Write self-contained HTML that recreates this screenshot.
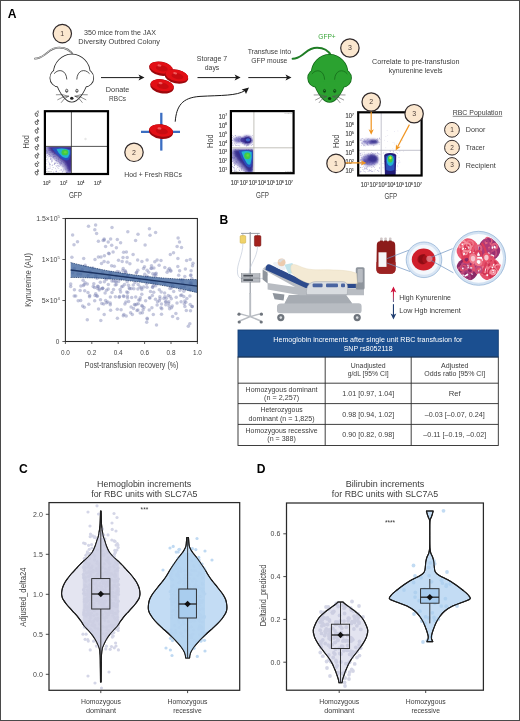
<!DOCTYPE html>
<html><head><meta charset="utf-8"><title>Figure</title>
<style>
html,body{margin:0;padding:0;background:#fff;}
body{width:520px;height:721px;overflow:hidden;font-family:"Liberation Sans",sans-serif;}
svg{display:block;font-family:"Liberation Sans",sans-serif;opacity:0.999;will-change:transform;}
</style></head><body>
<svg width="520" height="721" viewBox="0 0 520 721">
<rect x="0" y="0" width="520" height="721" fill="#ffffff"/>
<!-- p1_top.py -->
<text x="12.20" y="17.86" font-size="12.10" text-anchor="middle" fill="#000" font-weight="bold" >A</text>
<circle cx="62.30" cy="33.60" r="9.20" fill="#fbe7cf" stroke="#30292a" stroke-width="1.20"/><text x="62.30" y="35.92" font-size="7.00" text-anchor="middle" fill="#4a3c38" font-weight="normal" >1</text>
<text x="120.00" y="35.42" font-size="7.00" text-anchor="middle" fill="#3c3c3c" font-weight="normal" textLength="72.00" lengthAdjust="spacingAndGlyphs" >350 mice from the JAX</text>
<text x="119.20" y="44.22" font-size="7.00" text-anchor="middle" fill="#3c3c3c" font-weight="normal" textLength="81.70" lengthAdjust="spacingAndGlyphs" >Diversity Outbred Colony</text>
<path d="M73.3 55.6 C70.8 50.6 65.8 47.6 59.3 47.6 C51.8 47.6 48.8 51.6 44.8 54.6 C41.3 57.2 38.3 58.6 34.8 58.6" fill="none" stroke="#555" stroke-width="1.7" stroke-linecap="round"/>
<path d="M73.3 55.6 C70.8 50.6 65.8 47.6 59.3 47.6 C51.8 47.6 48.8 51.6 44.8 54.6 C41.3 57.2 38.3 58.6 34.8 58.6" fill="none" stroke="#fff" stroke-width="0.7" stroke-linecap="round"/>
<ellipse cx="71.8" cy="73.0" rx="18" ry="18.4" fill="#ffffff" stroke="#2a2a2a" stroke-width="1.60" stroke-linejoin="round"/>
<ellipse cx="58.6" cy="77.9" rx="8.3" ry="8.6" fill="#ffffff" stroke="#2a2a2a" stroke-width="1.60" stroke-linejoin="round"/>
<ellipse cx="85.0" cy="77.9" rx="8.3" ry="8.6" fill="#ffffff" stroke="#2a2a2a" stroke-width="1.60" stroke-linejoin="round"/>
<path d="M55.8 81.6 C59.8 93.6 66.3 101.8 71.8 101.8 C77.3 101.8 83.8 93.6 87.8 81.6 Z" fill="#ffffff" stroke="#2a2a2a" stroke-width="1.60" stroke-linejoin="round"/>
<ellipse cx="71.8" cy="73.0" rx="18" ry="18.4" fill="#ffffff"/>
<ellipse cx="58.6" cy="77.9" rx="8.3" ry="8.6" fill="#ffffff"/>
<ellipse cx="85.0" cy="77.9" rx="8.3" ry="8.6" fill="#ffffff"/>
<path d="M55.8 81.6 C59.8 93.6 66.3 101.8 71.8 101.8 C77.3 101.8 83.8 93.6 87.8 81.6 Z" fill="#ffffff"/>
<path d="M54.3 73.4 C58.8 68.1 66.4 70.1 66.8 79.1" fill="none" stroke="#2a2a2a" stroke-width="0.80" stroke-linecap="round"/>
<path d="M89.3 73.4 C84.8 68.1 77.2 70.1 76.8 79.1" fill="none" stroke="#2a2a2a" stroke-width="0.80" stroke-linecap="round"/>
<ellipse cx="66.7" cy="90.8" rx="1.15" ry="1.6" fill="#ffffff" stroke="#222" stroke-width="0.7"/>
<circle cx="66.7" cy="91.2" r="0.55" fill="#222"/>
<ellipse cx="76.9" cy="90.8" rx="1.15" ry="1.6" fill="#ffffff" stroke="#222" stroke-width="0.7"/>
<circle cx="76.9" cy="91.2" r="0.55" fill="#222"/>
<ellipse cx="71.8" cy="98.2" rx="1.7" ry="1.5" fill="#222"/>
<path d="M68.5 96.2 Q62.8 93.8 56.3 94.7" fill="none" stroke="#444" stroke-width="0.6" stroke-linecap="round"/>
<path d="M68.5 96.2 Q62.8 96.1 57.7 99.7" fill="none" stroke="#444" stroke-width="0.6" stroke-linecap="round"/>
<path d="M68.5 96.2 Q63.8 98.1 61.3 102.4" fill="none" stroke="#444" stroke-width="0.6" stroke-linecap="round"/>
<path d="M75.1 96.2 Q80.8 93.8 87.3 94.7" fill="none" stroke="#444" stroke-width="0.6" stroke-linecap="round"/>
<path d="M75.1 96.2 Q80.8 96.1 85.9 99.7" fill="none" stroke="#444" stroke-width="0.6" stroke-linecap="round"/>
<path d="M75.1 96.2 Q79.8 98.1 82.3 102.4" fill="none" stroke="#444" stroke-width="0.6" stroke-linecap="round"/>
<line x1="101.00" y1="77.60" x2="140.00" y2="77.60" stroke="#1a1a1a" stroke-width="1.00"/><path d="M144.50 77.60 L138.50 80.60 L140.00 77.60 L138.50 74.60 Z" fill="#1a1a1a"/>
<text x="117.60" y="91.92" font-size="7.00" text-anchor="middle" fill="#3c3c3c" font-weight="normal" textLength="23.50" lengthAdjust="spacingAndGlyphs" >Donate</text>
<text x="117.60" y="100.72" font-size="7.00" text-anchor="middle" fill="#3c3c3c" font-weight="normal" textLength="17.00" lengthAdjust="spacingAndGlyphs" >RBCs</text>
<g transform="translate(161.0 68.2) rotate(10)"><ellipse cx="0" cy="0.5" rx="12.0" ry="7.0" fill="#9c080d"/><ellipse cx="0" cy="-0.5" rx="11.6" ry="5.7" fill="#e20f15"/><ellipse cx="0.8" cy="0" rx="6.0" ry="2.9" fill="#c80b11"/><ellipse cx="-2" cy="-2.4" rx="2" ry="1.1" fill="#f4686a" opacity="0.85"/></g>
<g transform="translate(162.1 85.8) rotate(10)"><ellipse cx="0" cy="0.5" rx="12.0" ry="7.0" fill="#9c080d"/><ellipse cx="0" cy="-0.5" rx="11.6" ry="5.7" fill="#e20f15"/><ellipse cx="0.8" cy="0" rx="6.0" ry="2.9" fill="#c80b11"/><ellipse cx="-2" cy="-2.4" rx="2" ry="1.1" fill="#f4686a" opacity="0.85"/></g>
<g transform="translate(176.6 76.0) rotate(12)"><ellipse cx="0" cy="0.5" rx="12.0" ry="7.0" fill="#9c080d"/><ellipse cx="0" cy="-0.5" rx="11.6" ry="5.7" fill="#e20f15"/><ellipse cx="0.8" cy="0" rx="6.0" ry="2.9" fill="#c80b11"/><ellipse cx="-2" cy="-2.4" rx="2" ry="1.1" fill="#f4686a" opacity="0.85"/></g>
<line x1="197.50" y1="77.60" x2="236.10" y2="77.60" stroke="#1a1a1a" stroke-width="1.00"/><path d="M240.60 77.60 L234.60 80.60 L236.10 77.60 L234.60 74.60 Z" fill="#1a1a1a"/>
<text x="212.00" y="61.27" font-size="7.00" text-anchor="middle" fill="#3c3c3c" font-weight="normal" textLength="30.50" lengthAdjust="spacingAndGlyphs" >Storage 7</text>
<text x="212.00" y="69.72" font-size="7.00" text-anchor="middle" fill="#3c3c3c" font-weight="normal" textLength="14.50" lengthAdjust="spacingAndGlyphs" >days</text>
<line x1="248.30" y1="77.60" x2="287.00" y2="77.60" stroke="#1a1a1a" stroke-width="1.00"/><path d="M291.50 77.60 L285.50 80.60 L287.00 77.60 L285.50 74.60 Z" fill="#1a1a1a"/>
<text x="269.40" y="53.72" font-size="7.00" text-anchor="middle" fill="#3c3c3c" font-weight="normal" textLength="43.50" lengthAdjust="spacingAndGlyphs" >Transfuse into</text>
<text x="269.30" y="62.52" font-size="7.00" text-anchor="middle" fill="#3c3c3c" font-weight="normal" textLength="36.10" lengthAdjust="spacingAndGlyphs" >GFP mouse</text>
<path d="M175.2 121.7 C176.5 106 182 97.6 200 96.4 C221 95.2 237 96 245 90.5" fill="none" stroke="#1a1a1a" stroke-width="1"/>
<path d="M249 87.4 L246 94 L244.6 91 L241.6 89.6 Z" fill="#1a1a1a"/>
<line x1="161.3" y1="112.8" x2="161.3" y2="150.6" stroke="#3b6ec2" stroke-width="2.3"/>
<line x1="141" y1="131.8" x2="180" y2="131.8" stroke="#3b6ec2" stroke-width="2.3"/>
<g transform="translate(161.1 131.1) rotate(8)"><ellipse cx="0" cy="0.5" rx="12.2" ry="7.3" fill="#9c080d"/><ellipse cx="0" cy="-0.5" rx="11.8" ry="6.0" fill="#e20f15"/><ellipse cx="0.8" cy="0" rx="6.1" ry="3.0" fill="#c80b11"/><ellipse cx="-2" cy="-2.4" rx="2" ry="1.1" fill="#f4686a" opacity="0.85"/></g>
<circle cx="134.00" cy="152.30" r="9.20" fill="#fbe7cf" stroke="#30292a" stroke-width="1.20"/><text x="134.00" y="154.62" font-size="7.00" text-anchor="middle" fill="#4a3c38" font-weight="normal" >2</text>
<text x="153.10" y="176.77" font-size="7.00" text-anchor="middle" fill="#3c3c3c" font-weight="normal" textLength="57.75" lengthAdjust="spacingAndGlyphs" >Hod + Fresh RBCs</text>
<path d="M331.1 55.8 C328.6 50.8 323.6 47.8 317.1 47.8 C309.6 47.8 306.6 51.8 302.6 54.8 C299.1 57.4 296.1 58.8 292.6 58.8" fill="none" stroke="#1f7d25" stroke-width="2.0" stroke-linecap="round"/>
<ellipse cx="329.6" cy="73.2" rx="18" ry="18.4" fill="#2ba230" stroke="#156b1b" stroke-width="1.60" stroke-linejoin="round"/>
<ellipse cx="316.4" cy="78.1" rx="8.3" ry="8.6" fill="#2ba230" stroke="#156b1b" stroke-width="1.60" stroke-linejoin="round"/>
<ellipse cx="342.8" cy="78.1" rx="8.3" ry="8.6" fill="#2ba230" stroke="#156b1b" stroke-width="1.60" stroke-linejoin="round"/>
<path d="M313.6 81.8 C317.6 93.8 324.1 102.0 329.6 102.0 C335.1 102.0 341.6 93.8 345.6 81.8 Z" fill="#2ba230" stroke="#156b1b" stroke-width="1.60" stroke-linejoin="round"/>
<ellipse cx="329.6" cy="73.2" rx="18" ry="18.4" fill="#2ba230"/>
<ellipse cx="316.4" cy="78.1" rx="8.3" ry="8.6" fill="#2ba230"/>
<ellipse cx="342.8" cy="78.1" rx="8.3" ry="8.6" fill="#2ba230"/>
<path d="M313.6 81.8 C317.6 93.8 324.1 102.0 329.6 102.0 C335.1 102.0 341.6 93.8 345.6 81.8 Z" fill="#2ba230"/>
<path d="M312.1 73.6 C316.6 68.3 324.2 70.3 324.6 79.3" fill="none" stroke="#156b1b" stroke-width="0.80" stroke-linecap="round"/>
<path d="M347.1 73.6 C342.6 68.3 335.0 70.3 334.6 79.3" fill="none" stroke="#156b1b" stroke-width="0.80" stroke-linecap="round"/>
<ellipse cx="324.5" cy="91.0" rx="1.15" ry="1.6" fill="#2ba230" stroke="#0d3d10" stroke-width="0.7"/>
<circle cx="324.5" cy="91.4" r="0.55" fill="#0d3d10"/>
<ellipse cx="334.7" cy="91.0" rx="1.15" ry="1.6" fill="#2ba230" stroke="#0d3d10" stroke-width="0.7"/>
<circle cx="334.7" cy="91.4" r="0.55" fill="#0d3d10"/>
<ellipse cx="329.6" cy="98.4" rx="1.7" ry="1.5" fill="#0d3d10"/>
<path d="M326.3 96.4 Q320.6 94.0 314.1 94.9" fill="none" stroke="#555" stroke-width="0.6" stroke-linecap="round"/>
<path d="M326.3 96.4 Q320.6 96.3 315.5 99.9" fill="none" stroke="#555" stroke-width="0.6" stroke-linecap="round"/>
<path d="M326.3 96.4 Q321.6 98.3 319.1 102.6" fill="none" stroke="#555" stroke-width="0.6" stroke-linecap="round"/>
<path d="M332.9 96.4 Q338.6 94.0 345.1 94.9" fill="none" stroke="#555" stroke-width="0.6" stroke-linecap="round"/>
<path d="M332.9 96.4 Q338.6 96.3 343.7 99.9" fill="none" stroke="#555" stroke-width="0.6" stroke-linecap="round"/>
<path d="M332.9 96.4 Q337.6 98.3 340.1 102.6" fill="none" stroke="#555" stroke-width="0.6" stroke-linecap="round"/>
<text x="327.00" y="38.70" font-size="7.50" text-anchor="middle" fill="#3aa63a" font-weight="normal" textLength="17.50" lengthAdjust="spacingAndGlyphs" >GFP+</text>
<circle cx="349.90" cy="48.00" r="9.20" fill="#fbe7cf" stroke="#30292a" stroke-width="1.20"/><text x="349.90" y="50.32" font-size="7.00" text-anchor="middle" fill="#4a3c38" font-weight="normal" >3</text>
<text x="415.80" y="64.02" font-size="7.00" text-anchor="middle" fill="#3c3c3c" font-weight="normal" textLength="87.70" lengthAdjust="spacingAndGlyphs" >Correlate to pre-transfusion</text>
<text x="415.70" y="72.52" font-size="7.00" text-anchor="middle" fill="#3c3c3c" font-weight="normal" textLength="53.80" lengthAdjust="spacingAndGlyphs" >kynurenine levels</text>
<!-- p2_flow.py -->
<defs><filter id="bl1" x="-30%" y="-30%" width="160%" height="160%"><feGaussianBlur stdDeviation="0.9"/></filter><filter id="bl2" x="-30%" y="-30%" width="160%" height="160%"><feGaussianBlur stdDeviation="0.7"/></filter><filter id="bl3" x="-30%" y="-30%" width="160%" height="160%"><feGaussianBlur stdDeviation="0.5"/></filter></defs>
<rect x="44.9" y="111.2" width="63.1" height="62.8" fill="#fff"/>
<clipPath id="c1"><rect x="44.9" y="111.2" width="63.1" height="62.8"/></clipPath>
<g clip-path="url(#c1)">
<clipPath id="c1q"><rect x="45" y="146.8" width="26" height="27"/></clipPath><g clip-path="url(#c1q)">
<g fill="#4a3fa0" opacity="0.60"><circle cx="51.7" cy="162.1" r="0.42"/><circle cx="54.9" cy="163.5" r="0.42"/><circle cx="61.0" cy="150.6" r="0.42"/><circle cx="46.3" cy="169.1" r="0.42"/><circle cx="52.2" cy="154.6" r="0.42"/><circle cx="69.9" cy="160.3" r="0.42"/><circle cx="66.1" cy="160.4" r="0.42"/><circle cx="61.3" cy="152.6" r="0.42"/><circle cx="61.2" cy="169.8" r="0.42"/><circle cx="58.6" cy="166.8" r="0.42"/><circle cx="62.1" cy="150.5" r="0.42"/><circle cx="64.2" cy="163.2" r="0.42"/><circle cx="53.2" cy="149.7" r="0.42"/><circle cx="66.8" cy="160.3" r="0.42"/><circle cx="63.3" cy="170.1" r="0.42"/><circle cx="63.1" cy="171.1" r="0.42"/><circle cx="55.5" cy="168.2" r="0.42"/><circle cx="56.7" cy="171.5" r="0.42"/><circle cx="67.1" cy="151.3" r="0.42"/><circle cx="49.3" cy="154.2" r="0.42"/><circle cx="69.2" cy="159.5" r="0.42"/><circle cx="61.0" cy="156.2" r="0.42"/><circle cx="58.2" cy="158.3" r="0.42"/><circle cx="54.4" cy="163.0" r="0.42"/><circle cx="60.0" cy="170.7" r="0.42"/><circle cx="62.4" cy="171.3" r="0.42"/><circle cx="66.6" cy="172.8" r="0.42"/><circle cx="62.1" cy="152.9" r="0.42"/><circle cx="66.7" cy="172.2" r="0.42"/><circle cx="67.7" cy="162.7" r="0.42"/><circle cx="63.1" cy="154.1" r="0.42"/><circle cx="66.0" cy="162.8" r="0.42"/><circle cx="52.8" cy="150.5" r="0.42"/><circle cx="66.5" cy="172.8" r="0.42"/><circle cx="48.1" cy="168.2" r="0.42"/><circle cx="55.9" cy="152.6" r="0.42"/><circle cx="53.1" cy="167.5" r="0.42"/><circle cx="66.9" cy="150.1" r="0.42"/><circle cx="60.7" cy="150.1" r="0.42"/><circle cx="63.2" cy="156.9" r="0.42"/><circle cx="67.1" cy="172.5" r="0.42"/><circle cx="58.1" cy="173.0" r="0.42"/><circle cx="53.4" cy="150.8" r="0.42"/><circle cx="60.4" cy="149.8" r="0.42"/><circle cx="50.7" cy="158.8" r="0.42"/><circle cx="60.7" cy="152.7" r="0.42"/><circle cx="47.0" cy="169.8" r="0.42"/><circle cx="53.5" cy="172.0" r="0.42"/><circle cx="67.5" cy="158.1" r="0.42"/><circle cx="57.0" cy="161.5" r="0.42"/><circle cx="61.5" cy="163.3" r="0.42"/><circle cx="59.4" cy="163.9" r="0.42"/><circle cx="68.6" cy="161.2" r="0.42"/><circle cx="56.3" cy="166.3" r="0.42"/><circle cx="51.7" cy="156.2" r="0.42"/><circle cx="69.5" cy="161.5" r="0.42"/><circle cx="59.2" cy="149.3" r="0.42"/><circle cx="56.0" cy="162.9" r="0.42"/><circle cx="46.5" cy="163.8" r="0.42"/><circle cx="61.2" cy="150.4" r="0.42"/><circle cx="61.1" cy="160.2" r="0.42"/><circle cx="62.3" cy="157.5" r="0.42"/><circle cx="63.0" cy="166.7" r="0.42"/><circle cx="46.5" cy="150.5" r="0.42"/><circle cx="62.2" cy="172.1" r="0.42"/><circle cx="52.0" cy="160.0" r="0.42"/><circle cx="60.2" cy="156.7" r="0.42"/><circle cx="54.7" cy="156.5" r="0.42"/><circle cx="54.9" cy="163.3" r="0.42"/><circle cx="53.2" cy="158.1" r="0.42"/><circle cx="64.5" cy="149.6" r="0.42"/><circle cx="59.7" cy="166.6" r="0.42"/><circle cx="53.4" cy="154.3" r="0.42"/><circle cx="65.3" cy="154.7" r="0.42"/><circle cx="50.5" cy="159.4" r="0.42"/><circle cx="62.8" cy="151.4" r="0.42"/><circle cx="53.7" cy="157.0" r="0.42"/><circle cx="66.0" cy="159.5" r="0.42"/><circle cx="66.5" cy="153.1" r="0.42"/><circle cx="54.1" cy="164.6" r="0.42"/><circle cx="67.2" cy="159.8" r="0.42"/><circle cx="51.4" cy="151.9" r="0.42"/><circle cx="58.7" cy="153.6" r="0.42"/><circle cx="65.4" cy="169.1" r="0.42"/><circle cx="50.4" cy="155.7" r="0.42"/><circle cx="65.4" cy="164.4" r="0.42"/><circle cx="65.4" cy="157.3" r="0.42"/><circle cx="49.1" cy="156.0" r="0.42"/><circle cx="65.1" cy="155.5" r="0.42"/><circle cx="54.3" cy="159.0" r="0.42"/><circle cx="56.1" cy="158.8" r="0.42"/><circle cx="68.1" cy="152.7" r="0.42"/><circle cx="46.1" cy="171.6" r="0.42"/><circle cx="67.1" cy="172.7" r="0.42"/><circle cx="56.4" cy="171.8" r="0.42"/><circle cx="68.3" cy="154.3" r="0.42"/><circle cx="63.9" cy="169.1" r="0.42"/><circle cx="61.9" cy="161.5" r="0.42"/><circle cx="52.9" cy="157.2" r="0.42"/><circle cx="51.5" cy="150.6" r="0.42"/><circle cx="60.1" cy="155.9" r="0.42"/><circle cx="65.4" cy="150.1" r="0.42"/><circle cx="67.7" cy="165.6" r="0.42"/><circle cx="68.2" cy="170.5" r="0.42"/><circle cx="67.6" cy="162.8" r="0.42"/><circle cx="46.3" cy="166.9" r="0.42"/><circle cx="50.1" cy="156.2" r="0.42"/><circle cx="61.9" cy="161.6" r="0.42"/><circle cx="55.9" cy="171.5" r="0.42"/><circle cx="60.7" cy="157.2" r="0.42"/><circle cx="52.1" cy="169.7" r="0.42"/><circle cx="57.5" cy="167.8" r="0.42"/><circle cx="54.4" cy="153.7" r="0.42"/><circle cx="58.8" cy="168.6" r="0.42"/><circle cx="50.1" cy="168.0" r="0.42"/><circle cx="68.1" cy="168.3" r="0.42"/><circle cx="65.8" cy="149.2" r="0.42"/><circle cx="61.1" cy="169.7" r="0.42"/><circle cx="47.2" cy="155.5" r="0.42"/><circle cx="52.4" cy="161.7" r="0.42"/><circle cx="56.2" cy="160.3" r="0.42"/><circle cx="64.6" cy="149.0" r="0.42"/><circle cx="47.3" cy="152.0" r="0.42"/><circle cx="49.0" cy="150.6" r="0.42"/><circle cx="69.4" cy="169.5" r="0.42"/><circle cx="48.1" cy="161.1" r="0.42"/><circle cx="53.6" cy="156.5" r="0.42"/><circle cx="54.4" cy="164.5" r="0.42"/><circle cx="60.1" cy="157.7" r="0.42"/><circle cx="50.6" cy="156.9" r="0.42"/><circle cx="49.0" cy="162.3" r="0.42"/><circle cx="63.2" cy="158.1" r="0.42"/><circle cx="47.9" cy="153.3" r="0.42"/><circle cx="55.0" cy="163.5" r="0.42"/><circle cx="64.8" cy="158.1" r="0.42"/><circle cx="65.2" cy="164.0" r="0.42"/><circle cx="56.4" cy="157.9" r="0.42"/><circle cx="57.9" cy="165.9" r="0.42"/><circle cx="56.1" cy="165.7" r="0.42"/><circle cx="57.1" cy="154.9" r="0.42"/><circle cx="58.9" cy="165.7" r="0.42"/><circle cx="47.7" cy="159.2" r="0.42"/><circle cx="56.2" cy="170.1" r="0.42"/><circle cx="68.5" cy="158.0" r="0.42"/><circle cx="67.5" cy="168.0" r="0.42"/><circle cx="52.3" cy="160.1" r="0.42"/><circle cx="49.0" cy="168.5" r="0.42"/><circle cx="61.9" cy="170.3" r="0.42"/><circle cx="65.0" cy="165.0" r="0.42"/><circle cx="63.6" cy="162.5" r="0.42"/></g>
<g fill="#4a3fa0" opacity="0.60"><circle cx="49.8" cy="150.8" r="0.42"/><circle cx="52.3" cy="151.6" r="0.42"/><circle cx="47.1" cy="155.8" r="0.42"/><circle cx="60.7" cy="162.6" r="0.42"/><circle cx="58.2" cy="152.8" r="0.42"/><circle cx="54.6" cy="153.7" r="0.42"/><circle cx="48.8" cy="150.8" r="0.42"/><circle cx="49.4" cy="164.8" r="0.42"/><circle cx="59.3" cy="162.7" r="0.42"/><circle cx="58.8" cy="152.3" r="0.42"/><circle cx="51.0" cy="159.7" r="0.42"/><circle cx="57.7" cy="163.5" r="0.42"/><circle cx="60.1" cy="150.5" r="0.42"/><circle cx="55.7" cy="160.4" r="0.42"/><circle cx="54.1" cy="152.0" r="0.42"/><circle cx="53.6" cy="150.5" r="0.42"/><circle cx="61.0" cy="163.7" r="0.42"/><circle cx="54.8" cy="154.1" r="0.42"/><circle cx="60.5" cy="158.7" r="0.42"/><circle cx="60.1" cy="163.4" r="0.42"/><circle cx="54.1" cy="156.0" r="0.42"/><circle cx="55.6" cy="156.3" r="0.42"/><circle cx="48.6" cy="154.2" r="0.42"/><circle cx="59.0" cy="149.7" r="0.42"/><circle cx="46.7" cy="159.6" r="0.42"/><circle cx="50.5" cy="158.1" r="0.42"/><circle cx="53.5" cy="154.8" r="0.42"/><circle cx="62.0" cy="152.3" r="0.42"/><circle cx="52.6" cy="152.4" r="0.42"/><circle cx="56.1" cy="153.7" r="0.42"/><circle cx="51.7" cy="161.7" r="0.42"/><circle cx="51.1" cy="158.5" r="0.42"/><circle cx="60.5" cy="150.7" r="0.42"/><circle cx="47.0" cy="152.9" r="0.42"/><circle cx="58.2" cy="159.5" r="0.42"/><circle cx="49.8" cy="154.6" r="0.42"/><circle cx="48.8" cy="156.8" r="0.42"/><circle cx="46.7" cy="160.9" r="0.42"/><circle cx="60.3" cy="165.2" r="0.42"/><circle cx="57.8" cy="165.3" r="0.42"/><circle cx="46.3" cy="153.9" r="0.42"/><circle cx="61.5" cy="162.2" r="0.42"/><circle cx="52.6" cy="165.0" r="0.42"/><circle cx="55.9" cy="162.9" r="0.42"/><circle cx="50.7" cy="152.3" r="0.42"/><circle cx="53.1" cy="151.3" r="0.42"/><circle cx="52.1" cy="165.4" r="0.42"/><circle cx="51.3" cy="149.2" r="0.42"/><circle cx="46.7" cy="151.9" r="0.42"/><circle cx="58.5" cy="155.2" r="0.42"/><circle cx="50.6" cy="150.7" r="0.42"/><circle cx="61.7" cy="156.2" r="0.42"/><circle cx="49.3" cy="150.0" r="0.42"/><circle cx="46.9" cy="151.9" r="0.42"/><circle cx="56.8" cy="151.5" r="0.42"/><circle cx="46.7" cy="157.3" r="0.42"/><circle cx="50.0" cy="166.0" r="0.42"/><circle cx="48.0" cy="158.0" r="0.42"/><circle cx="58.4" cy="156.0" r="0.42"/><circle cx="61.8" cy="157.1" r="0.42"/><circle cx="49.9" cy="156.0" r="0.42"/><circle cx="46.6" cy="156.2" r="0.42"/><circle cx="50.0" cy="164.1" r="0.42"/><circle cx="59.3" cy="157.5" r="0.42"/><circle cx="46.5" cy="153.3" r="0.42"/><circle cx="49.9" cy="152.5" r="0.42"/><circle cx="49.7" cy="163.8" r="0.42"/><circle cx="48.3" cy="149.9" r="0.42"/><circle cx="60.8" cy="158.6" r="0.42"/><circle cx="61.8" cy="155.9" r="0.42"/><circle cx="60.4" cy="160.1" r="0.42"/><circle cx="58.7" cy="161.7" r="0.42"/><circle cx="53.9" cy="150.6" r="0.42"/><circle cx="49.4" cy="163.9" r="0.42"/><circle cx="60.4" cy="164.7" r="0.42"/><circle cx="51.4" cy="160.2" r="0.42"/><circle cx="58.8" cy="159.9" r="0.42"/><circle cx="59.0" cy="158.0" r="0.42"/><circle cx="56.5" cy="160.7" r="0.42"/><circle cx="50.3" cy="164.7" r="0.42"/></g>
<g filter="url(#bl1)"><path d="M44 146 L73 146 L73 162 L71.5 175 L67.5 175 L63 167 L56 160.5 L49 155 L44 151.5 Z" fill="#4a3fa0" opacity="0.55"/><path d="M47 146 L73 146 L73 160 L71.8 172 L69 172 L65 163 L58.5 157 L51 151.5 Z" fill="#3a2c8e" opacity="0.95"/></g>
<g filter="url(#bl2)"><path d="M52 148.6 Q62 146.6 70.6 149.4 Q71.6 154 69 159.5 Q66 161.5 62 159 Q56 154.5 52 148.6 Z" fill="#2a50bc"/><path d="M56.5 149.2 Q63.5 147.4 69.6 150.2 Q70.4 153.8 68 157.6 Q65 158.8 62 156.6 Q58.4 153.4 56.5 149.2 Z" fill="#22b4d2"/><ellipse cx="64.9" cy="152.4" rx="3.4" ry="2.9" fill="#3fca45"/><ellipse cx="65.3" cy="152.2" rx="1.4" ry="1.2" fill="#63d63f"/></g>
</g>
</g>
<line x1="71.4" y1="111.2" x2="71.4" y2="174.0" stroke="#2a2a2a" stroke-width="0.8"/>
<line x1="44.9" y1="146.4" x2="108.0" y2="146.4" stroke="#2a2a2a" stroke-width="0.8"/>
<circle cx="85.5" cy="139" r="1.2" fill="#ddd" opacity="0.7"/>
<rect x="44.9" y="111.2" width="63.1" height="62.8" fill="none" stroke="#000" stroke-width="2.2"/>
<text x="34.6" y="116.40" font-size="6" fill="#444" stroke="#444" stroke-width="0.2" transform="rotate(-28 36.9 114.20)">0<tspan font-size="3.4" dy="-2.4">7</tspan></text>
<text x="34.6" y="124.78" font-size="6" fill="#444" stroke="#444" stroke-width="0.2" transform="rotate(-28 36.9 122.58)">0<tspan font-size="3.4" dy="-2.4">6</tspan></text>
<text x="34.6" y="133.16" font-size="6" fill="#444" stroke="#444" stroke-width="0.2" transform="rotate(-28 36.9 130.96)">0<tspan font-size="3.4" dy="-2.4">5</tspan></text>
<text x="34.6" y="141.54" font-size="6" fill="#444" stroke="#444" stroke-width="0.2" transform="rotate(-28 36.9 139.34)">0<tspan font-size="3.4" dy="-2.4">4</tspan></text>
<text x="34.6" y="149.92" font-size="6" fill="#444" stroke="#444" stroke-width="0.2" transform="rotate(-28 36.9 147.72)">0<tspan font-size="3.4" dy="-2.4">3</tspan></text>
<text x="34.6" y="158.30" font-size="6" fill="#444" stroke="#444" stroke-width="0.2" transform="rotate(-28 36.9 156.10)">0<tspan font-size="3.4" dy="-2.4">2</tspan></text>
<text x="34.6" y="166.68" font-size="6" fill="#444" stroke="#444" stroke-width="0.2" transform="rotate(-28 36.9 164.48)">0<tspan font-size="3.4" dy="-2.4">1</tspan></text>
<text x="34.6" y="175.06" font-size="6" fill="#444" stroke="#444" stroke-width="0.2" transform="rotate(-28 36.9 172.86)">0<tspan font-size="3.4" dy="-2.4">0</tspan></text>
<text x="46.60" y="185.00" font-size="6.10" text-anchor="middle" fill="#4a4a4a" stroke="#4a4a4a" stroke-width="0.18" textLength="7.20" lengthAdjust="spacingAndGlyphs">10<tspan font-size="3.35" dy="-2.2">0</tspan></text>
<text x="63.70" y="185.00" font-size="6.10" text-anchor="middle" fill="#4a4a4a" stroke="#4a4a4a" stroke-width="0.18" textLength="7.20" lengthAdjust="spacingAndGlyphs">10<tspan font-size="3.35" dy="-2.2">2</tspan></text>
<text x="80.80" y="185.00" font-size="6.10" text-anchor="middle" fill="#4a4a4a" stroke="#4a4a4a" stroke-width="0.18" textLength="7.20" lengthAdjust="spacingAndGlyphs">10<tspan font-size="3.35" dy="-2.2">4</tspan></text>
<text x="97.70" y="185.00" font-size="6.10" text-anchor="middle" fill="#4a4a4a" stroke="#4a4a4a" stroke-width="0.18" textLength="7.20" lengthAdjust="spacingAndGlyphs">10<tspan font-size="3.35" dy="-2.2">6</tspan></text>
<text x="75.40" y="197.86" font-size="9.60" text-anchor="middle" fill="#444" font-weight="normal" textLength="13.00" lengthAdjust="spacingAndGlyphs" >GFP</text>
<text transform="translate(25.20 141.80) rotate(-90)" x="0" y="3.46" font-size="9.60" text-anchor="middle" fill="#444" font-weight="normal" textLength="13.40" lengthAdjust="spacingAndGlyphs">Hod</text>
<text x="46.3" y="172.4" font-size="2.2" fill="#888">0.001</text>
<rect x="230.9" y="111.1" width="62.7" height="62.1" fill="#fff"/>
<clipPath id="c2"><rect x="230.9" y="111.1" width="62.7" height="62.1"/></clipPath>
<g clip-path="url(#c2)">
<clipPath id="c2q"><rect x="231" y="112" width="22.3" height="61"/></clipPath><g clip-path="url(#c2q)">
<g fill="#4a3fa0" opacity="0.60"><circle cx="245.1" cy="143.2" r="0.42"/><circle cx="248.7" cy="145.4" r="0.42"/><circle cx="247.5" cy="145.1" r="0.42"/><circle cx="232.6" cy="140.1" r="0.42"/><circle cx="251.8" cy="142.1" r="0.42"/><circle cx="250.9" cy="136.2" r="0.42"/><circle cx="241.9" cy="137.7" r="0.42"/><circle cx="243.4" cy="141.3" r="0.42"/><circle cx="232.3" cy="137.4" r="0.42"/><circle cx="237.9" cy="145.1" r="0.42"/><circle cx="248.1" cy="136.8" r="0.42"/><circle cx="248.7" cy="136.5" r="0.42"/><circle cx="245.0" cy="136.4" r="0.42"/><circle cx="232.0" cy="144.6" r="0.42"/><circle cx="236.4" cy="137.4" r="0.42"/><circle cx="252.6" cy="144.6" r="0.42"/><circle cx="238.1" cy="145.6" r="0.42"/><circle cx="243.3" cy="142.5" r="0.42"/><circle cx="236.3" cy="145.4" r="0.42"/><circle cx="246.5" cy="145.6" r="0.42"/><circle cx="250.8" cy="138.3" r="0.42"/><circle cx="239.6" cy="136.8" r="0.42"/><circle cx="235.1" cy="135.7" r="0.42"/><circle cx="238.3" cy="141.6" r="0.42"/><circle cx="232.1" cy="142.5" r="0.42"/><circle cx="239.1" cy="138.4" r="0.42"/><circle cx="249.2" cy="140.3" r="0.42"/><circle cx="238.6" cy="140.3" r="0.42"/><circle cx="246.8" cy="135.6" r="0.42"/><circle cx="252.5" cy="135.3" r="0.42"/><circle cx="247.7" cy="144.3" r="0.42"/><circle cx="232.4" cy="143.7" r="0.42"/><circle cx="239.7" cy="141.4" r="0.42"/><circle cx="232.2" cy="135.5" r="0.42"/><circle cx="235.8" cy="145.5" r="0.42"/><circle cx="236.1" cy="143.3" r="0.42"/><circle cx="251.5" cy="145.4" r="0.42"/><circle cx="239.2" cy="138.9" r="0.42"/><circle cx="243.0" cy="143.5" r="0.42"/><circle cx="234.3" cy="143.2" r="0.42"/><circle cx="248.7" cy="144.5" r="0.42"/><circle cx="232.8" cy="145.4" r="0.42"/><circle cx="233.9" cy="138.7" r="0.42"/><circle cx="244.8" cy="145.1" r="0.42"/><circle cx="239.1" cy="145.2" r="0.42"/><circle cx="243.4" cy="138.4" r="0.42"/><circle cx="238.7" cy="137.0" r="0.42"/><circle cx="233.6" cy="136.6" r="0.42"/><circle cx="246.5" cy="146.0" r="0.42"/><circle cx="235.4" cy="135.5" r="0.42"/><circle cx="252.7" cy="140.9" r="0.42"/><circle cx="240.5" cy="137.6" r="0.42"/><circle cx="244.5" cy="144.1" r="0.42"/><circle cx="241.6" cy="139.6" r="0.42"/><circle cx="233.2" cy="145.1" r="0.42"/><circle cx="232.7" cy="140.4" r="0.42"/><circle cx="249.6" cy="136.4" r="0.42"/><circle cx="247.4" cy="145.4" r="0.42"/><circle cx="245.2" cy="143.7" r="0.42"/><circle cx="234.2" cy="139.8" r="0.42"/><circle cx="235.1" cy="144.3" r="0.42"/><circle cx="238.2" cy="140.0" r="0.42"/><circle cx="253.0" cy="144.4" r="0.42"/><circle cx="252.5" cy="140.0" r="0.42"/><circle cx="242.3" cy="143.0" r="0.42"/><circle cx="242.1" cy="138.2" r="0.42"/><circle cx="240.5" cy="136.6" r="0.42"/><circle cx="239.9" cy="145.9" r="0.42"/><circle cx="252.2" cy="141.9" r="0.42"/><circle cx="242.5" cy="138.7" r="0.42"/></g>
<g fill="#4a3fa0" opacity="0.60"><circle cx="248.7" cy="167.9" r="0.42"/><circle cx="242.2" cy="155.0" r="0.42"/><circle cx="232.0" cy="164.2" r="0.42"/><circle cx="241.9" cy="166.5" r="0.42"/><circle cx="239.8" cy="166.7" r="0.42"/><circle cx="237.7" cy="167.4" r="0.42"/><circle cx="247.3" cy="158.5" r="0.42"/><circle cx="243.3" cy="164.7" r="0.42"/><circle cx="236.1" cy="161.7" r="0.42"/><circle cx="248.9" cy="155.1" r="0.42"/><circle cx="248.9" cy="164.8" r="0.42"/><circle cx="249.7" cy="156.7" r="0.42"/><circle cx="234.0" cy="167.4" r="0.42"/><circle cx="248.9" cy="159.2" r="0.42"/><circle cx="234.0" cy="153.5" r="0.42"/><circle cx="245.3" cy="155.7" r="0.42"/><circle cx="252.0" cy="162.5" r="0.42"/><circle cx="236.2" cy="164.1" r="0.42"/><circle cx="239.6" cy="170.5" r="0.42"/><circle cx="251.1" cy="160.8" r="0.42"/><circle cx="245.5" cy="165.1" r="0.42"/><circle cx="248.9" cy="171.5" r="0.42"/><circle cx="232.6" cy="157.3" r="0.42"/><circle cx="244.6" cy="156.0" r="0.42"/><circle cx="244.4" cy="151.1" r="0.42"/><circle cx="250.5" cy="161.1" r="0.42"/><circle cx="234.5" cy="164.2" r="0.42"/><circle cx="238.6" cy="153.5" r="0.42"/><circle cx="242.2" cy="152.2" r="0.42"/><circle cx="236.4" cy="168.9" r="0.42"/><circle cx="246.7" cy="149.3" r="0.42"/><circle cx="248.3" cy="149.4" r="0.42"/><circle cx="239.0" cy="169.8" r="0.42"/><circle cx="245.0" cy="156.0" r="0.42"/><circle cx="239.9" cy="158.0" r="0.42"/><circle cx="234.7" cy="172.0" r="0.42"/><circle cx="233.1" cy="158.7" r="0.42"/><circle cx="247.7" cy="158.1" r="0.42"/><circle cx="252.6" cy="154.6" r="0.42"/><circle cx="252.6" cy="169.5" r="0.42"/><circle cx="246.1" cy="169.5" r="0.42"/><circle cx="241.4" cy="168.1" r="0.42"/><circle cx="248.7" cy="160.9" r="0.42"/><circle cx="241.9" cy="165.2" r="0.42"/><circle cx="240.6" cy="151.0" r="0.42"/><circle cx="247.7" cy="155.1" r="0.42"/><circle cx="242.2" cy="167.0" r="0.42"/><circle cx="235.6" cy="149.5" r="0.42"/><circle cx="234.6" cy="162.6" r="0.42"/><circle cx="239.6" cy="154.9" r="0.42"/><circle cx="241.5" cy="170.3" r="0.42"/><circle cx="237.4" cy="158.4" r="0.42"/><circle cx="250.5" cy="163.1" r="0.42"/><circle cx="237.6" cy="159.9" r="0.42"/><circle cx="242.0" cy="152.3" r="0.42"/><circle cx="239.9" cy="156.0" r="0.42"/><circle cx="248.9" cy="156.4" r="0.42"/><circle cx="245.8" cy="171.3" r="0.42"/><circle cx="251.4" cy="157.6" r="0.42"/><circle cx="244.7" cy="156.4" r="0.42"/><circle cx="240.4" cy="160.2" r="0.42"/><circle cx="248.7" cy="170.5" r="0.42"/><circle cx="238.1" cy="149.1" r="0.42"/><circle cx="241.4" cy="150.3" r="0.42"/><circle cx="232.6" cy="166.8" r="0.42"/><circle cx="234.4" cy="165.5" r="0.42"/><circle cx="239.6" cy="170.6" r="0.42"/><circle cx="249.9" cy="150.4" r="0.42"/><circle cx="236.0" cy="170.8" r="0.42"/><circle cx="244.9" cy="158.7" r="0.42"/><circle cx="248.4" cy="167.7" r="0.42"/><circle cx="242.3" cy="159.8" r="0.42"/><circle cx="234.1" cy="157.3" r="0.42"/><circle cx="235.0" cy="163.4" r="0.42"/><circle cx="244.7" cy="152.3" r="0.42"/><circle cx="245.2" cy="151.2" r="0.42"/><circle cx="234.2" cy="163.8" r="0.42"/><circle cx="241.7" cy="169.7" r="0.42"/><circle cx="245.2" cy="165.1" r="0.42"/><circle cx="234.7" cy="168.2" r="0.42"/><circle cx="233.8" cy="163.2" r="0.42"/><circle cx="251.1" cy="169.9" r="0.42"/><circle cx="250.8" cy="159.4" r="0.42"/><circle cx="246.6" cy="167.2" r="0.42"/><circle cx="234.9" cy="170.7" r="0.42"/><circle cx="251.1" cy="159.1" r="0.42"/><circle cx="248.3" cy="159.3" r="0.42"/><circle cx="237.8" cy="165.4" r="0.42"/><circle cx="233.3" cy="167.4" r="0.42"/><circle cx="252.5" cy="155.6" r="0.42"/><circle cx="251.7" cy="150.9" r="0.42"/><circle cx="250.0" cy="155.4" r="0.42"/><circle cx="252.3" cy="158.9" r="0.42"/><circle cx="251.4" cy="149.7" r="0.42"/><circle cx="233.8" cy="167.8" r="0.42"/><circle cx="245.4" cy="161.3" r="0.42"/><circle cx="232.7" cy="153.0" r="0.42"/><circle cx="239.8" cy="150.2" r="0.42"/><circle cx="252.9" cy="166.6" r="0.42"/><circle cx="251.9" cy="165.1" r="0.42"/><circle cx="239.2" cy="150.8" r="0.42"/><circle cx="247.4" cy="151.6" r="0.42"/><circle cx="243.5" cy="159.7" r="0.42"/><circle cx="242.4" cy="150.7" r="0.42"/><circle cx="233.6" cy="161.0" r="0.42"/><circle cx="232.6" cy="161.1" r="0.42"/><circle cx="235.2" cy="155.5" r="0.42"/><circle cx="235.2" cy="162.1" r="0.42"/><circle cx="240.2" cy="154.1" r="0.42"/><circle cx="236.7" cy="162.0" r="0.42"/><circle cx="251.1" cy="158.6" r="0.42"/><circle cx="235.4" cy="156.3" r="0.42"/><circle cx="237.0" cy="162.2" r="0.42"/><circle cx="248.5" cy="162.1" r="0.42"/><circle cx="236.0" cy="156.5" r="0.42"/><circle cx="240.0" cy="159.1" r="0.42"/><circle cx="240.3" cy="171.9" r="0.42"/><circle cx="243.6" cy="164.2" r="0.42"/><circle cx="247.0" cy="163.8" r="0.42"/><circle cx="248.9" cy="157.6" r="0.42"/><circle cx="246.0" cy="171.4" r="0.42"/><circle cx="235.4" cy="163.4" r="0.42"/><circle cx="240.1" cy="150.4" r="0.42"/><circle cx="232.8" cy="166.5" r="0.42"/><circle cx="234.4" cy="165.4" r="0.42"/><circle cx="234.1" cy="157.5" r="0.42"/><circle cx="232.7" cy="161.5" r="0.42"/><circle cx="248.5" cy="154.2" r="0.42"/><circle cx="243.9" cy="170.2" r="0.42"/><circle cx="238.2" cy="159.8" r="0.42"/><circle cx="247.2" cy="168.9" r="0.42"/><circle cx="235.5" cy="164.2" r="0.42"/><circle cx="234.5" cy="151.6" r="0.42"/><circle cx="252.6" cy="150.2" r="0.42"/><circle cx="251.3" cy="166.3" r="0.42"/><circle cx="246.2" cy="165.8" r="0.42"/><circle cx="245.7" cy="155.6" r="0.42"/><circle cx="241.3" cy="153.6" r="0.42"/><circle cx="250.0" cy="166.9" r="0.42"/><circle cx="248.5" cy="153.9" r="0.42"/><circle cx="244.4" cy="154.9" r="0.42"/><circle cx="248.6" cy="166.1" r="0.42"/><circle cx="252.9" cy="165.3" r="0.42"/><circle cx="246.4" cy="166.9" r="0.42"/><circle cx="234.0" cy="162.7" r="0.42"/><circle cx="232.7" cy="157.4" r="0.42"/><circle cx="234.5" cy="170.8" r="0.42"/><circle cx="232.6" cy="170.2" r="0.42"/><circle cx="251.9" cy="159.0" r="0.42"/><circle cx="249.5" cy="150.2" r="0.42"/><circle cx="234.9" cy="149.2" r="0.42"/><circle cx="233.4" cy="149.1" r="0.42"/><circle cx="249.4" cy="151.0" r="0.42"/><circle cx="244.4" cy="155.3" r="0.42"/><circle cx="234.8" cy="158.6" r="0.42"/><circle cx="235.8" cy="171.5" r="0.42"/><circle cx="240.1" cy="162.7" r="0.42"/><circle cx="243.8" cy="163.4" r="0.42"/><circle cx="242.1" cy="155.2" r="0.42"/><circle cx="234.9" cy="169.4" r="0.42"/><circle cx="236.0" cy="159.3" r="0.42"/><circle cx="249.0" cy="162.2" r="0.42"/><circle cx="251.9" cy="167.6" r="0.42"/><circle cx="242.8" cy="151.8" r="0.42"/><circle cx="244.4" cy="159.9" r="0.42"/><circle cx="250.1" cy="161.2" r="0.42"/><circle cx="246.6" cy="167.7" r="0.42"/><circle cx="241.9" cy="168.4" r="0.42"/><circle cx="250.9" cy="152.6" r="0.42"/><circle cx="251.3" cy="169.0" r="0.42"/></g>
<g filter="url(#bl1)"><ellipse cx="238.6" cy="139.8" rx="5.2" ry="3" fill="#4a3fa6" opacity="0.7"/><ellipse cx="247" cy="140.2" rx="5.4" ry="4.4" fill="#3a2f96" opacity="0.9"/></g>
<g filter="url(#bl2)"><ellipse cx="247.5" cy="140.2" rx="3.8" ry="3" fill="#2f2688"/><ellipse cx="243" cy="140" rx="2.6" ry="2.2" fill="#3a2f96" opacity="0.7"/><ellipse cx="248" cy="139.8" rx="2.2" ry="1.6" fill="#4169cc"/></g>
<g filter="url(#bl1)"><path d="M231 149.4 L254 149.4 L254 164 L252.6 174 L247 174 L241 168.5 L235 163 L231 158.5 Z" fill="#4a3fa0" opacity="0.6"/><path d="M234 149.6 L254 149.6 L254 163 L252.6 172 L248.6 172 L243.5 166 L238.5 160.5 L234.6 155 Z" fill="#33298c" opacity="0.95"/></g>
<g filter="url(#bl2)"><path d="M238.6 150.8 Q246 148.8 252.6 151.2 Q253.4 158 251 166.8 Q248.4 168.8 245.6 165 Q240.6 158 238.6 150.8 Z" fill="#2a50bc"/><path d="M241.4 151.8 Q247 150.2 251.7 152.2 Q252.4 157.8 250.4 164.2 Q248.4 165.6 246.4 162.4 Q242.8 157 241.4 151.8 Z" fill="#22b4d2"/><ellipse cx="247.4" cy="155.8" rx="3.2" ry="3.4" fill="#3fca45"/><ellipse cx="247.7" cy="155.4" rx="1.3" ry="1.4" fill="#63d63f"/></g>
</g>
</g>
<line x1="253.9" y1="111.1" x2="253.9" y2="173.2" stroke="#b4b2aa" stroke-width="0.8"/>
<line x1="230.9" y1="147.8" x2="293.6" y2="147.8" stroke="#b4b2aa" stroke-width="0.8"/>
<rect x="230.9" y="111.1" width="62.7" height="62.1" fill="none" stroke="#000" stroke-width="2.2"/>
<text x="222.90" y="118.64" font-size="6.50" text-anchor="middle" fill="#4a4a4a" stroke="#4a4a4a" stroke-width="0.18" textLength="8.20" lengthAdjust="spacingAndGlyphs">10<tspan font-size="3.58" dy="-2.2">7</tspan></text>
<text x="234.80" y="185.14" font-size="6.50" text-anchor="middle" fill="#4a4a4a" stroke="#4a4a4a" stroke-width="0.18" textLength="8.20" lengthAdjust="spacingAndGlyphs">10<tspan font-size="3.58" dy="-2.2">1</tspan></text>
<text x="222.90" y="127.60" font-size="6.50" text-anchor="middle" fill="#4a4a4a" stroke="#4a4a4a" stroke-width="0.18" textLength="8.20" lengthAdjust="spacingAndGlyphs">10<tspan font-size="3.58" dy="-2.2">6</tspan></text>
<text x="243.80" y="185.14" font-size="6.50" text-anchor="middle" fill="#4a4a4a" stroke="#4a4a4a" stroke-width="0.18" textLength="8.20" lengthAdjust="spacingAndGlyphs">10<tspan font-size="3.58" dy="-2.2">2</tspan></text>
<text x="222.90" y="136.56" font-size="6.50" text-anchor="middle" fill="#4a4a4a" stroke="#4a4a4a" stroke-width="0.18" textLength="8.20" lengthAdjust="spacingAndGlyphs">10<tspan font-size="3.58" dy="-2.2">5</tspan></text>
<text x="252.80" y="185.14" font-size="6.50" text-anchor="middle" fill="#4a4a4a" stroke="#4a4a4a" stroke-width="0.18" textLength="8.20" lengthAdjust="spacingAndGlyphs">10<tspan font-size="3.58" dy="-2.2">3</tspan></text>
<text x="222.90" y="145.52" font-size="6.50" text-anchor="middle" fill="#4a4a4a" stroke="#4a4a4a" stroke-width="0.18" textLength="8.20" lengthAdjust="spacingAndGlyphs">10<tspan font-size="3.58" dy="-2.2">4</tspan></text>
<text x="261.80" y="185.14" font-size="6.50" text-anchor="middle" fill="#4a4a4a" stroke="#4a4a4a" stroke-width="0.18" textLength="8.20" lengthAdjust="spacingAndGlyphs">10<tspan font-size="3.58" dy="-2.2">4</tspan></text>
<text x="222.90" y="154.48" font-size="6.50" text-anchor="middle" fill="#4a4a4a" stroke="#4a4a4a" stroke-width="0.18" textLength="8.20" lengthAdjust="spacingAndGlyphs">10<tspan font-size="3.58" dy="-2.2">3</tspan></text>
<text x="270.80" y="185.14" font-size="6.50" text-anchor="middle" fill="#4a4a4a" stroke="#4a4a4a" stroke-width="0.18" textLength="8.20" lengthAdjust="spacingAndGlyphs">10<tspan font-size="3.58" dy="-2.2">5</tspan></text>
<text x="222.90" y="163.44" font-size="6.50" text-anchor="middle" fill="#4a4a4a" stroke="#4a4a4a" stroke-width="0.18" textLength="8.20" lengthAdjust="spacingAndGlyphs">10<tspan font-size="3.58" dy="-2.2">2</tspan></text>
<text x="279.80" y="185.14" font-size="6.50" text-anchor="middle" fill="#4a4a4a" stroke="#4a4a4a" stroke-width="0.18" textLength="8.20" lengthAdjust="spacingAndGlyphs">10<tspan font-size="3.58" dy="-2.2">6</tspan></text>
<text x="222.90" y="172.40" font-size="6.50" text-anchor="middle" fill="#4a4a4a" stroke="#4a4a4a" stroke-width="0.18" textLength="8.20" lengthAdjust="spacingAndGlyphs">10<tspan font-size="3.58" dy="-2.2">1</tspan></text>
<text x="288.80" y="185.14" font-size="6.50" text-anchor="middle" fill="#4a4a4a" stroke="#4a4a4a" stroke-width="0.18" textLength="8.20" lengthAdjust="spacingAndGlyphs">10<tspan font-size="3.58" dy="-2.2">7</tspan></text>
<text x="262.50" y="197.68" font-size="9.40" text-anchor="middle" fill="#444" font-weight="normal" textLength="12.80" lengthAdjust="spacingAndGlyphs" >GFP</text>
<text transform="translate(209.60 141.20) rotate(-90)" x="0" y="3.46" font-size="9.60" text-anchor="middle" fill="#444" font-weight="normal" textLength="13.40" lengthAdjust="spacingAndGlyphs">Hod</text>
<text x="284.5" y="114.3" font-size="2.4" fill="#999">0.017%</text><text x="285" y="172.3" font-size="2.4" fill="#999">0.005%</text><text x="232.6" y="172.3" font-size="2.4" fill="#999">91.2%</text>
<rect x="358.2" y="112.3" width="63.4" height="63.2" fill="#fff"/>
<clipPath id="c3"><rect x="358.2" y="112.3" width="63.4" height="63.2"/></clipPath>
<g clip-path="url(#c3)">
<g fill="#4a3fa0" opacity="0.55"><circle cx="364.5" cy="145.7" r="0.42"/><circle cx="362.5" cy="143.6" r="0.42"/><circle cx="361.7" cy="140.0" r="0.42"/><circle cx="380.0" cy="139.7" r="0.42"/><circle cx="372.8" cy="141.7" r="0.42"/><circle cx="369.1" cy="142.0" r="0.42"/><circle cx="363.8" cy="144.6" r="0.42"/><circle cx="361.8" cy="139.9" r="0.42"/><circle cx="360.4" cy="140.1" r="0.42"/><circle cx="368.2" cy="145.2" r="0.42"/><circle cx="367.6" cy="138.9" r="0.42"/><circle cx="365.2" cy="145.9" r="0.42"/><circle cx="361.3" cy="143.0" r="0.42"/><circle cx="367.5" cy="143.3" r="0.42"/><circle cx="366.8" cy="143.5" r="0.42"/><circle cx="370.0" cy="143.2" r="0.42"/><circle cx="378.0" cy="142.7" r="0.42"/><circle cx="362.8" cy="138.5" r="0.42"/><circle cx="378.9" cy="141.9" r="0.42"/><circle cx="363.9" cy="145.6" r="0.42"/><circle cx="371.6" cy="143.8" r="0.42"/><circle cx="377.6" cy="140.3" r="0.42"/><circle cx="367.1" cy="145.0" r="0.42"/><circle cx="362.7" cy="144.1" r="0.42"/><circle cx="362.0" cy="143.5" r="0.42"/><circle cx="374.0" cy="145.6" r="0.42"/><circle cx="376.9" cy="142.0" r="0.42"/><circle cx="364.0" cy="139.2" r="0.42"/><circle cx="370.6" cy="142.1" r="0.42"/><circle cx="361.4" cy="145.2" r="0.42"/><circle cx="370.1" cy="143.6" r="0.42"/><circle cx="364.4" cy="140.0" r="0.42"/><circle cx="360.2" cy="140.7" r="0.42"/><circle cx="365.3" cy="141.4" r="0.42"/><circle cx="367.5" cy="144.7" r="0.42"/><circle cx="377.8" cy="139.4" r="0.42"/><circle cx="367.9" cy="139.3" r="0.42"/><circle cx="373.3" cy="145.8" r="0.42"/><circle cx="364.0" cy="144.1" r="0.42"/><circle cx="366.0" cy="138.1" r="0.42"/><circle cx="375.3" cy="140.7" r="0.42"/><circle cx="363.4" cy="141.5" r="0.42"/><circle cx="364.6" cy="141.3" r="0.42"/><circle cx="368.9" cy="141.3" r="0.42"/><circle cx="371.8" cy="140.3" r="0.42"/><circle cx="361.9" cy="138.7" r="0.42"/><circle cx="362.1" cy="142.2" r="0.42"/><circle cx="367.2" cy="144.5" r="0.42"/><circle cx="370.1" cy="143.7" r="0.42"/><circle cx="379.6" cy="138.5" r="0.42"/><circle cx="360.3" cy="139.1" r="0.42"/><circle cx="367.7" cy="142.6" r="0.42"/><circle cx="374.9" cy="140.8" r="0.42"/><circle cx="379.3" cy="138.0" r="0.42"/><circle cx="376.7" cy="139.7" r="0.42"/><circle cx="377.5" cy="138.3" r="0.42"/><circle cx="379.3" cy="144.1" r="0.42"/><circle cx="379.8" cy="142.6" r="0.42"/><circle cx="363.6" cy="145.8" r="0.42"/><circle cx="368.8" cy="138.7" r="0.42"/></g>
<g fill="#4a3fa0" opacity="0.55"><circle cx="369.3" cy="159.5" r="0.42"/><circle cx="362.8" cy="169.3" r="0.42"/><circle cx="360.1" cy="162.1" r="0.42"/><circle cx="378.0" cy="153.6" r="0.42"/><circle cx="371.1" cy="164.3" r="0.42"/><circle cx="360.8" cy="159.6" r="0.42"/><circle cx="374.1" cy="161.0" r="0.42"/><circle cx="374.5" cy="155.1" r="0.42"/><circle cx="364.8" cy="154.2" r="0.42"/><circle cx="370.1" cy="170.5" r="0.42"/><circle cx="371.8" cy="167.5" r="0.42"/><circle cx="367.7" cy="166.9" r="0.42"/><circle cx="362.0" cy="157.8" r="0.42"/><circle cx="373.5" cy="166.5" r="0.42"/><circle cx="368.4" cy="153.8" r="0.42"/><circle cx="365.3" cy="156.2" r="0.42"/><circle cx="365.6" cy="168.2" r="0.42"/><circle cx="364.0" cy="169.7" r="0.42"/><circle cx="377.6" cy="153.1" r="0.42"/><circle cx="367.6" cy="161.8" r="0.42"/><circle cx="360.5" cy="160.5" r="0.42"/><circle cx="378.1" cy="154.2" r="0.42"/><circle cx="371.9" cy="154.4" r="0.42"/><circle cx="371.6" cy="169.9" r="0.42"/><circle cx="364.1" cy="152.2" r="0.42"/><circle cx="361.7" cy="162.8" r="0.42"/><circle cx="360.3" cy="153.7" r="0.42"/><circle cx="369.9" cy="170.4" r="0.42"/><circle cx="368.4" cy="160.0" r="0.42"/><circle cx="372.8" cy="153.9" r="0.42"/><circle cx="371.6" cy="155.5" r="0.42"/><circle cx="372.2" cy="171.2" r="0.42"/><circle cx="361.1" cy="163.1" r="0.42"/><circle cx="372.1" cy="155.0" r="0.42"/><circle cx="365.4" cy="171.9" r="0.42"/><circle cx="380.0" cy="154.4" r="0.42"/><circle cx="374.1" cy="171.0" r="0.42"/><circle cx="364.7" cy="164.2" r="0.42"/><circle cx="360.9" cy="159.3" r="0.42"/><circle cx="373.5" cy="163.8" r="0.42"/><circle cx="375.5" cy="153.7" r="0.42"/><circle cx="366.9" cy="169.3" r="0.42"/><circle cx="371.7" cy="161.0" r="0.42"/><circle cx="368.0" cy="171.7" r="0.42"/><circle cx="371.5" cy="152.4" r="0.42"/><circle cx="376.0" cy="158.6" r="0.42"/><circle cx="368.7" cy="156.3" r="0.42"/><circle cx="368.9" cy="158.5" r="0.42"/><circle cx="361.8" cy="164.6" r="0.42"/><circle cx="362.1" cy="167.7" r="0.42"/><circle cx="360.5" cy="167.6" r="0.42"/><circle cx="376.2" cy="161.9" r="0.42"/><circle cx="374.2" cy="157.0" r="0.42"/><circle cx="374.8" cy="160.5" r="0.42"/><circle cx="364.6" cy="171.3" r="0.42"/><circle cx="368.0" cy="159.5" r="0.42"/><circle cx="377.2" cy="159.4" r="0.42"/><circle cx="373.4" cy="155.4" r="0.42"/><circle cx="376.9" cy="157.2" r="0.42"/><circle cx="361.0" cy="171.5" r="0.42"/><circle cx="363.5" cy="170.9" r="0.42"/><circle cx="379.7" cy="164.1" r="0.42"/><circle cx="360.2" cy="153.2" r="0.42"/><circle cx="364.2" cy="159.8" r="0.42"/><circle cx="372.2" cy="171.3" r="0.42"/><circle cx="367.1" cy="154.8" r="0.42"/><circle cx="371.2" cy="154.7" r="0.42"/><circle cx="361.7" cy="163.1" r="0.42"/><circle cx="373.9" cy="153.3" r="0.42"/><circle cx="369.0" cy="166.1" r="0.42"/><circle cx="375.3" cy="159.7" r="0.42"/><circle cx="377.7" cy="155.4" r="0.42"/><circle cx="374.3" cy="167.4" r="0.42"/><circle cx="377.6" cy="161.9" r="0.42"/><circle cx="362.0" cy="153.0" r="0.42"/><circle cx="370.6" cy="155.5" r="0.42"/><circle cx="372.6" cy="153.7" r="0.42"/><circle cx="375.6" cy="156.4" r="0.42"/><circle cx="360.3" cy="155.5" r="0.42"/><circle cx="369.1" cy="163.2" r="0.42"/><circle cx="367.8" cy="155.5" r="0.42"/><circle cx="369.6" cy="170.9" r="0.42"/><circle cx="370.7" cy="170.8" r="0.42"/><circle cx="360.6" cy="171.9" r="0.42"/><circle cx="377.8" cy="162.9" r="0.42"/><circle cx="370.5" cy="162.7" r="0.42"/><circle cx="378.2" cy="153.3" r="0.42"/><circle cx="372.9" cy="162.8" r="0.42"/><circle cx="366.0" cy="166.5" r="0.42"/><circle cx="374.4" cy="154.1" r="0.42"/><circle cx="374.0" cy="161.1" r="0.42"/><circle cx="369.8" cy="164.7" r="0.42"/><circle cx="361.1" cy="164.1" r="0.42"/><circle cx="367.5" cy="169.6" r="0.42"/><circle cx="364.6" cy="168.5" r="0.42"/><circle cx="374.6" cy="164.5" r="0.42"/><circle cx="377.5" cy="152.7" r="0.42"/><circle cx="371.9" cy="164.3" r="0.42"/><circle cx="373.6" cy="160.1" r="0.42"/><circle cx="361.4" cy="155.8" r="0.42"/><circle cx="372.2" cy="155.6" r="0.42"/><circle cx="361.3" cy="159.1" r="0.42"/><circle cx="369.4" cy="162.7" r="0.42"/><circle cx="360.5" cy="167.5" r="0.42"/><circle cx="366.7" cy="167.7" r="0.42"/><circle cx="360.2" cy="171.1" r="0.42"/><circle cx="371.8" cy="171.5" r="0.42"/><circle cx="379.7" cy="168.7" r="0.42"/><circle cx="362.1" cy="159.0" r="0.42"/><circle cx="364.6" cy="167.6" r="0.42"/><circle cx="363.8" cy="156.4" r="0.42"/><circle cx="362.2" cy="154.4" r="0.42"/><circle cx="378.8" cy="171.5" r="0.42"/><circle cx="367.4" cy="166.8" r="0.42"/><circle cx="369.4" cy="162.4" r="0.42"/><circle cx="367.4" cy="164.7" r="0.42"/><circle cx="364.7" cy="157.1" r="0.42"/><circle cx="370.4" cy="155.9" r="0.42"/><circle cx="368.8" cy="170.9" r="0.42"/><circle cx="360.4" cy="154.1" r="0.42"/><circle cx="376.0" cy="153.2" r="0.42"/><circle cx="365.0" cy="169.0" r="0.42"/><circle cx="372.1" cy="156.4" r="0.42"/><circle cx="361.2" cy="157.5" r="0.42"/><circle cx="366.0" cy="168.0" r="0.42"/><circle cx="379.5" cy="167.7" r="0.42"/><circle cx="378.0" cy="170.6" r="0.42"/><circle cx="377.5" cy="170.4" r="0.42"/><circle cx="379.4" cy="153.9" r="0.42"/><circle cx="366.4" cy="156.9" r="0.42"/><circle cx="372.1" cy="161.8" r="0.42"/><circle cx="366.9" cy="168.7" r="0.42"/><circle cx="368.0" cy="156.2" r="0.42"/><circle cx="365.5" cy="161.2" r="0.42"/><circle cx="372.2" cy="163.4" r="0.42"/><circle cx="368.8" cy="155.7" r="0.42"/><circle cx="368.0" cy="158.5" r="0.42"/><circle cx="363.4" cy="162.9" r="0.42"/><circle cx="363.8" cy="166.2" r="0.42"/><circle cx="373.2" cy="154.8" r="0.42"/><circle cx="372.5" cy="158.8" r="0.42"/><circle cx="368.9" cy="164.1" r="0.42"/><circle cx="375.2" cy="169.7" r="0.42"/><circle cx="374.7" cy="156.2" r="0.42"/><circle cx="370.8" cy="158.7" r="0.42"/><circle cx="360.4" cy="163.0" r="0.42"/><circle cx="369.4" cy="169.3" r="0.42"/><circle cx="366.5" cy="168.7" r="0.42"/><circle cx="370.3" cy="154.0" r="0.42"/><circle cx="374.3" cy="157.7" r="0.42"/></g>
<g fill="#4a3fa0" opacity="0.50"><circle cx="392.7" cy="160.7" r="0.42"/><circle cx="392.8" cy="155.2" r="0.42"/><circle cx="396.8" cy="170.6" r="0.42"/><circle cx="394.1" cy="154.0" r="0.42"/><circle cx="391.9" cy="158.2" r="0.42"/><circle cx="387.2" cy="173.8" r="0.42"/><circle cx="399.9" cy="151.1" r="0.42"/><circle cx="397.6" cy="165.1" r="0.42"/><circle cx="389.5" cy="157.1" r="0.42"/><circle cx="394.5" cy="161.4" r="0.42"/><circle cx="394.7" cy="166.5" r="0.42"/><circle cx="385.3" cy="169.2" r="0.42"/><circle cx="399.7" cy="174.2" r="0.42"/><circle cx="393.4" cy="151.1" r="0.42"/><circle cx="383.1" cy="153.3" r="0.42"/><circle cx="399.0" cy="157.6" r="0.42"/><circle cx="389.2" cy="172.5" r="0.42"/><circle cx="388.3" cy="163.7" r="0.42"/><circle cx="390.4" cy="151.6" r="0.42"/><circle cx="392.9" cy="171.1" r="0.42"/><circle cx="385.7" cy="155.6" r="0.42"/><circle cx="390.0" cy="150.9" r="0.42"/><circle cx="391.4" cy="170.4" r="0.42"/><circle cx="394.2" cy="163.3" r="0.42"/><circle cx="397.5" cy="153.7" r="0.42"/><circle cx="392.6" cy="159.4" r="0.42"/><circle cx="393.2" cy="152.8" r="0.42"/><circle cx="396.2" cy="152.4" r="0.42"/><circle cx="385.8" cy="170.2" r="0.42"/><circle cx="399.1" cy="160.8" r="0.42"/><circle cx="390.0" cy="156.1" r="0.42"/><circle cx="387.7" cy="165.4" r="0.42"/><circle cx="386.0" cy="153.0" r="0.42"/><circle cx="390.7" cy="154.1" r="0.42"/><circle cx="394.0" cy="170.5" r="0.42"/><circle cx="396.2" cy="162.0" r="0.42"/><circle cx="388.9" cy="160.9" r="0.42"/><circle cx="383.1" cy="167.8" r="0.42"/><circle cx="388.6" cy="158.0" r="0.42"/><circle cx="384.4" cy="161.2" r="0.42"/><circle cx="392.9" cy="159.8" r="0.42"/><circle cx="397.8" cy="166.8" r="0.42"/><circle cx="387.1" cy="163.1" r="0.42"/><circle cx="398.5" cy="163.0" r="0.42"/><circle cx="393.2" cy="151.6" r="0.42"/><circle cx="391.3" cy="161.5" r="0.42"/><circle cx="389.8" cy="160.5" r="0.42"/><circle cx="392.9" cy="163.5" r="0.42"/><circle cx="391.3" cy="154.1" r="0.42"/><circle cx="390.5" cy="174.2" r="0.42"/><circle cx="390.1" cy="150.9" r="0.42"/><circle cx="383.0" cy="163.4" r="0.42"/><circle cx="383.9" cy="152.3" r="0.42"/><circle cx="384.8" cy="161.4" r="0.42"/><circle cx="399.9" cy="162.1" r="0.42"/><circle cx="390.8" cy="160.9" r="0.42"/><circle cx="391.5" cy="161.2" r="0.42"/><circle cx="395.3" cy="172.4" r="0.42"/><circle cx="394.9" cy="160.6" r="0.42"/><circle cx="394.0" cy="172.7" r="0.42"/></g>
<g fill="#4a3fa0" opacity="0.30"><circle cx="393.0" cy="142.3" r="0.35"/><circle cx="402.5" cy="140.2" r="0.35"/><circle cx="394.2" cy="142.9" r="0.35"/><circle cx="387.7" cy="141.3" r="0.35"/><circle cx="396.6" cy="147.4" r="0.35"/><circle cx="385.9" cy="136.7" r="0.35"/><circle cx="385.8" cy="147.8" r="0.35"/><circle cx="397.9" cy="130.9" r="0.35"/><circle cx="403.6" cy="151.2" r="0.35"/><circle cx="397.1" cy="143.5" r="0.35"/><circle cx="387.1" cy="130.3" r="0.35"/><circle cx="394.6" cy="131.3" r="0.35"/><circle cx="387.8" cy="135.3" r="0.35"/><circle cx="384.6" cy="140.2" r="0.35"/><circle cx="392.8" cy="148.5" r="0.35"/><circle cx="394.4" cy="144.1" r="0.35"/></g>
<g filter="url(#bl1)"><ellipse cx="370.2" cy="141.8" rx="8" ry="2.6" fill="#4a3fa6" opacity="0.65"/><ellipse cx="374" cy="141.8" rx="4.2" ry="2.2" fill="#33298c" opacity="0.9"/></g>
<g filter="url(#bl1)"><ellipse cx="370" cy="160" rx="8.6" ry="6" fill="#4a3fa6" opacity="0.65"/><ellipse cx="372.8" cy="158.6" rx="5.4" ry="4.2" fill="#33298c" opacity="0.9"/><ellipse cx="366" cy="161.4" rx="3" ry="2.6" fill="#3a2f96" opacity="0.6"/></g>
<g filter="url(#bl3)"><path d="M384.2 155.5 Q384.4 153.2 390.2 153 Q396 153.2 396.3 155.5 L395.6 176.5 L385 176.5 Z" fill="#241c78"/><path d="M385.8 156.5 Q390.2 153.6 394.8 156.5 L394.3 170 Q390.2 172 386.3 170 Z" fill="#2a50bc"/><ellipse cx="390.3" cy="160.4" rx="3.5" ry="5.6" fill="#22b4d2"/><ellipse cx="390.3" cy="159" rx="2.4" ry="3.4" fill="#3fca45"/><ellipse cx="390.4" cy="157.8" rx="1.2" ry="1.5" fill="#d4e43a"/></g>
</g>
<line x1="381.2" y1="112.3" x2="381.2" y2="175.5" stroke="#a9a9b8" stroke-width="0.7"/>
<line x1="358.2" y1="150.3" x2="421.6" y2="150.3" stroke="#a9a9b8" stroke-width="0.7"/>
<rect x="358.2" y="112.3" width="63.4" height="63.2" fill="none" stroke="#000" stroke-width="2.2"/>
<text x="349.60" y="118.24" font-size="6.50" text-anchor="middle" fill="#4a4a4a" stroke="#4a4a4a" stroke-width="0.18" textLength="8.20" lengthAdjust="spacingAndGlyphs">10<tspan font-size="3.58" dy="-2.2">7</tspan></text>
<text x="364.90" y="187.04" font-size="6.50" text-anchor="middle" fill="#4a4a4a" stroke="#4a4a4a" stroke-width="0.18" textLength="8.20" lengthAdjust="spacingAndGlyphs">10<tspan font-size="3.58" dy="-2.2">1</tspan></text>
<text x="349.60" y="127.34" font-size="6.50" text-anchor="middle" fill="#4a4a4a" stroke="#4a4a4a" stroke-width="0.18" textLength="8.20" lengthAdjust="spacingAndGlyphs">10<tspan font-size="3.58" dy="-2.2">6</tspan></text>
<text x="373.68" y="187.04" font-size="6.50" text-anchor="middle" fill="#4a4a4a" stroke="#4a4a4a" stroke-width="0.18" textLength="8.20" lengthAdjust="spacingAndGlyphs">10<tspan font-size="3.58" dy="-2.2">2</tspan></text>
<text x="349.60" y="136.44" font-size="6.50" text-anchor="middle" fill="#4a4a4a" stroke="#4a4a4a" stroke-width="0.18" textLength="8.20" lengthAdjust="spacingAndGlyphs">10<tspan font-size="3.58" dy="-2.2">5</tspan></text>
<text x="382.46" y="187.04" font-size="6.50" text-anchor="middle" fill="#4a4a4a" stroke="#4a4a4a" stroke-width="0.18" textLength="8.20" lengthAdjust="spacingAndGlyphs">10<tspan font-size="3.58" dy="-2.2">3</tspan></text>
<text x="349.60" y="145.54" font-size="6.50" text-anchor="middle" fill="#4a4a4a" stroke="#4a4a4a" stroke-width="0.18" textLength="8.20" lengthAdjust="spacingAndGlyphs">10<tspan font-size="3.58" dy="-2.2">4</tspan></text>
<text x="391.24" y="187.04" font-size="6.50" text-anchor="middle" fill="#4a4a4a" stroke="#4a4a4a" stroke-width="0.18" textLength="8.20" lengthAdjust="spacingAndGlyphs">10<tspan font-size="3.58" dy="-2.2">4</tspan></text>
<text x="349.60" y="154.64" font-size="6.50" text-anchor="middle" fill="#4a4a4a" stroke="#4a4a4a" stroke-width="0.18" textLength="8.20" lengthAdjust="spacingAndGlyphs">10<tspan font-size="3.58" dy="-2.2">3</tspan></text>
<text x="400.02" y="187.04" font-size="6.50" text-anchor="middle" fill="#4a4a4a" stroke="#4a4a4a" stroke-width="0.18" textLength="8.20" lengthAdjust="spacingAndGlyphs">10<tspan font-size="3.58" dy="-2.2">5</tspan></text>
<text x="349.60" y="163.74" font-size="6.50" text-anchor="middle" fill="#4a4a4a" stroke="#4a4a4a" stroke-width="0.18" textLength="8.20" lengthAdjust="spacingAndGlyphs">10<tspan font-size="3.58" dy="-2.2">2</tspan></text>
<text x="408.80" y="187.04" font-size="6.50" text-anchor="middle" fill="#4a4a4a" stroke="#4a4a4a" stroke-width="0.18" textLength="8.20" lengthAdjust="spacingAndGlyphs">10<tspan font-size="3.58" dy="-2.2">6</tspan></text>
<text x="349.60" y="172.84" font-size="6.50" text-anchor="middle" fill="#4a4a4a" stroke="#4a4a4a" stroke-width="0.18" textLength="8.20" lengthAdjust="spacingAndGlyphs">10<tspan font-size="3.58" dy="-2.2">1</tspan></text>
<text x="417.58" y="187.04" font-size="6.50" text-anchor="middle" fill="#4a4a4a" stroke="#4a4a4a" stroke-width="0.18" textLength="8.20" lengthAdjust="spacingAndGlyphs">10<tspan font-size="3.58" dy="-2.2">7</tspan></text>
<text x="390.90" y="199.38" font-size="9.40" text-anchor="middle" fill="#444" font-weight="normal" textLength="12.60" lengthAdjust="spacingAndGlyphs" >GFP</text>
<text transform="translate(335.40 141.40) rotate(-90)" x="0" y="3.46" font-size="9.60" text-anchor="middle" fill="#444" font-weight="normal" textLength="13.40" lengthAdjust="spacingAndGlyphs">Hod</text>
<line x1="371.20" y1="110.00" x2="371.20" y2="130.68" stroke="#f0941f" stroke-width="1.20"/><path d="M371.20 134.80 L368.60 129.30 L371.20 130.68 L373.80 129.30 Z" fill="#f0941f"/>
<line x1="409.40" y1="124.60" x2="397.63" y2="146.76" stroke="#f0941f" stroke-width="1.20"/><path d="M395.70 150.40 L395.98 144.32 L397.63 146.76 L400.58 146.76 Z" fill="#f0941f"/>
<line x1="344.00" y1="162.80" x2="362.28" y2="162.96" stroke="#f0941f" stroke-width="1.20"/><path d="M366.40 163.00 L360.88 165.55 L362.28 162.96 L360.92 160.35 Z" fill="#f0941f"/>
<circle cx="371.20" cy="102.00" r="9.20" fill="#fbe7cf" stroke="#30292a" stroke-width="1.20"/><text x="371.20" y="104.32" font-size="7.00" text-anchor="middle" fill="#4a3c38" font-weight="normal" >2</text>
<circle cx="414.10" cy="113.70" r="9.20" fill="#fbe7cf" stroke="#30292a" stroke-width="1.20"/><text x="414.10" y="116.02" font-size="7.00" text-anchor="middle" fill="#4a3c38" font-weight="normal" >3</text>
<circle cx="336.00" cy="163.40" r="9.20" fill="#fbe7cf" stroke="#30292a" stroke-width="1.20"/><text x="336.00" y="165.72" font-size="7.00" text-anchor="middle" fill="#4a3c38" font-weight="normal" >1</text>
<text x="477.50" y="115.02" font-size="7.00" text-anchor="middle" fill="#3c3c3c" font-weight="normal" textLength="49.60" lengthAdjust="spacingAndGlyphs" >RBC Population</text>
<line x1="452.7" y1="116.3" x2="502.3" y2="116.3" stroke="#333" stroke-width="0.6"/>
<circle cx="452.00" cy="129.80" r="7.40" fill="#fbe7cf" stroke="#30292a" stroke-width="1.00"/><text x="452.00" y="131.94" font-size="6.50" text-anchor="middle" fill="#4a3c38" font-weight="normal" >1</text>
<text x="465.80" y="132.32" font-size="7.00" text-anchor="start" fill="#3c3c3c" font-weight="normal" textLength="19.50" lengthAdjust="spacingAndGlyphs" >Donor</text>
<circle cx="452.00" cy="147.70" r="7.40" fill="#fbe7cf" stroke="#30292a" stroke-width="1.00"/><text x="452.00" y="149.84" font-size="6.50" text-anchor="middle" fill="#4a3c38" font-weight="normal" >2</text>
<text x="465.80" y="150.22" font-size="7.00" text-anchor="start" fill="#3c3c3c" font-weight="normal" textLength="19.00" lengthAdjust="spacingAndGlyphs" >Tracer</text>
<circle cx="452.00" cy="165.00" r="7.40" fill="#fbe7cf" stroke="#30292a" stroke-width="1.00"/><text x="452.00" y="167.14" font-size="6.50" text-anchor="middle" fill="#4a3c38" font-weight="normal" >3</text>
<text x="465.80" y="167.52" font-size="7.00" text-anchor="start" fill="#3c3c3c" font-weight="normal" textLength="30.00" lengthAdjust="spacingAndGlyphs" >Recipient</text>
<!-- p3_scatter.py -->
<g fill="#7c82b4" fill-opacity="0.45"><circle cx="105.6" cy="300.6" r="1.75"/><circle cx="123.9" cy="314.5" r="1.75"/><circle cx="98.2" cy="286.5" r="1.75"/><circle cx="152.6" cy="287.2" r="1.75"/><circle cx="98.5" cy="309.0" r="1.75"/><circle cx="172.3" cy="305.9" r="1.75"/><circle cx="100.8" cy="320.4" r="1.75"/><circle cx="140.3" cy="297.7" r="1.75"/><circle cx="143.5" cy="268.4" r="1.75"/><circle cx="80.7" cy="274.0" r="1.75"/><circle cx="83.4" cy="285.5" r="1.75"/><circle cx="117.3" cy="239.5" r="1.75"/><circle cx="104.3" cy="239.9" r="1.75"/><circle cx="149.5" cy="297.7" r="1.75"/><circle cx="135.0" cy="282.4" r="1.75"/><circle cx="110.4" cy="297.1" r="1.75"/><circle cx="97.3" cy="296.2" r="1.75"/><circle cx="153.3" cy="314.6" r="1.75"/><circle cx="104.1" cy="239.0" r="1.75"/><circle cx="141.4" cy="288.1" r="1.75"/><circle cx="173.5" cy="252.8" r="1.75"/><circle cx="146.7" cy="322.2" r="1.75"/><circle cx="74.4" cy="289.7" r="1.75"/><circle cx="151.5" cy="265.8" r="1.75"/><circle cx="190.9" cy="275.1" r="1.75"/><circle cx="156.2" cy="273.3" r="1.75"/><circle cx="123.9" cy="296.4" r="1.75"/><circle cx="97.0" cy="278.3" r="1.75"/><circle cx="130.6" cy="312.7" r="1.75"/><circle cx="104.1" cy="261.6" r="1.75"/><circle cx="138.7" cy="300.1" r="1.75"/><circle cx="122.8" cy="270.6" r="1.75"/><circle cx="144.8" cy="274.2" r="1.75"/><circle cx="98.4" cy="241.2" r="1.75"/><circle cx="184.8" cy="276.4" r="1.75"/><circle cx="88.5" cy="226.2" r="1.75"/><circle cx="178.1" cy="238.1" r="1.75"/><circle cx="129.6" cy="288.8" r="1.75"/><circle cx="117.3" cy="309.3" r="1.75"/><circle cx="94.7" cy="300.7" r="1.75"/><circle cx="102.2" cy="273.1" r="1.75"/><circle cx="133.3" cy="285.1" r="1.75"/><circle cx="141.9" cy="261.4" r="1.75"/><circle cx="127.7" cy="275.7" r="1.75"/><circle cx="171.5" cy="307.7" r="1.75"/><circle cx="95.7" cy="293.8" r="1.75"/><circle cx="191.8" cy="278.5" r="1.75"/><circle cx="182.5" cy="283.4" r="1.75"/><circle cx="145.6" cy="300.8" r="1.75"/><circle cx="168.8" cy="301.8" r="1.75"/><circle cx="120.6" cy="292.1" r="1.75"/><circle cx="165.5" cy="302.1" r="1.75"/><circle cx="128.5" cy="285.2" r="1.75"/><circle cx="97.6" cy="286.3" r="1.75"/><circle cx="96.6" cy="233.4" r="1.75"/><circle cx="173.7" cy="291.6" r="1.75"/><circle cx="154.3" cy="275.2" r="1.75"/><circle cx="84.2" cy="284.5" r="1.75"/><circle cx="105.1" cy="293.1" r="1.75"/><circle cx="184.8" cy="301.1" r="1.75"/><circle cx="85.1" cy="282.8" r="1.75"/><circle cx="179.5" cy="242.0" r="1.75"/><circle cx="137.8" cy="270.3" r="1.75"/><circle cx="178.7" cy="275.3" r="1.75"/><circle cx="127.8" cy="231.7" r="1.75"/><circle cx="184.3" cy="303.8" r="1.75"/><circle cx="109.2" cy="277.4" r="1.75"/><circle cx="95.0" cy="295.5" r="1.75"/><circle cx="179.6" cy="270.7" r="1.75"/><circle cx="131.4" cy="288.4" r="1.75"/><circle cx="193.0" cy="263.2" r="1.75"/><circle cx="84.3" cy="307.3" r="1.75"/><circle cx="147.1" cy="270.2" r="1.75"/><circle cx="119.2" cy="297.3" r="1.75"/><circle cx="70.7" cy="286.6" r="1.75"/><circle cx="186.9" cy="298.5" r="1.75"/><circle cx="170.7" cy="270.3" r="1.75"/><circle cx="108.0" cy="262.2" r="1.75"/><circle cx="144.5" cy="266.8" r="1.75"/><circle cx="70.7" cy="284.1" r="1.75"/><circle cx="157.1" cy="259.9" r="1.75"/><circle cx="184.3" cy="286.7" r="1.75"/><circle cx="135.7" cy="296.9" r="1.75"/><circle cx="106.4" cy="279.5" r="1.75"/><circle cx="101.5" cy="263.5" r="1.75"/><circle cx="177.8" cy="266.4" r="1.75"/><circle cx="117.2" cy="271.5" r="1.75"/><circle cx="77.5" cy="241.8" r="1.75"/><circle cx="102.1" cy="288.7" r="1.75"/><circle cx="123.3" cy="315.8" r="1.75"/><circle cx="149.2" cy="309.9" r="1.75"/><circle cx="183.8" cy="291.3" r="1.75"/><circle cx="101.8" cy="303.4" r="1.75"/><circle cx="151.0" cy="268.4" r="1.75"/><circle cx="111.0" cy="272.8" r="1.75"/><circle cx="88.1" cy="275.5" r="1.75"/><circle cx="94.8" cy="229.7" r="1.75"/><circle cx="123.6" cy="252.3" r="1.75"/><circle cx="177.0" cy="303.0" r="1.75"/><circle cx="151.4" cy="282.2" r="1.75"/><circle cx="113.1" cy="252.1" r="1.75"/><circle cx="137.9" cy="289.1" r="1.75"/><circle cx="141.8" cy="289.4" r="1.75"/><circle cx="151.7" cy="268.3" r="1.75"/><circle cx="118.5" cy="260.2" r="1.75"/><circle cx="111.9" cy="281.0" r="1.75"/><circle cx="157.1" cy="304.9" r="1.75"/><circle cx="181.1" cy="301.8" r="1.75"/><circle cx="180.7" cy="295.4" r="1.75"/><circle cx="110.6" cy="239.1" r="1.75"/><circle cx="161.0" cy="260.6" r="1.75"/><circle cx="134.5" cy="304.5" r="1.75"/><circle cx="95.6" cy="225.0" r="1.75"/><circle cx="106.5" cy="302.7" r="1.75"/><circle cx="127.1" cy="281.7" r="1.75"/><circle cx="74.3" cy="268.5" r="1.75"/><circle cx="171.3" cy="298.7" r="1.75"/><circle cx="181.7" cy="294.9" r="1.75"/><circle cx="190.2" cy="304.4" r="1.75"/><circle cx="161.5" cy="314.2" r="1.75"/><circle cx="173.2" cy="286.6" r="1.75"/><circle cx="144.0" cy="307.4" r="1.75"/><circle cx="164.7" cy="283.7" r="1.75"/><circle cx="159.3" cy="289.8" r="1.75"/><circle cx="95.0" cy="259.5" r="1.75"/><circle cx="138.2" cy="284.4" r="1.75"/><circle cx="131.7" cy="297.6" r="1.75"/><circle cx="155.7" cy="285.7" r="1.75"/><circle cx="105.3" cy="278.2" r="1.75"/><circle cx="177.7" cy="318.5" r="1.75"/><circle cx="181.0" cy="287.6" r="1.75"/><circle cx="89.5" cy="296.8" r="1.75"/><circle cx="99.3" cy="288.7" r="1.75"/><circle cx="136.6" cy="304.3" r="1.75"/><circle cx="127.5" cy="276.2" r="1.75"/><circle cx="97.3" cy="288.2" r="1.75"/><circle cx="80.1" cy="290.4" r="1.75"/><circle cx="127.5" cy="298.1" r="1.75"/><circle cx="159.8" cy="296.8" r="1.75"/><circle cx="127.2" cy="257.4" r="1.75"/><circle cx="152.3" cy="295.5" r="1.75"/><circle cx="93.8" cy="283.7" r="1.75"/><circle cx="155.8" cy="275.3" r="1.75"/><circle cx="75.7" cy="296.0" r="1.75"/><circle cx="82.2" cy="269.7" r="1.75"/><circle cx="106.5" cy="290.3" r="1.75"/><circle cx="166.0" cy="301.4" r="1.75"/><circle cx="152.8" cy="273.7" r="1.75"/><circle cx="183.8" cy="296.5" r="1.75"/><circle cx="155.2" cy="273.7" r="1.75"/><circle cx="96.8" cy="295.8" r="1.75"/><circle cx="110.3" cy="304.7" r="1.75"/><circle cx="135.6" cy="240.5" r="1.75"/><circle cx="122.8" cy="286.3" r="1.75"/><circle cx="116.3" cy="281.8" r="1.75"/><circle cx="143.1" cy="309.8" r="1.75"/><circle cx="148.7" cy="272.3" r="1.75"/><circle cx="107.6" cy="302.1" r="1.75"/><circle cx="140.2" cy="313.0" r="1.75"/><circle cx="181.5" cy="247.5" r="1.75"/><circle cx="132.3" cy="314.5" r="1.75"/><circle cx="108.3" cy="284.4" r="1.75"/><circle cx="124.9" cy="303.9" r="1.75"/><circle cx="94.5" cy="287.6" r="1.75"/><circle cx="123.3" cy="274.6" r="1.75"/><circle cx="165.8" cy="304.7" r="1.75"/><circle cx="145.1" cy="245.0" r="1.75"/><circle cx="137.0" cy="310.5" r="1.75"/><circle cx="161.8" cy="308.8" r="1.75"/><circle cx="129.9" cy="263.7" r="1.75"/><circle cx="116.4" cy="247.7" r="1.75"/><circle cx="110.6" cy="310.2" r="1.75"/><circle cx="150.0" cy="235.2" r="1.75"/><circle cx="83.1" cy="280.2" r="1.75"/><circle cx="189.9" cy="296.0" r="1.75"/><circle cx="137.6" cy="260.0" r="1.75"/><circle cx="92.7" cy="267.9" r="1.75"/><circle cx="102.7" cy="288.2" r="1.75"/><circle cx="71.9" cy="257.2" r="1.75"/><circle cx="126.2" cy="316.0" r="1.75"/><circle cx="146.6" cy="284.0" r="1.75"/><circle cx="108.2" cy="241.9" r="1.75"/><circle cx="147.1" cy="318.3" r="1.75"/><circle cx="171.4" cy="288.1" r="1.75"/><circle cx="120.1" cy="289.4" r="1.75"/><circle cx="137.9" cy="310.0" r="1.75"/><circle cx="143.7" cy="287.1" r="1.75"/><circle cx="164.9" cy="296.8" r="1.75"/><circle cx="87.3" cy="319.7" r="1.75"/><circle cx="185.8" cy="302.3" r="1.75"/><circle cx="124.5" cy="284.5" r="1.75"/><circle cx="192.1" cy="306.5" r="1.75"/><circle cx="192.5" cy="265.8" r="1.75"/><circle cx="190.5" cy="310.7" r="1.75"/><circle cx="155.5" cy="299.2" r="1.75"/><circle cx="103.7" cy="304.1" r="1.75"/><circle cx="170.7" cy="271.3" r="1.75"/><circle cx="164.8" cy="267.4" r="1.75"/><circle cx="123.0" cy="257.5" r="1.75"/><circle cx="190.6" cy="275.4" r="1.75"/><circle cx="117.4" cy="318.3" r="1.75"/><circle cx="101.0" cy="257.1" r="1.75"/><circle cx="120.9" cy="279.1" r="1.75"/><circle cx="125.7" cy="272.1" r="1.75"/><circle cx="169.9" cy="288.4" r="1.75"/><circle cx="125.1" cy="270.8" r="1.75"/><circle cx="167.1" cy="272.2" r="1.75"/><circle cx="72.6" cy="235.1" r="1.75"/><circle cx="100.3" cy="282.2" r="1.75"/><circle cx="142.4" cy="306.2" r="1.75"/><circle cx="169.4" cy="268.5" r="1.75"/><circle cx="192.2" cy="306.4" r="1.75"/><circle cx="131.1" cy="306.9" r="1.75"/><circle cx="185.4" cy="268.9" r="1.75"/><circle cx="80.9" cy="286.1" r="1.75"/><circle cx="150.5" cy="291.6" r="1.75"/><circle cx="111.7" cy="245.3" r="1.75"/><circle cx="147.0" cy="287.3" r="1.75"/><circle cx="159.1" cy="265.2" r="1.75"/><circle cx="161.0" cy="307.8" r="1.75"/><circle cx="127.8" cy="292.5" r="1.75"/><circle cx="154.5" cy="282.1" r="1.75"/><circle cx="89.9" cy="271.7" r="1.75"/><circle cx="87.3" cy="284.1" r="1.75"/><circle cx="161.5" cy="304.1" r="1.75"/><circle cx="177.9" cy="258.6" r="1.75"/><circle cx="153.5" cy="285.4" r="1.75"/><circle cx="125.6" cy="272.2" r="1.75"/><circle cx="191.2" cy="282.9" r="1.75"/><circle cx="159.3" cy="300.7" r="1.75"/><circle cx="113.5" cy="281.0" r="1.75"/><circle cx="141.8" cy="305.6" r="1.75"/><circle cx="186.6" cy="260.4" r="1.75"/><circle cx="139.9" cy="300.1" r="1.75"/><circle cx="125.8" cy="277.2" r="1.75"/><circle cx="154.8" cy="261.8" r="1.75"/><circle cx="90.9" cy="273.1" r="1.75"/><circle cx="112.0" cy="227.4" r="1.75"/><circle cx="118.6" cy="281.5" r="1.75"/><circle cx="191.1" cy="270.8" r="1.75"/><circle cx="169.0" cy="306.1" r="1.75"/><circle cx="189.6" cy="289.8" r="1.75"/><circle cx="120.6" cy="242.8" r="1.75"/><circle cx="113.5" cy="289.5" r="1.75"/><circle cx="85.1" cy="265.3" r="1.75"/><circle cx="184.9" cy="306.5" r="1.75"/><circle cx="103.1" cy="240.6" r="1.75"/><circle cx="115.3" cy="281.4" r="1.75"/><circle cx="135.2" cy="305.1" r="1.75"/><circle cx="116.4" cy="284.4" r="1.75"/><circle cx="109.8" cy="273.9" r="1.75"/><circle cx="77.9" cy="273.9" r="1.75"/><circle cx="168.3" cy="295.5" r="1.75"/><circle cx="166.3" cy="298.2" r="1.75"/><circle cx="89.7" cy="295.6" r="1.75"/><circle cx="83.7" cy="258.4" r="1.75"/><circle cx="163.9" cy="298.6" r="1.75"/><circle cx="136.6" cy="272.2" r="1.75"/><circle cx="122.2" cy="261.6" r="1.75"/><circle cx="146.0" cy="278.0" r="1.75"/><circle cx="82.6" cy="306.1" r="1.75"/><circle cx="111.6" cy="265.8" r="1.75"/><circle cx="119.5" cy="296.6" r="1.75"/><circle cx="100.5" cy="299.7" r="1.75"/><circle cx="142.4" cy="312.7" r="1.75"/><circle cx="116.4" cy="275.8" r="1.75"/><circle cx="114.3" cy="266.2" r="1.75"/><circle cx="98.4" cy="257.1" r="1.75"/><circle cx="121.1" cy="309.7" r="1.75"/><circle cx="126.7" cy="291.9" r="1.75"/><circle cx="138.0" cy="234.3" r="1.75"/><circle cx="172.6" cy="316.6" r="1.75"/><circle cx="190.1" cy="283.0" r="1.75"/><circle cx="149.4" cy="228.8" r="1.75"/><circle cx="99.2" cy="290.0" r="1.75"/><circle cx="109.5" cy="277.7" r="1.75"/><circle cx="74.0" cy="244.7" r="1.75"/><circle cx="134.0" cy="278.1" r="1.75"/><circle cx="74.2" cy="295.9" r="1.75"/><circle cx="108.2" cy="289.0" r="1.75"/><circle cx="80.7" cy="300.6" r="1.75"/><circle cx="175.9" cy="313.4" r="1.75"/><circle cx="84.7" cy="290.7" r="1.75"/><circle cx="108.6" cy="253.3" r="1.75"/><circle cx="191.0" cy="284.5" r="1.75"/><circle cx="88.8" cy="304.3" r="1.75"/><circle cx="123.2" cy="268.4" r="1.75"/><circle cx="156.5" cy="325.1" r="1.75"/><circle cx="121.6" cy="286.8" r="1.75"/><circle cx="72.7" cy="272.7" r="1.75"/><circle cx="128.6" cy="301.6" r="1.75"/><circle cx="139.5" cy="279.9" r="1.75"/><circle cx="127.4" cy="296.0" r="1.75"/><circle cx="168.5" cy="303.2" r="1.75"/><circle cx="95.8" cy="275.4" r="1.75"/><circle cx="188.3" cy="326.2" r="1.75"/><circle cx="102.6" cy="288.2" r="1.75"/><circle cx="93.2" cy="286.5" r="1.75"/><circle cx="182.8" cy="280.1" r="1.75"/><circle cx="140.0" cy="286.9" r="1.75"/><circle cx="176.2" cy="297.2" r="1.75"/><circle cx="133.9" cy="288.8" r="1.75"/><circle cx="151.9" cy="281.5" r="1.75"/><circle cx="110.2" cy="302.9" r="1.75"/><circle cx="147.3" cy="319.0" r="1.75"/><circle cx="169.6" cy="308.8" r="1.75"/><circle cx="125.9" cy="301.9" r="1.75"/><circle cx="152.6" cy="287.0" r="1.75"/><circle cx="136.3" cy="273.1" r="1.75"/><circle cx="126.9" cy="262.0" r="1.75"/><circle cx="179.9" cy="290.3" r="1.75"/><circle cx="177.1" cy="246.4" r="1.75"/><circle cx="186.3" cy="310.4" r="1.75"/><circle cx="170.3" cy="254.6" r="1.75"/><circle cx="172.0" cy="284.5" r="1.75"/><circle cx="164.6" cy="293.1" r="1.75"/><circle cx="151.9" cy="307.7" r="1.75"/><circle cx="180.9" cy="279.9" r="1.75"/><circle cx="153.9" cy="267.9" r="1.75"/><circle cx="105.6" cy="246.6" r="1.75"/><circle cx="153.7" cy="292.3" r="1.75"/><circle cx="133.5" cy="308.4" r="1.75"/><circle cx="150.0" cy="298.0" r="1.75"/><circle cx="123.4" cy="296.1" r="1.75"/><circle cx="78.2" cy="300.8" r="1.75"/><circle cx="147.2" cy="276.2" r="1.75"/><circle cx="161.2" cy="292.0" r="1.75"/><circle cx="104.2" cy="314.4" r="1.75"/><circle cx="104.4" cy="281.7" r="1.75"/><circle cx="119.1" cy="271.9" r="1.75"/><circle cx="157.5" cy="301.8" r="1.75"/><circle cx="141.8" cy="294.2" r="1.75"/><circle cx="189.8" cy="323.7" r="1.75"/><circle cx="115.2" cy="285.1" r="1.75"/><circle cx="133.1" cy="254.4" r="1.75"/><circle cx="138.3" cy="303.7" r="1.75"/><circle cx="115.4" cy="296.8" r="1.75"/><circle cx="168.2" cy="270.0" r="1.75"/><circle cx="109.1" cy="253.7" r="1.75"/><circle cx="129.2" cy="287.9" r="1.75"/><circle cx="88.0" cy="292.5" r="1.75"/><circle cx="147.1" cy="259.9" r="1.75"/><circle cx="112.0" cy="292.4" r="1.75"/><circle cx="170.1" cy="296.4" r="1.75"/><circle cx="160.0" cy="298.7" r="1.75"/><circle cx="155.6" cy="232.4" r="1.75"/><circle cx="126.4" cy="251.9" r="1.75"/><circle cx="156.6" cy="283.2" r="1.75"/><circle cx="104.4" cy="255.8" r="1.75"/><circle cx="190.2" cy="259.6" r="1.75"/></g>
<polygon points="70.7,262.5 76.0,263.9 81.2,265.1 86.5,266.3 91.8,267.5 97.1,268.6 102.4,269.7 107.6,270.7 112.9,271.6 118.2,272.5 123.5,273.3 128.8,274.1 134.0,274.9 139.3,275.6 144.6,276.2 149.9,276.8 155.2,277.3 160.4,277.8 165.7,278.2 171.0,278.6 176.3,278.9 181.6,279.1 186.8,279.4 192.1,279.5 197.4,279.6 197.4,292.7 192.1,291.4 186.8,290.2 181.6,289.1 176.3,288.0 171.0,287.0 165.7,286.0 160.4,285.1 155.2,284.2 149.9,283.4 144.6,282.7 139.3,282.0 134.0,281.3 128.8,280.7 123.5,280.1 118.2,279.6 112.9,279.2 107.6,278.8 102.4,278.4 97.1,278.1 91.8,277.9 86.5,277.7 81.2,277.6 76.0,277.5 70.7,277.5" fill="#41679f" opacity="0.8"/>
<polyline points="70.7,262.5 76.0,263.9 81.2,265.1 86.5,266.3 91.8,267.5 97.1,268.6 102.4,269.7 107.6,270.7 112.9,271.6 118.2,272.5 123.5,273.3 128.8,274.1 134.0,274.9 139.3,275.6 144.6,276.2 149.9,276.8 155.2,277.3 160.4,277.8 165.7,278.2 171.0,278.6 176.3,278.9 181.6,279.1 186.8,279.4 192.1,279.5 197.4,279.6" fill="none" stroke="#1d3766" stroke-width="0.8" stroke-dasharray="1 0.8"/>
<polyline points="70.7,277.5 76.0,277.5 81.2,277.6 86.5,277.7 91.8,277.9 97.1,278.1 102.4,278.4 107.6,278.8 112.9,279.2 118.2,279.6 123.5,280.1 128.8,280.7 134.0,281.3 139.3,282.0 144.6,282.7 149.9,283.4 155.2,284.2 160.4,285.1 165.7,286.0 171.0,287.0 176.3,288.0 181.6,289.1 186.8,290.2 192.1,291.4 197.4,292.7" fill="none" stroke="#1d3766" stroke-width="0.8" stroke-dasharray="1 0.8"/>
<line x1="70.7" y1="270.0" x2="197.4" y2="286.1" stroke="#1b3260" stroke-width="1.3"/>
<rect x="65.4" y="218.5" width="132.0" height="123.0" fill="none" stroke="#2a2a2a" stroke-width="1.1"/>
<line x1="62.4" y1="218.5" x2="65.4" y2="218.5" stroke="#333" stroke-width="0.8"/>
<text x="59.9" y="220.8" font-size="6.4" text-anchor="end" fill="#444" textLength="23.7" lengthAdjust="spacingAndGlyphs">1.5×10<tspan font-size="3.8" dy="-2.4">5</tspan></text>
<line x1="62.4" y1="259.5" x2="65.4" y2="259.5" stroke="#333" stroke-width="0.8"/>
<text x="59.9" y="261.8" font-size="6.4" text-anchor="end" fill="#444" textLength="18.2" lengthAdjust="spacingAndGlyphs">1×10<tspan font-size="3.8" dy="-2.4">5</tspan></text>
<line x1="62.4" y1="300.5" x2="65.4" y2="300.5" stroke="#333" stroke-width="0.8"/>
<text x="59.9" y="302.8" font-size="6.4" text-anchor="end" fill="#444" textLength="18.2" lengthAdjust="spacingAndGlyphs">5×10<tspan font-size="3.8" dy="-2.4">4</tspan></text>
<line x1="62.4" y1="341.5" x2="65.4" y2="341.5" stroke="#333" stroke-width="0.8"/>
<text x="59.4" y="343.8" font-size="6.4" text-anchor="end" fill="#444" textLength="3.6" lengthAdjust="spacingAndGlyphs">0<tspan font-size="3.8" dy="-2.4"></tspan></text>
<line x1="65.4" y1="341.5" x2="65.4" y2="344.0" stroke="#333" stroke-width="0.8"/>
<text x="65.40" y="354.70" font-size="6.40" text-anchor="middle" fill="#444" font-weight="normal" >0.0</text>
<line x1="91.8" y1="341.5" x2="91.8" y2="344.0" stroke="#333" stroke-width="0.8"/>
<text x="91.80" y="354.70" font-size="6.40" text-anchor="middle" fill="#444" font-weight="normal" >0.2</text>
<line x1="118.2" y1="341.5" x2="118.2" y2="344.0" stroke="#333" stroke-width="0.8"/>
<text x="118.20" y="354.70" font-size="6.40" text-anchor="middle" fill="#444" font-weight="normal" >0.4</text>
<line x1="144.6" y1="341.5" x2="144.6" y2="344.0" stroke="#333" stroke-width="0.8"/>
<text x="144.60" y="354.70" font-size="6.40" text-anchor="middle" fill="#444" font-weight="normal" >0.6</text>
<line x1="171.0" y1="341.5" x2="171.0" y2="344.0" stroke="#333" stroke-width="0.8"/>
<text x="171.00" y="354.70" font-size="6.40" text-anchor="middle" fill="#444" font-weight="normal" >0.8</text>
<line x1="197.4" y1="341.5" x2="197.4" y2="344.0" stroke="#333" stroke-width="0.8"/>
<text x="197.40" y="354.70" font-size="6.40" text-anchor="middle" fill="#444" font-weight="normal" >1.0</text>
<text x="131.60" y="367.50" font-size="8.60" text-anchor="middle" fill="#444" font-weight="normal" textLength="93.70" lengthAdjust="spacingAndGlyphs" >Post-transfusion recovery (%)</text>
<text transform="translate(27.90 280.00) rotate(-90)" x="0" y="3.10" font-size="8.60" text-anchor="middle" fill="#444" font-weight="normal" textLength="53.70" lengthAdjust="spacingAndGlyphs">Kynurenine (AU)</text>
<!-- p4_panelB.py -->
<text x="223.80" y="223.96" font-size="12.10" text-anchor="middle" fill="#000" font-weight="bold" >B</text>
<line x1="250.2" y1="232" x2="250.2" y2="294" stroke="#8f959d" stroke-width="1.1"/>
<line x1="250.2" y1="293" x2="250.2" y2="316" stroke="#b8bcc2" stroke-width="1.9"/>
<line x1="241" y1="233.4" x2="259.8" y2="233.4" stroke="#8f959d" stroke-width="0.9"/>
<line x1="242.9" y1="233.4" x2="242.9" y2="236" stroke="#8f959d" stroke-width="0.6"/><line x1="257.6" y1="233.4" x2="257.6" y2="236" stroke="#8f959d" stroke-width="0.6"/>
<rect x="240.1" y="235.6" width="5.6" height="7.6" rx="1" fill="#f0d36a" stroke="#c9a93c" stroke-width="0.5"/>
<rect x="254.4" y="235.6" width="6.5" height="10.6" rx="1.2" fill="#a3211d" stroke="#6e1512" stroke-width="0.5"/>
<path d="M242.9 243.4 C243 255 236.5 264 237.5 273 C238.2 279.5 243 279 246 277" fill="none" stroke="#b9c3d4" stroke-width="0.6"/>
<path d="M257.6 246.4 C257 258 250 264 249 273.5" fill="none" stroke="#b9c3d4" stroke-width="0.6"/>
<path d="M260 278 C264 279.5 266 277.5 268 274" fill="none" stroke="#b9c3d4" stroke-width="0.6"/>
<rect x="241.2" y="273.8" width="18.8" height="3.8" fill="#b8bcc2" stroke="#6f757d" stroke-width="0.4"/><rect x="241.2" y="278.2" width="18.8" height="3.9" fill="#b8bcc2" stroke="#6f757d" stroke-width="0.4"/>
<rect x="243.4" y="274.8" width="9.6" height="1.7" fill="#4a4f57"/><rect x="243.4" y="279.2" width="9.6" height="1.7" fill="#4a4f57"/>
<path d="M250.2 316.6 L239.4 313.6 M250.2 316.6 L261 313.6 M250.2 316.6 L239.6 321 M250.2 316.6 L260.8 321" fill="none" stroke="#b8bcc2" stroke-width="1.5"/>
<circle cx="239.0" cy="314.2" r="1.6" fill="#6f757d"/>
<circle cx="261.4" cy="314.2" r="1.6" fill="#6f757d"/>
<circle cx="239.2" cy="322.0" r="1.6" fill="#6f757d"/>
<circle cx="261.2" cy="322.0" r="1.6" fill="#6f757d"/>
<path d="M289 295 L346 295 L352 303.2 L358.6 303.2 Q361.6 303.2 361.6 306.2 L361.6 311 Q361.6 313.2 359 313.2 L280 313.2 Q277 313.2 277 310.6 L277 306.6 Q277 303.4 281 303.4 L284.5 303.4 Z" fill="#b8bcc2"/>
<path d="M289 295 L346 295 L352 303.2 L284.5 303.4 Z" fill="#a6abb2"/>
<circle cx="280.8" cy="317.6" r="3.6" fill="#6f757d"/><circle cx="280.8" cy="317.6" r="1.3" fill="#d9dce0"/>
<circle cx="357.2" cy="317.6" r="3.6" fill="#6f757d"/><circle cx="357.2" cy="317.6" r="1.3" fill="#d9dce0"/>
<path d="M272.6 293 L284.4 294.6 L283.6 300.4 L274.6 299.2 Z" fill="#8f959d"/>
<path d="M262.6 269 L266 266 L308 287.4 L304 292 Z" fill="#b8bcc2"/>
<path d="M262.6 269.4 L262.6 279.6 L267.6 283.6 L267.6 272.4 Z" fill="#8f959d"/>
<path d="M267.6 283 L304 288.2 L364 288.2 L364 295.2 L300 295.2 L267.6 289.6 Z" fill="#b8bcc2"/>
<path d="M266 266.4 Q267 263.4 270 264.4 L309.4 283.4 L358 283.4 L358 288 L305.6 288 L265.4 269.8 Z" fill="#2c4a8c"/>
<rect x="355.8" y="267.2" width="8.8" height="22.4" rx="1.6" fill="#8f959d"/><rect x="357.6" y="269" width="5.2" height="13.6" rx="1" fill="#b8bcc2"/>
<ellipse cx="279.4" cy="266" rx="7" ry="2.8" transform="rotate(26 279.4 266)" fill="#eef1f5"/>
<circle cx="281.6" cy="262.3" r="3.9" fill="#eccbae"/>
<path d="M278 261.6 Q280 257.4 284.8 259.2 Q282 259.8 280.4 262.6 Z" fill="#dcdcdc"/>
<path d="M284.4 264.8 L292.4 263 L296 272.6 L288.6 274 Z" fill="#bfe3ea"/>
<path d="M292 264.6 C296 263.4 301 268 309 269.2 C318 270.4 324 269.4 330 269.8 C340 270.2 350 270.4 356.6 273.4 L357.2 283.4 L311 283.6 C304 282.6 297 278 292.8 274.2 C290.4 271 290.2 266.4 292 264.6 Z" fill="#f4ead4" stroke="#e4d6b8" stroke-width="0.4"/>
<path d="M306.6 294.6 C305.4 286 310 281.6 316 281.6 L342 281.6 C347.6 281.6 348.4 285 347.2 294.6 Z" fill="#d9dce0" stroke="#8f959d" stroke-width="0.4"/>
<rect x="312.6" y="283.6" width="10" height="3.6" rx="1" fill="#4a64a0"/><rect x="326" y="283.6" width="12" height="3.6" rx="1" fill="#4a64a0"/><rect x="341" y="283.6" width="4" height="3.6" rx="1" fill="#4a64a0"/>
<rect x="380.2" y="237.4" width="2.4" height="5" rx="0.8" fill="#cfc6c6"/><rect x="379.9" y="240.6" width="3" height="4" fill="#7b1714"/>
<rect x="384.4" y="237.4" width="2.4" height="5" rx="0.8" fill="#cfc6c6"/><rect x="384.1" y="240.6" width="3" height="4" fill="#7b1714"/>
<rect x="389.0" y="237.4" width="2.4" height="5" rx="0.8" fill="#cfc6c6"/><rect x="388.7" y="240.6" width="3" height="4" fill="#7b1714"/>
<path d="M376.8 245 Q376.8 241.2 380.2 241.2 L391.8 241.2 Q395.2 241.2 395.2 245 L395.6 268.5 Q395.6 273.8 390.4 273.8 L381.4 273.8 Q376.2 273.8 376.4 268.5 Z" fill="#8c1b1a"/>
<path d="M376.5 262 Q386 265.5 395.5 262 L395.6 268.5 Q395.6 273.8 390.4 273.8 L381.4 273.8 Q376.2 273.8 376.4 268.5 Z" fill="#9d2222"/>
<rect x="378.5" y="252.3" width="8" height="14.6" fill="#f6f6f8"/>
<path d="M387 258.6 L409.4 250 M387 263 L410.2 271.6" stroke="#6d92c0" stroke-width="0.7" fill="none"/>
<circle cx="424" cy="259.8" r="17.8" fill="#d8e5f4" stroke="#8badd3" stroke-width="0.7"/>
<circle cx="424" cy="259.8" r="15" fill="#f3f7fc"/>
<ellipse cx="423.6" cy="259.5" rx="11.8" ry="10.9" fill="#cf1f2b"/>
<ellipse cx="422.6" cy="259.4" rx="5.2" ry="5" fill="#a51019"/>
<path d="M419.2 256.2 Q422 253.4 425.6 254.4 Q422.4 256 422.2 259.6 Q422.4 262.6 424.6 264 Q420.6 264.4 419 261.4 Q418.2 258.6 419.2 256.2 Z" fill="#8e0c14"/>
<circle cx="429.4" cy="258.8" r="3.1" fill="#f0b9c2" opacity="0.55"/>
<path d="M431 257.4 L452.6 248.6 M431 260.4 L453.4 272.8" stroke="#6d92c0" stroke-width="0.7" fill="none"/>
<circle cx="478.6" cy="258.3" r="27" fill="#d3e2f2" stroke="#8badd3" stroke-width="0.7"/>
<circle cx="478.6" cy="258.3" r="24.4" fill="#fbfcfe"/>
<clipPath id="hbc"><circle cx="478.6" cy="258.3" r="23.6"/></clipPath>
<g clip-path="url(#hbc)"><ellipse cx="467.4" cy="249.6" rx="11" ry="11.4" fill="#e9566e"/><circle cx="462.5" cy="244.6" r="3.8" fill="none" stroke="#f4909e" stroke-width="2.0"/><circle cx="468.0" cy="245.8" r="2.3" fill="none" stroke="#dd3b58" stroke-width="1.5"/><circle cx="463.9" cy="250.3" r="3.3" fill="none" stroke="#dd3b58" stroke-width="1.4"/><circle cx="468.2" cy="253.5" r="4.0" fill="none" stroke="#cf3050" stroke-width="1.5"/><circle cx="468.2" cy="246.7" r="3.4" fill="none" stroke="#dd3b58" stroke-width="1.5"/><circle cx="469.4" cy="249.2" r="3.7" fill="none" stroke="#dd3b58" stroke-width="2.0"/><circle cx="465.4" cy="258.0" r="3.3" fill="none" stroke="#dd3b58" stroke-width="1.5"/><circle cx="470.6" cy="248.9" r="4.1" fill="none" stroke="#cf3050" stroke-width="1.6"/><circle cx="465.4" cy="252.1" r="2.5" fill="none" stroke="#f4909e" stroke-width="1.6"/><circle cx="469.8" cy="244.0" r="3.4" fill="none" stroke="#f07a8c" stroke-width="1.4"/><circle cx="465.0" cy="252.9" r="3.6" fill="none" stroke="#dd3b58" stroke-width="1.7"/><circle cx="466.7" cy="247.2" r="4.2" fill="none" stroke="#f4909e" stroke-width="2.1"/><ellipse cx="464.3" cy="253.5" rx="1.1" ry="0.7" fill="#fbfcfe" transform="rotate(96 464.3 253.5)"/><ellipse cx="465.6" cy="248.6" rx="0.6" ry="0.6" fill="#fbfcfe" transform="rotate(50 465.6 248.6)"/><ellipse cx="470.2" cy="252.2" rx="1.3" ry="0.7" fill="#fbfcfe" transform="rotate(131 470.2 252.2)"/><ellipse cx="463.8" cy="254.3" rx="1.3" ry="0.6" fill="#fbfcfe" transform="rotate(94 463.8 254.3)"/><ellipse cx="468.8" cy="247.8" rx="1.5" ry="0.5" fill="#fbfcfe" transform="rotate(87 468.8 247.8)"/><ellipse cx="462.7" cy="249.2" rx="0.7" ry="0.6" fill="#fbfcfe" transform="rotate(179 462.7 249.2)"/><ellipse cx="463.2" cy="248.4" rx="0.9" ry="0.6" fill="#fbfcfe" transform="rotate(20 463.2 248.4)"/><ellipse cx="462.2" cy="244.3" rx="0.9" ry="0.7" fill="#fbfcfe" transform="rotate(12 462.2 244.3)"/><ellipse cx="473.1" cy="252.8" rx="1.4" ry="0.5" fill="#fbfcfe" transform="rotate(152 473.1 252.8)"/><ellipse cx="489.4" cy="249.2" rx="11" ry="11.4" fill="#9a3072"/><circle cx="487.4" cy="252.4" r="3.5" fill="none" stroke="#c24a7c" stroke-width="1.4"/><circle cx="491.3" cy="248.0" r="3.2" fill="none" stroke="#c24a7c" stroke-width="1.5"/><circle cx="488.4" cy="240.7" r="3.5" fill="none" stroke="#e0607f" stroke-width="1.5"/><circle cx="486.7" cy="250.5" r="3.9" fill="none" stroke="#b03a78" stroke-width="1.5"/><circle cx="494.7" cy="246.2" r="2.5" fill="none" stroke="#e0607f" stroke-width="2.1"/><circle cx="487.9" cy="245.2" r="2.7" fill="none" stroke="#e0607f" stroke-width="1.7"/><circle cx="492.1" cy="252.9" r="4.2" fill="none" stroke="#c24a7c" stroke-width="1.8"/><circle cx="485.2" cy="249.2" r="2.4" fill="none" stroke="#b03a78" stroke-width="1.8"/><circle cx="484.4" cy="247.6" r="2.3" fill="none" stroke="#b03a78" stroke-width="1.9"/><circle cx="485.8" cy="243.0" r="2.9" fill="none" stroke="#b03a78" stroke-width="2.0"/><circle cx="488.6" cy="258.0" r="3.6" fill="none" stroke="#b03a78" stroke-width="1.9"/><circle cx="487.6" cy="248.1" r="3.3" fill="none" stroke="#b03a78" stroke-width="1.6"/><ellipse cx="488.8" cy="253.3" rx="1.1" ry="0.8" fill="#fbfcfe" transform="rotate(91 488.8 253.3)"/><ellipse cx="485.5" cy="254.8" rx="1.3" ry="0.9" fill="#fbfcfe" transform="rotate(89 485.5 254.8)"/><ellipse cx="492.3" cy="247.6" rx="1.4" ry="0.7" fill="#fbfcfe" transform="rotate(93 492.3 247.6)"/><ellipse cx="495.1" cy="247.6" rx="1.1" ry="0.6" fill="#fbfcfe" transform="rotate(92 495.1 247.6)"/><ellipse cx="494.5" cy="247.0" rx="1.2" ry="0.9" fill="#fbfcfe" transform="rotate(106 494.5 247.0)"/><ellipse cx="493.1" cy="256.1" rx="1.1" ry="0.8" fill="#fbfcfe" transform="rotate(107 493.1 256.1)"/><ellipse cx="487.4" cy="255.0" rx="1.4" ry="0.6" fill="#fbfcfe" transform="rotate(7 487.4 255.0)"/><ellipse cx="491.5" cy="255.2" rx="1.2" ry="0.6" fill="#fbfcfe" transform="rotate(175 491.5 255.2)"/><ellipse cx="492.5" cy="255.9" rx="1.5" ry="1.0" fill="#fbfcfe" transform="rotate(42 492.5 255.9)"/><ellipse cx="467.2" cy="269.4" rx="11" ry="11.4" fill="#8a2866"/><circle cx="469.9" cy="270.4" r="2.8" fill="none" stroke="#c24a7c" stroke-width="1.7"/><circle cx="462.7" cy="267.9" r="2.9" fill="none" stroke="#7a2560" stroke-width="1.8"/><circle cx="467.8" cy="277.6" r="2.2" fill="none" stroke="#a83a78" stroke-width="2.1"/><circle cx="471.9" cy="263.1" r="3.6" fill="none" stroke="#e0506c" stroke-width="2.1"/><circle cx="463.4" cy="268.1" r="2.8" fill="none" stroke="#e0506c" stroke-width="2.1"/><circle cx="466.1" cy="273.7" r="2.5" fill="none" stroke="#a83a78" stroke-width="2.0"/><circle cx="464.4" cy="265.8" r="2.5" fill="none" stroke="#a83a78" stroke-width="1.8"/><circle cx="475.2" cy="267.1" r="3.4" fill="none" stroke="#e0506c" stroke-width="2.0"/><circle cx="464.8" cy="265.4" r="2.9" fill="none" stroke="#c24a7c" stroke-width="1.6"/><circle cx="471.2" cy="265.2" r="3.1" fill="none" stroke="#c24a7c" stroke-width="1.7"/><circle cx="460.7" cy="270.3" r="3.0" fill="none" stroke="#c24a7c" stroke-width="1.8"/><circle cx="466.7" cy="278.2" r="3.2" fill="none" stroke="#a83a78" stroke-width="1.4"/><ellipse cx="471.2" cy="267.9" rx="1.4" ry="0.6" fill="#fbfcfe" transform="rotate(6 471.2 267.9)"/><ellipse cx="472.0" cy="274.0" rx="1.0" ry="0.6" fill="#fbfcfe" transform="rotate(34 472.0 274.0)"/><ellipse cx="468.2" cy="267.5" rx="1.1" ry="0.6" fill="#fbfcfe" transform="rotate(121 468.2 267.5)"/><ellipse cx="468.0" cy="265.6" rx="0.8" ry="0.6" fill="#fbfcfe" transform="rotate(73 468.0 265.6)"/><ellipse cx="465.4" cy="275.7" rx="1.0" ry="0.8" fill="#fbfcfe" transform="rotate(154 465.4 275.7)"/><ellipse cx="473.6" cy="263.4" rx="0.6" ry="0.6" fill="#fbfcfe" transform="rotate(72 473.6 263.4)"/><ellipse cx="462.8" cy="268.5" rx="0.9" ry="0.8" fill="#fbfcfe" transform="rotate(118 462.8 268.5)"/><ellipse cx="463.0" cy="275.2" rx="1.3" ry="0.6" fill="#fbfcfe" transform="rotate(0 463.0 275.2)"/><ellipse cx="467.1" cy="274.8" rx="1.4" ry="0.9" fill="#fbfcfe" transform="rotate(139 467.1 274.8)"/><ellipse cx="489.8" cy="269.2" rx="11" ry="11.4" fill="#e4506a"/><circle cx="491.5" cy="273.9" r="3.8" fill="none" stroke="#dd3b58" stroke-width="2.0"/><circle cx="492.5" cy="264.7" r="3.6" fill="none" stroke="#cf3050" stroke-width="2.0"/><circle cx="483.0" cy="270.8" r="2.8" fill="none" stroke="#f4909e" stroke-width="1.9"/><circle cx="486.3" cy="270.9" r="3.8" fill="none" stroke="#f07a8c" stroke-width="1.5"/><circle cx="484.3" cy="270.0" r="3.2" fill="none" stroke="#f07a8c" stroke-width="1.8"/><circle cx="484.9" cy="271.8" r="2.3" fill="none" stroke="#cf3050" stroke-width="1.6"/><circle cx="491.9" cy="270.5" r="4.1" fill="none" stroke="#f07a8c" stroke-width="1.9"/><circle cx="498.2" cy="268.0" r="3.6" fill="none" stroke="#f4909e" stroke-width="1.5"/><circle cx="494.1" cy="273.6" r="3.8" fill="none" stroke="#f4909e" stroke-width="1.9"/><circle cx="492.4" cy="272.3" r="4.0" fill="none" stroke="#cf3050" stroke-width="1.5"/><circle cx="492.7" cy="276.2" r="2.3" fill="none" stroke="#cf3050" stroke-width="1.4"/><circle cx="493.3" cy="272.1" r="2.3" fill="none" stroke="#f4909e" stroke-width="1.8"/><ellipse cx="493.5" cy="272.6" rx="1.2" ry="0.5" fill="#fbfcfe" transform="rotate(23 493.5 272.6)"/><ellipse cx="487.2" cy="275.2" rx="1.0" ry="1.0" fill="#fbfcfe" transform="rotate(95 487.2 275.2)"/><ellipse cx="492.4" cy="267.6" rx="0.9" ry="0.8" fill="#fbfcfe" transform="rotate(173 492.4 267.6)"/><ellipse cx="481.0" cy="268.9" rx="1.1" ry="0.8" fill="#fbfcfe" transform="rotate(67 481.0 268.9)"/><ellipse cx="493.3" cy="270.7" rx="1.3" ry="0.6" fill="#fbfcfe" transform="rotate(34 493.3 270.7)"/><ellipse cx="492.8" cy="261.3" rx="1.0" ry="0.7" fill="#fbfcfe" transform="rotate(33 492.8 261.3)"/><ellipse cx="488.2" cy="262.5" rx="0.7" ry="0.8" fill="#fbfcfe" transform="rotate(23 488.2 262.5)"/><ellipse cx="493.6" cy="264.8" rx="1.0" ry="0.7" fill="#fbfcfe" transform="rotate(118 493.6 264.8)"/><ellipse cx="485.4" cy="269.7" rx="1.3" ry="0.5" fill="#fbfcfe" transform="rotate(98 485.4 269.7)"/><path d="M476.5 243.5 C470 251 470.5 266 477.5 273.5" fill="none" stroke="#e9566e" stroke-width="2.2"/><path d="M481.5 243 C488.5 251 488 266 480.5 273.5" fill="none" stroke="#d93c5a" stroke-width="2.2"/><circle cx="478.4" cy="248.5" r="3" fill="none" stroke="#e0607f" stroke-width="1.9"/><circle cx="478.6" cy="269.5" r="3" fill="none" stroke="#c24a7c" stroke-width="1.9"/><circle cx="466.5" cy="259.6" r="3" fill="none" stroke="#dd3b58" stroke-width="1.9"/><circle cx="490.6" cy="259.4" r="3" fill="none" stroke="#e4506a" stroke-width="1.9"/><circle cx="478.5" cy="262.0" r="3" fill="none" stroke="#f07a8c" stroke-width="1.9"/><circle cx="478.5" cy="254.0" r="3" fill="none" stroke="#d93c5a" stroke-width="1.9"/><ellipse cx="473" cy="258.6" rx="3.2" ry="3.8" fill="#f6c6cf" stroke="#f07a8c" stroke-width="2"/><ellipse cx="486.4" cy="257.6" rx="3.2" ry="3.8" fill="#f6c6cf" stroke="#e8506a" stroke-width="2"/><rect x="477.2" y="256.8" width="4.6" height="1.8" fill="#fbfcfe"/></g>
<defs><linearGradient id="ga" x1="0" y1="0" x2="0" y2="1"><stop offset="0" stop-color="#d0103a"/><stop offset="0.55" stop-color="#c93a5c"/><stop offset="1" stop-color="#5a6f9c"/></linearGradient></defs>
<rect x="392.9" y="290" width="1.1" height="12" fill="url(#ga)"/>
<path d="M393.45 286.6 L396.3 292.4 L393.45 291 L390.6 292.4 Z" fill="#d0103a"/>
<rect x="392.9" y="304.2" width="1.1" height="11.5" fill="#1f3d70"/>
<path d="M393.45 319.4 L396.3 313.6 L393.45 315 L390.6 313.6 Z" fill="#1f3d70"/>
<text x="399.20" y="299.82" font-size="7.00" text-anchor="start" fill="#3c3c3c" font-weight="normal" textLength="51.80" lengthAdjust="spacingAndGlyphs" >High Kynurenine</text>
<text x="399.20" y="313.22" font-size="7.00" text-anchor="start" fill="#3c3c3c" font-weight="normal" textLength="61.60" lengthAdjust="spacingAndGlyphs" >Low Hgb increment</text>
<!-- p5_table.py -->
<rect x="238.0" y="330.0" width="260.3" height="27.0" fill="#1b4f90"/>
<text x="367.85" y="342.00" font-size="6.40" text-anchor="middle" fill="#fff" font-weight="normal" textLength="189.00" lengthAdjust="spacingAndGlyphs" >Hemoglobin increments after single unit RBC transfusion for</text>
<text x="368.15" y="350.50" font-size="6.40" text-anchor="middle" fill="#fff" font-weight="normal" textLength="49.00" lengthAdjust="spacingAndGlyphs" >SNP rs8052118</text>
<rect x="238.0" y="357.0" width="260.3" height="88.5" fill="#fff" stroke="#2a2a2a" stroke-width="0.9"/>
<rect x="238.0" y="330.0" width="260.3" height="27.0" fill="none" stroke="#163f75" stroke-width="0.9"/>
<line x1="238.0" y1="383.2" x2="498.3" y2="383.2" stroke="#2a2a2a" stroke-width="0.9"/>
<line x1="238.0" y1="403.6" x2="498.3" y2="403.6" stroke="#2a2a2a" stroke-width="0.9"/>
<line x1="238.0" y1="424.4" x2="498.3" y2="424.4" stroke="#2a2a2a" stroke-width="0.9"/>
<line x1="325.2" y1="357.0" x2="325.2" y2="445.5" stroke="#2a2a2a" stroke-width="0.9"/>
<line x1="411.2" y1="357.0" x2="411.2" y2="445.5" stroke="#2a2a2a" stroke-width="0.9"/>
<text x="368.20" y="367.78" font-size="6.60" text-anchor="middle" fill="#3c3c3c" font-weight="normal" textLength="35.00" lengthAdjust="spacingAndGlyphs" >Unadjusted</text>
<text x="368.20" y="375.98" font-size="6.60" text-anchor="middle" fill="#3c3c3c" font-weight="normal" textLength="41.00" lengthAdjust="spacingAndGlyphs" >g/dL [95% CI]</text>
<text x="454.75" y="367.78" font-size="6.60" text-anchor="middle" fill="#3c3c3c" font-weight="normal" textLength="27.50" lengthAdjust="spacingAndGlyphs" >Adjusted</text>
<text x="454.75" y="375.98" font-size="6.60" text-anchor="middle" fill="#3c3c3c" font-weight="normal" textLength="61.00" lengthAdjust="spacingAndGlyphs" >Odds ratio [95% CI]</text>
<text x="281.60" y="391.58" font-size="6.60" text-anchor="middle" fill="#3c3c3c" font-weight="normal" textLength="72.00" lengthAdjust="spacingAndGlyphs" >Homozygous dominant</text>
<text x="281.60" y="399.98" font-size="6.60" text-anchor="middle" fill="#3c3c3c" font-weight="normal" textLength="35.00" lengthAdjust="spacingAndGlyphs" >(n = 2,257)</text>
<text x="368.20" y="395.98" font-size="6.60" text-anchor="middle" fill="#3c3c3c" font-weight="normal" textLength="52.00" lengthAdjust="spacingAndGlyphs" >1.01 [0.97, 1.04]</text>
<text x="454.75" y="395.98" font-size="6.60" text-anchor="middle" fill="#3c3c3c" font-weight="normal" textLength="12.00" lengthAdjust="spacingAndGlyphs" >Ref</text>
<text x="281.60" y="412.18" font-size="6.60" text-anchor="middle" fill="#3c3c3c" font-weight="normal" textLength="42.00" lengthAdjust="spacingAndGlyphs" >Heterozygous</text>
<text x="281.60" y="420.58" font-size="6.60" text-anchor="middle" fill="#3c3c3c" font-weight="normal" textLength="66.00" lengthAdjust="spacingAndGlyphs" >dominant (n = 1,825)</text>
<text x="368.20" y="416.58" font-size="6.60" text-anchor="middle" fill="#3c3c3c" font-weight="normal" textLength="52.00" lengthAdjust="spacingAndGlyphs" >0.98 [0.94, 1.02]</text>
<text x="454.75" y="416.58" font-size="6.60" text-anchor="middle" fill="#3c3c3c" font-weight="normal" textLength="60.00" lengthAdjust="spacingAndGlyphs" >–0.03 [–0.07, 0.24]</text>
<text x="281.60" y="432.78" font-size="6.60" text-anchor="middle" fill="#3c3c3c" font-weight="normal" textLength="72.00" lengthAdjust="spacingAndGlyphs" >Homozygous recessive</text>
<text x="281.60" y="441.18" font-size="6.60" text-anchor="middle" fill="#3c3c3c" font-weight="normal" textLength="28.50" lengthAdjust="spacingAndGlyphs" >(n = 388)</text>
<text x="368.20" y="437.38" font-size="6.60" text-anchor="middle" fill="#3c3c3c" font-weight="normal" textLength="52.00" lengthAdjust="spacingAndGlyphs" >0.90 [0.82, 0.98]</text>
<text x="454.75" y="437.38" font-size="6.60" text-anchor="middle" fill="#3c3c3c" font-weight="normal" textLength="63.00" lengthAdjust="spacingAndGlyphs" >–0.11 [–0.19, –0.02]</text>
<!-- p6_violin.py -->
<text x="23.30" y="472.96" font-size="12.10" text-anchor="middle" fill="#000" font-weight="bold" >C</text>
<text x="144.10" y="487.15" font-size="8.20" text-anchor="middle" fill="#3a3a3a" font-weight="normal" textLength="94.20" lengthAdjust="spacingAndGlyphs" >Hemoglobin increments</text>
<text x="144.35" y="497.35" font-size="8.20" text-anchor="middle" fill="#3a3a3a" font-weight="normal" textLength="106.30" lengthAdjust="spacingAndGlyphs" >for RBC units with SLC7A5</text>
<path d="M101.10 511.00 C101.18 513.33 101.28 521.00 101.60 525.00 C101.92 529.00 102.52 532.50 103.00 535.00 C103.48 537.50 103.93 538.17 104.50 540.00 C105.07 541.83 105.62 544.00 106.40 546.00 C107.18 548.00 108.17 550.33 109.20 552.00 C110.23 553.67 111.23 554.58 112.60 556.00 C113.97 557.42 115.82 559.00 117.40 560.50 C118.98 562.00 120.70 563.58 122.10 565.00 C123.50 566.42 124.48 567.58 125.80 569.00 C127.12 570.42 128.70 572.00 130.00 573.50 C131.30 575.00 132.53 576.58 133.60 578.00 C134.67 579.42 135.57 580.58 136.40 582.00 C137.23 583.42 138.07 585.17 138.60 586.50 C139.13 587.83 139.37 588.75 139.60 590.00 C139.83 591.25 140.07 592.67 140.00 594.00 C139.93 595.33 139.52 597.00 139.20 598.00 C138.88 599.00 138.75 599.00 138.10 600.00 C137.45 601.00 136.45 602.55 135.30 604.00 C134.15 605.45 132.55 607.20 131.20 608.70 C129.85 610.20 128.50 611.57 127.20 613.00 C125.90 614.43 124.55 615.88 123.40 617.30 C122.25 618.72 121.30 620.05 120.30 621.50 C119.30 622.95 118.52 624.58 117.40 626.00 C116.28 627.42 114.90 628.57 113.60 630.00 C112.30 631.43 110.77 633.10 109.60 634.60 C108.43 636.10 107.47 637.55 106.60 639.00 C105.73 640.45 105.12 641.73 104.40 643.30 C103.68 644.87 102.78 646.45 102.30 648.40 C101.82 650.35 101.67 651.73 101.50 655.00 C101.33 658.27 101.32 663.50 101.25 668.00 C101.18 672.50 101.12 679.67 101.10 682.00 L100.50 682.00 C100.47 679.67 100.42 672.50 100.35 668.00 C100.28 663.50 100.27 658.27 100.10 655.00 C99.92 651.73 99.78 650.35 99.30 648.40 C98.82 646.45 97.92 644.87 97.20 643.30 C96.48 641.73 95.87 640.45 95.00 639.00 C94.13 637.55 93.17 636.10 92.00 634.60 C90.83 633.10 89.30 631.43 88.00 630.00 C86.70 628.57 85.32 627.42 84.20 626.00 C83.08 624.58 82.30 622.95 81.30 621.50 C80.30 620.05 79.35 618.72 78.20 617.30 C77.05 615.88 75.70 614.43 74.40 613.00 C73.10 611.57 71.75 610.20 70.40 608.70 C69.05 607.20 67.45 605.45 66.30 604.00 C65.15 602.55 64.15 601.00 63.50 600.00 C62.85 599.00 62.72 599.00 62.40 598.00 C62.08 597.00 61.67 595.33 61.60 594.00 C61.53 592.67 61.77 591.25 62.00 590.00 C62.23 588.75 62.47 587.83 63.00 586.50 C63.53 585.17 64.37 583.42 65.20 582.00 C66.03 580.58 66.93 579.42 68.00 578.00 C69.07 576.58 70.30 575.00 71.60 573.50 C72.90 572.00 74.48 570.42 75.80 569.00 C77.12 567.58 78.10 566.42 79.50 565.00 C80.90 563.58 82.62 562.00 84.20 560.50 C85.78 559.00 87.63 557.42 89.00 556.00 C90.37 554.58 91.37 553.67 92.40 552.00 C93.43 550.33 94.42 548.00 95.20 546.00 C95.98 544.00 96.53 541.83 97.10 540.00 C97.67 538.17 98.12 537.50 98.60 535.00 C99.08 532.50 99.68 529.00 100.00 525.00 C100.32 521.00 100.42 513.33 100.50 511.00 Z" fill="#e4e5f1" fill-opacity="1.00" stroke="#1a1a1a" stroke-width="1.05" stroke-linejoin="round"/>
<clipPath id="vb1"><path d="M101.10 511.00 C101.18 513.33 101.28 521.00 101.60 525.00 C101.92 529.00 102.52 532.50 103.00 535.00 C103.48 537.50 103.93 538.17 104.50 540.00 C105.07 541.83 105.62 544.00 106.40 546.00 C107.18 548.00 108.17 550.33 109.20 552.00 C110.23 553.67 111.23 554.58 112.60 556.00 C113.97 557.42 115.82 559.00 117.40 560.50 C118.98 562.00 120.70 563.58 122.10 565.00 C123.50 566.42 124.48 567.58 125.80 569.00 C127.12 570.42 128.70 572.00 130.00 573.50 C131.30 575.00 132.53 576.58 133.60 578.00 C134.67 579.42 135.57 580.58 136.40 582.00 C137.23 583.42 138.07 585.17 138.60 586.50 C139.13 587.83 139.37 588.75 139.60 590.00 C139.83 591.25 140.07 592.67 140.00 594.00 C139.93 595.33 139.52 597.00 139.20 598.00 C138.88 599.00 138.75 599.00 138.10 600.00 C137.45 601.00 136.45 602.55 135.30 604.00 C134.15 605.45 132.55 607.20 131.20 608.70 C129.85 610.20 128.50 611.57 127.20 613.00 C125.90 614.43 124.55 615.88 123.40 617.30 C122.25 618.72 121.30 620.05 120.30 621.50 C119.30 622.95 118.52 624.58 117.40 626.00 C116.28 627.42 114.90 628.57 113.60 630.00 C112.30 631.43 110.77 633.10 109.60 634.60 C108.43 636.10 107.47 637.55 106.60 639.00 C105.73 640.45 105.12 641.73 104.40 643.30 C103.68 644.87 102.78 646.45 102.30 648.40 C101.82 650.35 101.67 651.73 101.50 655.00 C101.33 658.27 101.32 663.50 101.25 668.00 C101.18 672.50 101.12 679.67 101.10 682.00 L100.50 682.00 C100.47 679.67 100.42 672.50 100.35 668.00 C100.28 663.50 100.27 658.27 100.10 655.00 C99.92 651.73 99.78 650.35 99.30 648.40 C98.82 646.45 97.92 644.87 97.20 643.30 C96.48 641.73 95.87 640.45 95.00 639.00 C94.13 637.55 93.17 636.10 92.00 634.60 C90.83 633.10 89.30 631.43 88.00 630.00 C86.70 628.57 85.32 627.42 84.20 626.00 C83.08 624.58 82.30 622.95 81.30 621.50 C80.30 620.05 79.35 618.72 78.20 617.30 C77.05 615.88 75.70 614.43 74.40 613.00 C73.10 611.57 71.75 610.20 70.40 608.70 C69.05 607.20 67.45 605.45 66.30 604.00 C65.15 602.55 64.15 601.00 63.50 600.00 C62.85 599.00 62.72 599.00 62.40 598.00 C62.08 597.00 61.67 595.33 61.60 594.00 C61.53 592.67 61.77 591.25 62.00 590.00 C62.23 588.75 62.47 587.83 63.00 586.50 C63.53 585.17 64.37 583.42 65.20 582.00 C66.03 580.58 66.93 579.42 68.00 578.00 C69.07 576.58 70.30 575.00 71.60 573.50 C72.90 572.00 74.48 570.42 75.80 569.00 C77.12 567.58 78.10 566.42 79.50 565.00 C80.90 563.58 82.62 562.00 84.20 560.50 C85.78 559.00 87.63 557.42 89.00 556.00 C90.37 554.58 91.37 553.67 92.40 552.00 C93.43 550.33 94.42 548.00 95.20 546.00 C95.98 544.00 96.53 541.83 97.10 540.00 C97.67 538.17 98.12 537.50 98.60 535.00 C99.08 532.50 99.68 529.00 100.00 525.00 C100.32 521.00 100.42 513.33 100.50 511.00 Z"/></clipPath><rect x="82.8" y="538.0" width="36.0" height="124.0" fill="#d1d3e6" opacity="1.00" clip-path="url(#vb1)"/>
<g fill="#cdcfe3" opacity="0.85"><circle cx="102.9" cy="589.5" r="1.60"/><circle cx="101.1" cy="590.1" r="1.60"/><circle cx="101.2" cy="568.2" r="1.60"/><circle cx="86.4" cy="613.8" r="1.60"/><circle cx="111.8" cy="556.2" r="1.60"/><circle cx="118.0" cy="545.1" r="1.60"/><circle cx="104.9" cy="602.1" r="1.60"/><circle cx="101.8" cy="535.0" r="1.60"/><circle cx="91.6" cy="567.9" r="1.60"/><circle cx="98.7" cy="589.9" r="1.60"/><circle cx="105.8" cy="593.5" r="1.60"/><circle cx="99.3" cy="602.7" r="1.60"/><circle cx="118.4" cy="649.9" r="1.60"/><circle cx="94.2" cy="606.2" r="1.60"/><circle cx="85.5" cy="577.3" r="1.60"/><circle cx="113.1" cy="585.4" r="1.60"/><circle cx="113.2" cy="635.9" r="1.60"/><circle cx="115.4" cy="570.5" r="1.60"/><circle cx="97.1" cy="642.0" r="1.60"/><circle cx="110.7" cy="600.2" r="1.60"/><circle cx="94.8" cy="556.1" r="1.60"/><circle cx="87.2" cy="610.2" r="1.60"/><circle cx="85.1" cy="558.4" r="1.60"/><circle cx="102.9" cy="567.4" r="1.60"/><circle cx="109.1" cy="568.1" r="1.60"/><circle cx="87.1" cy="601.4" r="1.60"/><circle cx="92.6" cy="571.1" r="1.60"/><circle cx="93.8" cy="615.5" r="1.60"/><circle cx="97.0" cy="570.9" r="1.60"/><circle cx="86.6" cy="602.1" r="1.60"/><circle cx="92.2" cy="571.3" r="1.60"/><circle cx="93.5" cy="580.0" r="1.60"/><circle cx="103.7" cy="555.7" r="1.60"/><circle cx="96.2" cy="598.9" r="1.60"/><circle cx="100.2" cy="636.6" r="1.60"/><circle cx="89.5" cy="621.1" r="1.60"/><circle cx="112.1" cy="626.7" r="1.60"/><circle cx="109.3" cy="569.0" r="1.60"/><circle cx="116.8" cy="569.5" r="1.60"/><circle cx="98.0" cy="598.5" r="1.60"/><circle cx="117.3" cy="543.7" r="1.60"/><circle cx="92.1" cy="606.9" r="1.60"/><circle cx="93.4" cy="598.1" r="1.60"/><circle cx="85.4" cy="607.2" r="1.60"/><circle cx="113.3" cy="596.1" r="1.60"/><circle cx="115.7" cy="576.1" r="1.60"/><circle cx="92.6" cy="535.9" r="1.60"/><circle cx="89.3" cy="549.3" r="1.60"/><circle cx="87.7" cy="596.8" r="1.60"/><circle cx="117.9" cy="625.2" r="1.60"/><circle cx="103.8" cy="604.6" r="1.60"/><circle cx="83.6" cy="543.0" r="1.60"/><circle cx="117.3" cy="605.4" r="1.60"/><circle cx="100.2" cy="601.3" r="1.60"/><circle cx="118.6" cy="579.0" r="1.60"/><circle cx="109.2" cy="595.5" r="1.60"/><circle cx="108.1" cy="609.4" r="1.60"/><circle cx="95.5" cy="628.2" r="1.60"/><circle cx="114.0" cy="625.9" r="1.60"/><circle cx="113.7" cy="613.6" r="1.60"/><circle cx="96.6" cy="600.6" r="1.60"/><circle cx="85.9" cy="599.7" r="1.60"/><circle cx="114.3" cy="647.8" r="1.60"/><circle cx="109.2" cy="584.6" r="1.60"/><circle cx="112.8" cy="587.5" r="1.60"/><circle cx="84.1" cy="610.1" r="1.60"/><circle cx="91.2" cy="591.2" r="1.60"/><circle cx="104.9" cy="592.5" r="1.60"/><circle cx="83.4" cy="574.3" r="1.60"/><circle cx="90.2" cy="603.6" r="1.60"/><circle cx="106.5" cy="626.9" r="1.60"/><circle cx="94.6" cy="625.2" r="1.60"/><circle cx="98.3" cy="569.9" r="1.60"/><circle cx="114.3" cy="627.9" r="1.60"/><circle cx="94.3" cy="597.1" r="1.60"/><circle cx="112.8" cy="592.4" r="1.60"/><circle cx="116.8" cy="606.7" r="1.60"/><circle cx="99.0" cy="566.2" r="1.60"/><circle cx="97.7" cy="571.2" r="1.60"/><circle cx="94.2" cy="591.9" r="1.60"/><circle cx="99.1" cy="642.5" r="1.60"/><circle cx="114.1" cy="540.9" r="1.60"/><circle cx="103.3" cy="606.3" r="1.60"/><circle cx="83.7" cy="613.1" r="1.60"/><circle cx="83.9" cy="589.4" r="1.60"/><circle cx="88.0" cy="572.5" r="1.60"/><circle cx="98.9" cy="600.7" r="1.60"/><circle cx="111.7" cy="603.1" r="1.60"/><circle cx="90.1" cy="604.5" r="1.60"/><circle cx="83.4" cy="567.5" r="1.60"/><circle cx="89.4" cy="606.7" r="1.60"/><circle cx="107.8" cy="581.5" r="1.60"/><circle cx="109.9" cy="599.4" r="1.60"/><circle cx="115.3" cy="613.0" r="1.60"/><circle cx="108.7" cy="630.6" r="1.60"/><circle cx="105.3" cy="589.5" r="1.60"/><circle cx="103.2" cy="584.0" r="1.60"/><circle cx="116.6" cy="614.0" r="1.60"/><circle cx="90.3" cy="602.8" r="1.60"/><circle cx="105.8" cy="616.8" r="1.60"/><circle cx="115.0" cy="571.6" r="1.60"/><circle cx="102.1" cy="641.8" r="1.60"/><circle cx="115.4" cy="579.9" r="1.60"/><circle cx="85.9" cy="581.4" r="1.60"/><circle cx="110.3" cy="595.5" r="1.60"/><circle cx="111.8" cy="540.0" r="1.60"/><circle cx="89.2" cy="614.3" r="1.60"/><circle cx="88.0" cy="613.1" r="1.60"/><circle cx="108.8" cy="593.4" r="1.60"/><circle cx="116.7" cy="605.0" r="1.60"/><circle cx="86.1" cy="634.2" r="1.60"/><circle cx="93.3" cy="594.3" r="1.60"/><circle cx="101.6" cy="601.9" r="1.60"/><circle cx="94.1" cy="595.9" r="1.60"/><circle cx="115.1" cy="619.1" r="1.60"/><circle cx="117.5" cy="620.0" r="1.60"/><circle cx="90.2" cy="597.0" r="1.60"/><circle cx="104.5" cy="591.9" r="1.60"/><circle cx="101.4" cy="638.9" r="1.60"/><circle cx="103.0" cy="614.5" r="1.60"/><circle cx="85.3" cy="605.0" r="1.60"/><circle cx="117.1" cy="587.0" r="1.60"/><circle cx="99.8" cy="575.1" r="1.60"/><circle cx="112.0" cy="588.0" r="1.60"/><circle cx="94.3" cy="590.1" r="1.60"/><circle cx="115.9" cy="599.6" r="1.60"/><circle cx="83.8" cy="612.1" r="1.60"/><circle cx="107.5" cy="571.8" r="1.60"/><circle cx="105.1" cy="581.5" r="1.60"/><circle cx="87.4" cy="608.5" r="1.60"/><circle cx="90.0" cy="574.0" r="1.60"/><circle cx="96.4" cy="587.9" r="1.60"/><circle cx="88.7" cy="593.6" r="1.60"/><circle cx="105.7" cy="601.0" r="1.60"/><circle cx="104.8" cy="620.4" r="1.60"/><circle cx="109.4" cy="572.9" r="1.60"/><circle cx="94.2" cy="626.3" r="1.60"/><circle cx="90.8" cy="630.1" r="1.60"/><circle cx="87.8" cy="624.2" r="1.60"/><circle cx="92.2" cy="607.5" r="1.60"/><circle cx="98.0" cy="618.3" r="1.60"/><circle cx="97.3" cy="561.7" r="1.60"/><circle cx="90.2" cy="536.7" r="1.60"/><circle cx="117.5" cy="627.0" r="1.60"/><circle cx="110.0" cy="592.5" r="1.60"/><circle cx="89.7" cy="604.5" r="1.60"/><circle cx="84.3" cy="558.6" r="1.60"/><circle cx="103.2" cy="592.6" r="1.60"/><circle cx="90.3" cy="568.4" r="1.60"/><circle cx="116.0" cy="646.0" r="1.60"/><circle cx="116.9" cy="550.0" r="1.60"/><circle cx="94.6" cy="611.0" r="1.60"/><circle cx="98.3" cy="593.1" r="1.60"/><circle cx="108.0" cy="534.9" r="1.60"/><circle cx="99.2" cy="567.8" r="1.60"/><circle cx="89.9" cy="585.1" r="1.60"/><circle cx="83.5" cy="593.5" r="1.60"/><circle cx="108.1" cy="614.9" r="1.60"/><circle cx="97.4" cy="600.6" r="1.60"/><circle cx="118.0" cy="592.9" r="1.60"/><circle cx="115.4" cy="574.8" r="1.60"/><circle cx="112.0" cy="612.4" r="1.60"/><circle cx="114.3" cy="625.7" r="1.60"/><circle cx="110.2" cy="611.4" r="1.60"/><circle cx="85.5" cy="607.3" r="1.60"/><circle cx="83.4" cy="589.8" r="1.60"/><circle cx="105.2" cy="601.2" r="1.60"/><circle cx="106.7" cy="633.3" r="1.60"/><circle cx="103.3" cy="603.0" r="1.60"/><circle cx="118.6" cy="584.7" r="1.60"/><circle cx="110.1" cy="606.6" r="1.60"/><circle cx="104.9" cy="538.8" r="1.60"/><circle cx="97.3" cy="574.0" r="1.60"/><circle cx="96.4" cy="568.5" r="1.60"/><circle cx="115.2" cy="574.1" r="1.60"/><circle cx="117.4" cy="592.6" r="1.60"/><circle cx="105.7" cy="648.9" r="1.60"/><circle cx="104.3" cy="553.8" r="1.60"/><circle cx="116.1" cy="545.1" r="1.60"/><circle cx="89.0" cy="590.0" r="1.60"/><circle cx="85.1" cy="600.0" r="1.60"/><circle cx="101.8" cy="586.6" r="1.60"/><circle cx="93.2" cy="583.2" r="1.60"/><circle cx="93.1" cy="596.3" r="1.60"/><circle cx="83.5" cy="577.7" r="1.60"/><circle cx="88.6" cy="545.3" r="1.60"/><circle cx="115.0" cy="584.8" r="1.60"/><circle cx="118.2" cy="547.5" r="1.60"/><circle cx="115.2" cy="552.4" r="1.60"/><circle cx="117.6" cy="590.2" r="1.60"/><circle cx="116.4" cy="593.8" r="1.60"/><circle cx="117.8" cy="590.4" r="1.60"/><circle cx="87.1" cy="599.1" r="1.60"/><circle cx="90.3" cy="588.5" r="1.60"/><circle cx="87.4" cy="593.9" r="1.60"/><circle cx="99.2" cy="603.2" r="1.60"/><circle cx="97.9" cy="597.8" r="1.60"/><circle cx="118.5" cy="594.5" r="1.60"/><circle cx="91.5" cy="608.0" r="1.60"/><circle cx="110.9" cy="625.1" r="1.60"/><circle cx="92.7" cy="582.7" r="1.60"/><circle cx="104.1" cy="596.7" r="1.60"/><circle cx="89.8" cy="609.7" r="1.60"/><circle cx="115.6" cy="643.0" r="1.60"/><circle cx="85.2" cy="543.7" r="1.60"/><circle cx="105.2" cy="586.5" r="1.60"/><circle cx="85.6" cy="594.5" r="1.60"/><circle cx="102.6" cy="604.2" r="1.60"/><circle cx="100.0" cy="583.2" r="1.60"/><circle cx="109.5" cy="581.9" r="1.60"/><circle cx="87.3" cy="553.4" r="1.60"/><circle cx="110.4" cy="600.2" r="1.60"/><circle cx="92.2" cy="587.4" r="1.60"/><circle cx="106.3" cy="583.6" r="1.60"/><circle cx="102.5" cy="580.3" r="1.60"/><circle cx="98.2" cy="628.8" r="1.60"/><circle cx="114.2" cy="556.5" r="1.60"/><circle cx="103.1" cy="554.5" r="1.60"/><circle cx="93.6" cy="605.3" r="1.60"/><circle cx="90.6" cy="553.7" r="1.60"/><circle cx="93.8" cy="554.8" r="1.60"/><circle cx="93.1" cy="605.1" r="1.60"/><circle cx="108.8" cy="582.3" r="1.60"/><circle cx="108.3" cy="560.1" r="1.60"/><circle cx="116.5" cy="629.0" r="1.60"/><circle cx="111.6" cy="587.8" r="1.60"/><circle cx="97.2" cy="580.0" r="1.60"/><circle cx="91.8" cy="625.3" r="1.60"/><circle cx="95.9" cy="582.9" r="1.60"/><circle cx="89.9" cy="584.6" r="1.60"/><circle cx="102.2" cy="614.4" r="1.60"/><circle cx="89.3" cy="596.3" r="1.60"/><circle cx="93.0" cy="622.9" r="1.60"/><circle cx="102.4" cy="593.1" r="1.60"/><circle cx="106.2" cy="638.9" r="1.60"/><circle cx="102.5" cy="550.8" r="1.60"/><circle cx="85.9" cy="555.3" r="1.60"/><circle cx="86.0" cy="626.2" r="1.60"/><circle cx="109.6" cy="563.7" r="1.60"/><circle cx="90.8" cy="573.8" r="1.60"/><circle cx="110.2" cy="593.4" r="1.60"/><circle cx="117.5" cy="581.2" r="1.60"/><circle cx="102.1" cy="591.8" r="1.60"/><circle cx="115.6" cy="606.4" r="1.60"/><circle cx="106.7" cy="617.4" r="1.60"/><circle cx="112.7" cy="615.5" r="1.60"/><circle cx="105.8" cy="636.0" r="1.60"/><circle cx="111.6" cy="606.4" r="1.60"/><circle cx="88.2" cy="586.8" r="1.60"/><circle cx="96.4" cy="646.1" r="1.60"/><circle cx="98.1" cy="569.8" r="1.60"/><circle cx="85.1" cy="639.3" r="1.60"/><circle cx="106.1" cy="560.3" r="1.60"/><circle cx="85.2" cy="567.5" r="1.60"/><circle cx="115.4" cy="596.9" r="1.60"/><circle cx="89.6" cy="558.7" r="1.60"/><circle cx="108.5" cy="573.1" r="1.60"/><circle cx="89.6" cy="571.7" r="1.60"/><circle cx="110.0" cy="566.8" r="1.60"/><circle cx="112.1" cy="595.0" r="1.60"/><circle cx="114.6" cy="575.5" r="1.60"/><circle cx="102.5" cy="581.5" r="1.60"/><circle cx="90.9" cy="590.5" r="1.60"/><circle cx="111.5" cy="633.9" r="1.60"/><circle cx="101.4" cy="593.7" r="1.60"/><circle cx="106.4" cy="646.2" r="1.60"/><circle cx="99.8" cy="533.3" r="1.60"/><circle cx="108.4" cy="614.1" r="1.60"/><circle cx="88.6" cy="564.8" r="1.60"/><circle cx="113.9" cy="575.0" r="1.60"/><circle cx="118.4" cy="601.2" r="1.60"/><circle cx="88.4" cy="594.8" r="1.60"/><circle cx="112.2" cy="529.4" r="1.60"/><circle cx="85.9" cy="616.2" r="1.60"/><circle cx="86.5" cy="607.0" r="1.60"/><circle cx="117.0" cy="590.1" r="1.60"/><circle cx="93.8" cy="620.8" r="1.60"/><circle cx="115.6" cy="586.0" r="1.60"/><circle cx="90.4" cy="617.1" r="1.60"/><circle cx="88.6" cy="594.4" r="1.60"/><circle cx="94.1" cy="578.5" r="1.60"/><circle cx="99.6" cy="578.8" r="1.60"/><circle cx="107.5" cy="582.0" r="1.60"/><circle cx="99.4" cy="585.6" r="1.60"/><circle cx="106.3" cy="616.9" r="1.60"/><circle cx="108.3" cy="583.2" r="1.60"/><circle cx="99.3" cy="595.9" r="1.60"/><circle cx="111.5" cy="646.6" r="1.60"/><circle cx="93.3" cy="599.9" r="1.60"/><circle cx="93.6" cy="594.3" r="1.60"/><circle cx="106.7" cy="584.7" r="1.60"/><circle cx="109.0" cy="569.3" r="1.60"/><circle cx="103.0" cy="633.8" r="1.60"/><circle cx="112.4" cy="580.0" r="1.60"/><circle cx="86.4" cy="563.2" r="1.60"/><circle cx="89.4" cy="606.4" r="1.60"/><circle cx="104.1" cy="618.0" r="1.60"/><circle cx="88.6" cy="571.5" r="1.60"/><circle cx="85.6" cy="586.5" r="1.60"/><circle cx="101.2" cy="587.2" r="1.60"/><circle cx="112.2" cy="611.4" r="1.60"/><circle cx="97.7" cy="579.9" r="1.60"/><circle cx="107.9" cy="586.1" r="1.60"/><circle cx="106.5" cy="613.6" r="1.60"/><circle cx="94.8" cy="536.8" r="1.60"/><circle cx="86.8" cy="601.9" r="1.60"/><circle cx="111.1" cy="592.9" r="1.60"/><circle cx="88.6" cy="599.8" r="1.60"/><circle cx="102.5" cy="626.3" r="1.60"/><circle cx="88.0" cy="592.3" r="1.60"/><circle cx="101.4" cy="645.3" r="1.60"/><circle cx="90.0" cy="618.5" r="1.60"/><circle cx="90.0" cy="600.0" r="1.60"/><circle cx="103.5" cy="573.7" r="1.60"/><circle cx="116.1" cy="580.3" r="1.60"/><circle cx="87.4" cy="590.1" r="1.60"/><circle cx="115.2" cy="562.6" r="1.60"/><circle cx="102.9" cy="595.7" r="1.60"/><circle cx="118.3" cy="627.9" r="1.60"/><circle cx="87.4" cy="599.4" r="1.60"/><circle cx="114.9" cy="576.7" r="1.60"/><circle cx="112.6" cy="596.6" r="1.60"/><circle cx="85.7" cy="594.4" r="1.60"/><circle cx="118.1" cy="568.0" r="1.60"/><circle cx="94.0" cy="603.2" r="1.60"/><circle cx="96.6" cy="609.1" r="1.60"/><circle cx="83.6" cy="614.6" r="1.60"/><circle cx="88.1" cy="589.9" r="1.60"/><circle cx="89.2" cy="596.5" r="1.60"/><circle cx="103.2" cy="574.8" r="1.60"/><circle cx="84.3" cy="601.7" r="1.60"/><circle cx="117.2" cy="563.6" r="1.60"/><circle cx="97.6" cy="590.1" r="1.60"/><circle cx="110.0" cy="605.3" r="1.60"/><circle cx="118.4" cy="591.4" r="1.60"/><circle cx="97.6" cy="620.4" r="1.60"/><circle cx="115.2" cy="596.5" r="1.60"/><circle cx="98.4" cy="594.0" r="1.60"/><circle cx="84.9" cy="579.8" r="1.60"/><circle cx="109.1" cy="626.1" r="1.60"/><circle cx="93.8" cy="610.1" r="1.60"/><circle cx="87.4" cy="551.9" r="1.60"/><circle cx="97.1" cy="591.5" r="1.60"/><circle cx="101.7" cy="605.2" r="1.60"/><circle cx="97.1" cy="578.2" r="1.60"/><circle cx="115.4" cy="552.1" r="1.60"/><circle cx="113.8" cy="603.4" r="1.60"/><circle cx="90.9" cy="615.3" r="1.60"/><circle cx="115.2" cy="596.0" r="1.60"/><circle cx="87.4" cy="614.0" r="1.60"/><circle cx="83.0" cy="634.2" r="1.60"/><circle cx="94.6" cy="577.5" r="1.60"/><circle cx="112.0" cy="625.4" r="1.60"/><circle cx="103.8" cy="582.0" r="1.60"/><circle cx="115.0" cy="541.3" r="1.60"/><circle cx="116.2" cy="592.6" r="1.60"/><circle cx="90.4" cy="589.8" r="1.60"/><circle cx="114.9" cy="629.1" r="1.60"/><circle cx="95.6" cy="618.5" r="1.60"/><circle cx="114.3" cy="567.1" r="1.60"/><circle cx="105.5" cy="569.1" r="1.60"/><circle cx="84.8" cy="623.0" r="1.60"/><circle cx="94.1" cy="608.5" r="1.60"/><circle cx="108.4" cy="621.6" r="1.60"/><circle cx="116.4" cy="605.4" r="1.60"/><circle cx="90.9" cy="553.8" r="1.60"/><circle cx="90.0" cy="606.1" r="1.60"/><circle cx="106.7" cy="573.3" r="1.60"/><circle cx="106.6" cy="584.0" r="1.60"/><circle cx="91.2" cy="597.8" r="1.60"/><circle cx="106.7" cy="629.7" r="1.60"/><circle cx="86.2" cy="602.1" r="1.60"/><circle cx="101.8" cy="588.0" r="1.60"/><circle cx="104.3" cy="545.2" r="1.60"/><circle cx="111.6" cy="573.5" r="1.60"/><circle cx="109.9" cy="576.7" r="1.60"/><circle cx="102.5" cy="576.1" r="1.60"/><circle cx="118.2" cy="624.9" r="1.60"/><circle cx="109.7" cy="589.4" r="1.60"/><circle cx="100.8" cy="630.1" r="1.60"/><circle cx="106.0" cy="595.8" r="1.60"/><circle cx="110.9" cy="603.0" r="1.60"/><circle cx="113.1" cy="592.7" r="1.60"/><circle cx="116.9" cy="593.1" r="1.60"/><circle cx="88.9" cy="612.6" r="1.60"/><circle cx="98.7" cy="573.3" r="1.60"/><circle cx="111.2" cy="612.7" r="1.60"/><circle cx="90.9" cy="591.6" r="1.60"/><circle cx="84.3" cy="592.1" r="1.60"/><circle cx="103.4" cy="607.4" r="1.60"/><circle cx="88.4" cy="566.9" r="1.60"/><circle cx="98.5" cy="591.9" r="1.60"/><circle cx="111.4" cy="574.5" r="1.60"/><circle cx="103.3" cy="627.1" r="1.60"/><circle cx="91.5" cy="613.1" r="1.60"/><circle cx="84.5" cy="578.8" r="1.60"/><circle cx="101.7" cy="599.7" r="1.60"/><circle cx="86.1" cy="598.4" r="1.60"/><circle cx="92.1" cy="566.1" r="1.60"/><circle cx="112.6" cy="605.3" r="1.60"/><circle cx="97.6" cy="549.8" r="1.60"/><circle cx="117.6" cy="570.5" r="1.60"/><circle cx="110.1" cy="592.1" r="1.60"/><circle cx="99.2" cy="563.8" r="1.60"/><circle cx="91.6" cy="544.5" r="1.60"/><circle cx="97.0" cy="563.3" r="1.60"/><circle cx="85.7" cy="586.4" r="1.60"/><circle cx="110.2" cy="649.3" r="1.60"/><circle cx="92.0" cy="572.6" r="1.60"/><circle cx="99.4" cy="574.0" r="1.60"/><circle cx="95.0" cy="583.6" r="1.60"/><circle cx="84.4" cy="599.4" r="1.60"/><circle cx="85.1" cy="601.8" r="1.60"/><circle cx="113.8" cy="605.6" r="1.60"/><circle cx="99.5" cy="623.9" r="1.60"/><circle cx="96.6" cy="619.3" r="1.60"/><circle cx="95.4" cy="570.6" r="1.60"/><circle cx="88.8" cy="595.1" r="1.60"/><circle cx="99.7" cy="570.8" r="1.60"/><circle cx="118.4" cy="588.7" r="1.60"/><circle cx="90.3" cy="621.4" r="1.60"/><circle cx="107.6" cy="552.3" r="1.60"/><circle cx="83.7" cy="575.6" r="1.60"/><circle cx="97.0" cy="575.5" r="1.60"/><circle cx="92.6" cy="606.8" r="1.60"/><circle cx="116.3" cy="564.3" r="1.60"/><circle cx="108.8" cy="612.0" r="1.60"/><circle cx="94.5" cy="537.4" r="1.60"/><circle cx="114.4" cy="554.3" r="1.60"/><circle cx="101.5" cy="611.5" r="1.60"/><circle cx="91.5" cy="584.4" r="1.60"/><circle cx="104.2" cy="563.9" r="1.60"/><circle cx="98.1" cy="579.1" r="1.60"/><circle cx="108.2" cy="562.2" r="1.60"/><circle cx="106.7" cy="607.6" r="1.60"/><circle cx="93.0" cy="570.3" r="1.60"/><circle cx="96.8" cy="585.9" r="1.60"/><circle cx="93.4" cy="571.8" r="1.60"/><circle cx="84.4" cy="570.4" r="1.60"/><circle cx="103.1" cy="601.4" r="1.60"/><circle cx="93.6" cy="641.2" r="1.60"/><circle cx="90.7" cy="629.2" r="1.60"/><circle cx="117.0" cy="603.9" r="1.60"/><circle cx="105.5" cy="572.0" r="1.60"/><circle cx="97.0" cy="586.5" r="1.60"/><circle cx="94.7" cy="584.0" r="1.60"/><circle cx="88.6" cy="576.4" r="1.60"/><circle cx="88.9" cy="590.7" r="1.60"/><circle cx="86.3" cy="572.8" r="1.60"/><circle cx="88.4" cy="587.1" r="1.60"/><circle cx="102.7" cy="606.2" r="1.60"/><circle cx="96.9" cy="538.3" r="1.60"/><circle cx="97.4" cy="550.0" r="1.60"/><circle cx="103.9" cy="592.0" r="1.60"/><circle cx="92.0" cy="579.4" r="1.60"/><circle cx="114.7" cy="581.6" r="1.60"/><circle cx="106.8" cy="574.6" r="1.60"/><circle cx="104.9" cy="590.5" r="1.60"/><circle cx="103.5" cy="583.0" r="1.60"/><circle cx="105.3" cy="612.1" r="1.60"/><circle cx="97.8" cy="585.7" r="1.60"/><circle cx="114.3" cy="617.4" r="1.60"/><circle cx="84.4" cy="627.1" r="1.60"/><circle cx="94.0" cy="592.3" r="1.60"/><circle cx="88.3" cy="641.1" r="1.60"/><circle cx="107.2" cy="571.7" r="1.60"/><circle cx="102.4" cy="528.9" r="1.60"/><circle cx="100.6" cy="573.2" r="1.60"/><circle cx="105.2" cy="595.1" r="1.60"/><circle cx="117.5" cy="617.3" r="1.60"/><circle cx="114.6" cy="581.3" r="1.60"/><circle cx="107.8" cy="607.2" r="1.60"/><circle cx="112.3" cy="637.1" r="1.60"/><circle cx="100.5" cy="600.1" r="1.60"/><circle cx="93.2" cy="583.3" r="1.60"/><circle cx="91.4" cy="594.2" r="1.60"/><circle cx="89.3" cy="580.0" r="1.60"/><circle cx="85.3" cy="561.0" r="1.60"/><circle cx="108.1" cy="557.5" r="1.60"/><circle cx="110.5" cy="589.0" r="1.60"/><circle cx="113.8" cy="565.9" r="1.60"/><circle cx="92.0" cy="548.0" r="1.60"/><circle cx="97.0" cy="614.3" r="1.60"/><circle cx="108.5" cy="573.8" r="1.60"/><circle cx="110.0" cy="580.9" r="1.60"/><circle cx="103.2" cy="617.4" r="1.60"/><circle cx="105.2" cy="606.9" r="1.60"/><circle cx="87.5" cy="614.4" r="1.60"/><circle cx="91.2" cy="603.1" r="1.60"/><circle cx="103.8" cy="535.0" r="1.60"/><circle cx="87.8" cy="639.7" r="1.60"/><circle cx="105.5" cy="586.4" r="1.60"/><circle cx="118.2" cy="630.5" r="1.60"/><circle cx="87.2" cy="606.5" r="1.60"/><circle cx="109.0" cy="577.6" r="1.60"/><circle cx="94.8" cy="559.9" r="1.60"/><circle cx="100.2" cy="594.8" r="1.60"/><circle cx="111.5" cy="579.4" r="1.60"/><circle cx="96.9" cy="577.1" r="1.60"/><circle cx="117.9" cy="611.4" r="1.60"/><circle cx="102.4" cy="605.9" r="1.60"/><circle cx="89.2" cy="563.5" r="1.60"/><circle cx="91.9" cy="631.0" r="1.60"/><circle cx="94.5" cy="559.9" r="1.60"/><circle cx="88.1" cy="596.7" r="1.60"/><circle cx="91.1" cy="576.0" r="1.60"/><circle cx="92.2" cy="582.5" r="1.60"/><circle cx="114.8" cy="550.3" r="1.60"/><circle cx="89.5" cy="553.5" r="1.60"/><circle cx="90.2" cy="649.9" r="1.60"/><circle cx="97.8" cy="591.4" r="1.60"/><circle cx="85.1" cy="585.1" r="1.60"/><circle cx="105.2" cy="602.2" r="1.60"/><circle cx="113.8" cy="632.6" r="1.60"/><circle cx="112.7" cy="588.8" r="1.60"/><circle cx="84.0" cy="566.6" r="1.60"/><circle cx="85.7" cy="560.3" r="1.60"/><circle cx="94.0" cy="610.5" r="1.60"/><circle cx="90.5" cy="534.1" r="1.60"/><circle cx="101.8" cy="533.9" r="1.60"/><circle cx="97.0" cy="505.8" r="1.60"/><circle cx="98.5" cy="514.0" r="1.60"/><circle cx="88.0" cy="512.0" r="1.60"/><circle cx="114.0" cy="513.5" r="1.60"/><circle cx="117.0" cy="517.5" r="1.60"/><circle cx="90.0" cy="526.0" r="1.60"/><circle cx="112.0" cy="523.0" r="1.60"/><circle cx="116.0" cy="531.0" r="1.60"/><circle cx="95.0" cy="683.0" r="1.60"/><circle cx="101.5" cy="688.0" r="1.60"/><circle cx="88.0" cy="676.0" r="1.60"/><circle cx="109.0" cy="672.0" r="1.60"/></g>
<path d="M101.10 511.00 C101.18 513.33 101.28 521.00 101.60 525.00 C101.92 529.00 102.52 532.50 103.00 535.00 C103.48 537.50 103.93 538.17 104.50 540.00 C105.07 541.83 105.62 544.00 106.40 546.00 C107.18 548.00 108.17 550.33 109.20 552.00 C110.23 553.67 111.23 554.58 112.60 556.00 C113.97 557.42 115.82 559.00 117.40 560.50 C118.98 562.00 120.70 563.58 122.10 565.00 C123.50 566.42 124.48 567.58 125.80 569.00 C127.12 570.42 128.70 572.00 130.00 573.50 C131.30 575.00 132.53 576.58 133.60 578.00 C134.67 579.42 135.57 580.58 136.40 582.00 C137.23 583.42 138.07 585.17 138.60 586.50 C139.13 587.83 139.37 588.75 139.60 590.00 C139.83 591.25 140.07 592.67 140.00 594.00 C139.93 595.33 139.52 597.00 139.20 598.00 C138.88 599.00 138.75 599.00 138.10 600.00 C137.45 601.00 136.45 602.55 135.30 604.00 C134.15 605.45 132.55 607.20 131.20 608.70 C129.85 610.20 128.50 611.57 127.20 613.00 C125.90 614.43 124.55 615.88 123.40 617.30 C122.25 618.72 121.30 620.05 120.30 621.50 C119.30 622.95 118.52 624.58 117.40 626.00 C116.28 627.42 114.90 628.57 113.60 630.00 C112.30 631.43 110.77 633.10 109.60 634.60 C108.43 636.10 107.47 637.55 106.60 639.00 C105.73 640.45 105.12 641.73 104.40 643.30 C103.68 644.87 102.78 646.45 102.30 648.40 C101.82 650.35 101.67 651.73 101.50 655.00 C101.33 658.27 101.32 663.50 101.25 668.00 C101.18 672.50 101.12 679.67 101.10 682.00 L100.50 682.00 C100.47 679.67 100.42 672.50 100.35 668.00 C100.28 663.50 100.27 658.27 100.10 655.00 C99.92 651.73 99.78 650.35 99.30 648.40 C98.82 646.45 97.92 644.87 97.20 643.30 C96.48 641.73 95.87 640.45 95.00 639.00 C94.13 637.55 93.17 636.10 92.00 634.60 C90.83 633.10 89.30 631.43 88.00 630.00 C86.70 628.57 85.32 627.42 84.20 626.00 C83.08 624.58 82.30 622.95 81.30 621.50 C80.30 620.05 79.35 618.72 78.20 617.30 C77.05 615.88 75.70 614.43 74.40 613.00 C73.10 611.57 71.75 610.20 70.40 608.70 C69.05 607.20 67.45 605.45 66.30 604.00 C65.15 602.55 64.15 601.00 63.50 600.00 C62.85 599.00 62.72 599.00 62.40 598.00 C62.08 597.00 61.67 595.33 61.60 594.00 C61.53 592.67 61.77 591.25 62.00 590.00 C62.23 588.75 62.47 587.83 63.00 586.50 C63.53 585.17 64.37 583.42 65.20 582.00 C66.03 580.58 66.93 579.42 68.00 578.00 C69.07 576.58 70.30 575.00 71.60 573.50 C72.90 572.00 74.48 570.42 75.80 569.00 C77.12 567.58 78.10 566.42 79.50 565.00 C80.90 563.58 82.62 562.00 84.20 560.50 C85.78 559.00 87.63 557.42 89.00 556.00 C90.37 554.58 91.37 553.67 92.40 552.00 C93.43 550.33 94.42 548.00 95.20 546.00 C95.98 544.00 96.53 541.83 97.10 540.00 C97.67 538.17 98.12 537.50 98.60 535.00 C99.08 532.50 99.68 529.00 100.00 525.00 C100.32 521.00 100.42 513.33 100.50 511.00 Z" fill="none" fill-opacity="1.00" stroke="#1a1a1a" stroke-width="1.05" stroke-linejoin="round"/>
<line x1="100.8" y1="511.0" x2="100.8" y2="578.6" stroke="#222" stroke-width="0.9"/><line x1="100.8" y1="609.0" x2="100.8" y2="682.0" stroke="#222" stroke-width="0.9"/><rect x="91.7" y="578.6" width="18.2" height="30.4" fill="none" stroke="#222" stroke-width="0.9"/><line x1="91.7" y1="594.0" x2="109.9" y2="594.0" stroke="#222" stroke-width="1.3"/><path d="M97.6 594.0 l3.2 -3.3 l3.2 3.3 l-3.2 3.3 Z" fill="#111"/>
<path d="M188.50 537.50 C188.55 538.25 188.63 540.43 188.80 542.00 C188.97 543.57 188.87 545.15 189.50 546.90 C190.13 548.65 191.35 550.65 192.60 552.50 C193.85 554.35 195.73 556.33 197.00 558.00 C198.27 559.67 199.10 560.92 200.20 562.50 C201.30 564.08 202.57 565.92 203.60 567.50 C204.63 569.08 205.45 570.45 206.40 572.00 C207.35 573.55 208.23 575.22 209.30 576.80 C210.37 578.38 211.58 579.93 212.80 581.50 C214.02 583.07 215.33 584.62 216.60 586.20 C217.87 587.78 219.23 589.45 220.40 591.00 C221.57 592.55 222.70 594.00 223.60 595.50 C224.50 597.00 225.27 598.42 225.80 600.00 C226.33 601.58 226.62 603.55 226.80 605.00 C226.98 606.45 226.98 607.62 226.90 608.70 C226.82 609.78 226.62 610.57 226.30 611.50 C225.98 612.43 225.75 613.05 225.00 614.30 C224.25 615.55 223.03 617.45 221.80 619.00 C220.57 620.55 219.13 622.05 217.60 623.60 C216.07 625.15 214.32 626.73 212.60 628.30 C210.88 629.87 209.00 631.43 207.30 633.00 C205.60 634.57 203.97 636.13 202.40 637.70 C200.83 639.27 199.30 640.85 197.90 642.40 C196.50 643.95 195.15 645.45 194.00 647.00 C192.85 648.55 191.68 650.37 191.00 651.70 C190.32 653.03 190.13 653.97 189.90 655.00 C189.67 656.03 189.65 657.42 189.60 657.90 L185.60 657.90 C185.55 657.42 185.53 656.03 185.30 655.00 C185.07 653.97 184.88 653.03 184.20 651.70 C183.52 650.37 182.35 648.55 181.20 647.00 C180.05 645.45 178.70 643.95 177.30 642.40 C175.90 640.85 174.37 639.27 172.80 637.70 C171.23 636.13 169.60 634.57 167.90 633.00 C166.20 631.43 164.32 629.87 162.60 628.30 C160.88 626.73 159.13 625.15 157.60 623.60 C156.07 622.05 154.63 620.55 153.40 619.00 C152.17 617.45 150.95 615.55 150.20 614.30 C149.45 613.05 149.22 612.43 148.90 611.50 C148.58 610.57 148.38 609.78 148.30 608.70 C148.22 607.62 148.22 606.45 148.40 605.00 C148.58 603.55 148.87 601.58 149.40 600.00 C149.93 598.42 150.70 597.00 151.60 595.50 C152.50 594.00 153.63 592.55 154.80 591.00 C155.97 589.45 157.33 587.78 158.60 586.20 C159.87 584.62 161.18 583.07 162.40 581.50 C163.62 579.93 164.83 578.38 165.90 576.80 C166.97 575.22 167.85 573.55 168.80 572.00 C169.75 570.45 170.57 569.08 171.60 567.50 C172.63 565.92 173.90 564.08 175.00 562.50 C176.10 560.92 176.93 559.67 178.20 558.00 C179.47 556.33 181.35 554.35 182.60 552.50 C183.85 550.65 185.07 548.65 185.70 546.90 C186.33 545.15 186.23 543.57 186.40 542.00 C186.57 540.43 186.65 538.25 186.70 537.50 Z" fill="#c3dcf4" fill-opacity="1.00" stroke="#1a1a1a" stroke-width="1.05" stroke-linejoin="round"/>
<clipPath id="vb2"><path d="M188.50 537.50 C188.55 538.25 188.63 540.43 188.80 542.00 C188.97 543.57 188.87 545.15 189.50 546.90 C190.13 548.65 191.35 550.65 192.60 552.50 C193.85 554.35 195.73 556.33 197.00 558.00 C198.27 559.67 199.10 560.92 200.20 562.50 C201.30 564.08 202.57 565.92 203.60 567.50 C204.63 569.08 205.45 570.45 206.40 572.00 C207.35 573.55 208.23 575.22 209.30 576.80 C210.37 578.38 211.58 579.93 212.80 581.50 C214.02 583.07 215.33 584.62 216.60 586.20 C217.87 587.78 219.23 589.45 220.40 591.00 C221.57 592.55 222.70 594.00 223.60 595.50 C224.50 597.00 225.27 598.42 225.80 600.00 C226.33 601.58 226.62 603.55 226.80 605.00 C226.98 606.45 226.98 607.62 226.90 608.70 C226.82 609.78 226.62 610.57 226.30 611.50 C225.98 612.43 225.75 613.05 225.00 614.30 C224.25 615.55 223.03 617.45 221.80 619.00 C220.57 620.55 219.13 622.05 217.60 623.60 C216.07 625.15 214.32 626.73 212.60 628.30 C210.88 629.87 209.00 631.43 207.30 633.00 C205.60 634.57 203.97 636.13 202.40 637.70 C200.83 639.27 199.30 640.85 197.90 642.40 C196.50 643.95 195.15 645.45 194.00 647.00 C192.85 648.55 191.68 650.37 191.00 651.70 C190.32 653.03 190.13 653.97 189.90 655.00 C189.67 656.03 189.65 657.42 189.60 657.90 L185.60 657.90 C185.55 657.42 185.53 656.03 185.30 655.00 C185.07 653.97 184.88 653.03 184.20 651.70 C183.52 650.37 182.35 648.55 181.20 647.00 C180.05 645.45 178.70 643.95 177.30 642.40 C175.90 640.85 174.37 639.27 172.80 637.70 C171.23 636.13 169.60 634.57 167.90 633.00 C166.20 631.43 164.32 629.87 162.60 628.30 C160.88 626.73 159.13 625.15 157.60 623.60 C156.07 622.05 154.63 620.55 153.40 619.00 C152.17 617.45 150.95 615.55 150.20 614.30 C149.45 613.05 149.22 612.43 148.90 611.50 C148.58 610.57 148.38 609.78 148.30 608.70 C148.22 607.62 148.22 606.45 148.40 605.00 C148.58 603.55 148.87 601.58 149.40 600.00 C149.93 598.42 150.70 597.00 151.60 595.50 C152.50 594.00 153.63 592.55 154.80 591.00 C155.97 589.45 157.33 587.78 158.60 586.20 C159.87 584.62 161.18 583.07 162.40 581.50 C163.62 579.93 164.83 578.38 165.90 576.80 C166.97 575.22 167.85 573.55 168.80 572.00 C169.75 570.45 170.57 569.08 171.60 567.50 C172.63 565.92 173.90 564.08 175.00 562.50 C176.10 560.92 176.93 559.67 178.20 558.00 C179.47 556.33 181.35 554.35 182.60 552.50 C183.85 550.65 185.07 548.65 185.70 546.90 C186.33 545.15 186.23 543.57 186.40 542.00 C186.57 540.43 186.65 538.25 186.70 537.50 Z"/></clipPath><rect x="170.2" y="553.0" width="34.8" height="105.0" fill="#b6d5f1" opacity="1.00" clip-path="url(#vb2)"/>
<g fill="#b4d3f0" opacity="0.85"><circle cx="193.1" cy="601.7" r="1.60"/><circle cx="170.6" cy="575.3" r="1.60"/><circle cx="198.4" cy="588.2" r="1.60"/><circle cx="189.6" cy="609.7" r="1.60"/><circle cx="185.5" cy="575.1" r="1.60"/><circle cx="172.2" cy="633.4" r="1.60"/><circle cx="194.1" cy="566.3" r="1.60"/><circle cx="199.5" cy="596.4" r="1.60"/><circle cx="202.0" cy="564.0" r="1.60"/><circle cx="204.6" cy="569.5" r="1.60"/><circle cx="184.9" cy="571.1" r="1.60"/><circle cx="191.8" cy="590.1" r="1.60"/><circle cx="172.0" cy="615.1" r="1.60"/><circle cx="184.1" cy="623.9" r="1.60"/><circle cx="186.8" cy="608.9" r="1.60"/><circle cx="195.5" cy="558.6" r="1.60"/><circle cx="193.3" cy="645.3" r="1.60"/><circle cx="194.2" cy="594.7" r="1.60"/><circle cx="178.4" cy="571.8" r="1.60"/><circle cx="198.4" cy="604.0" r="1.60"/><circle cx="198.8" cy="557.4" r="1.60"/><circle cx="177.9" cy="604.4" r="1.60"/><circle cx="197.1" cy="595.5" r="1.60"/><circle cx="176.4" cy="606.7" r="1.60"/><circle cx="179.8" cy="559.3" r="1.60"/><circle cx="172.0" cy="611.5" r="1.60"/><circle cx="180.0" cy="582.0" r="1.60"/><circle cx="186.9" cy="641.5" r="1.60"/><circle cx="202.4" cy="577.8" r="1.60"/><circle cx="196.2" cy="581.0" r="1.60"/><circle cx="179.5" cy="549.3" r="1.60"/><circle cx="178.6" cy="592.4" r="1.60"/><circle cx="191.7" cy="560.6" r="1.60"/><circle cx="187.7" cy="655.9" r="1.60"/><circle cx="197.6" cy="591.9" r="1.60"/><circle cx="178.2" cy="612.0" r="1.60"/><circle cx="192.0" cy="601.7" r="1.60"/><circle cx="201.3" cy="638.6" r="1.60"/><circle cx="200.6" cy="588.7" r="1.60"/><circle cx="188.1" cy="638.7" r="1.60"/><circle cx="177.6" cy="615.7" r="1.60"/><circle cx="194.0" cy="586.2" r="1.60"/><circle cx="201.0" cy="573.9" r="1.60"/><circle cx="185.3" cy="585.6" r="1.60"/><circle cx="191.9" cy="607.5" r="1.60"/><circle cx="196.7" cy="641.4" r="1.60"/><circle cx="201.6" cy="608.8" r="1.60"/><circle cx="182.3" cy="607.8" r="1.60"/><circle cx="189.8" cy="617.4" r="1.60"/><circle cx="201.7" cy="616.9" r="1.60"/><circle cx="201.9" cy="632.0" r="1.60"/><circle cx="183.4" cy="621.5" r="1.60"/><circle cx="181.1" cy="594.0" r="1.60"/><circle cx="189.0" cy="615.1" r="1.60"/><circle cx="188.8" cy="573.2" r="1.60"/><circle cx="178.8" cy="596.4" r="1.60"/><circle cx="194.0" cy="591.1" r="1.60"/><circle cx="181.1" cy="568.7" r="1.60"/><circle cx="193.1" cy="620.5" r="1.60"/><circle cx="171.2" cy="594.5" r="1.60"/><circle cx="176.4" cy="599.7" r="1.60"/><circle cx="178.5" cy="592.8" r="1.60"/><circle cx="170.5" cy="638.3" r="1.60"/><circle cx="177.2" cy="587.9" r="1.60"/><circle cx="202.2" cy="583.0" r="1.60"/><circle cx="175.8" cy="615.5" r="1.60"/><circle cx="199.5" cy="609.7" r="1.60"/><circle cx="199.9" cy="600.9" r="1.60"/><circle cx="188.9" cy="584.3" r="1.60"/><circle cx="193.6" cy="596.7" r="1.60"/><circle cx="189.5" cy="644.2" r="1.60"/><circle cx="195.7" cy="593.3" r="1.60"/><circle cx="182.8" cy="602.8" r="1.60"/><circle cx="178.1" cy="574.6" r="1.60"/><circle cx="171.8" cy="586.4" r="1.60"/><circle cx="202.8" cy="588.6" r="1.60"/><circle cx="200.6" cy="596.5" r="1.60"/><circle cx="174.6" cy="591.7" r="1.60"/><circle cx="191.4" cy="626.8" r="1.60"/><circle cx="191.7" cy="597.2" r="1.60"/><circle cx="183.4" cy="597.4" r="1.60"/><circle cx="198.3" cy="596.6" r="1.60"/><circle cx="179.1" cy="582.6" r="1.60"/><circle cx="172.0" cy="604.9" r="1.60"/><circle cx="198.8" cy="629.3" r="1.60"/><circle cx="180.8" cy="617.6" r="1.60"/><circle cx="199.2" cy="628.2" r="1.60"/><circle cx="171.1" cy="629.8" r="1.60"/><circle cx="176.2" cy="552.1" r="1.60"/><circle cx="180.5" cy="616.6" r="1.60"/><circle cx="181.1" cy="580.4" r="1.60"/><circle cx="173.8" cy="610.2" r="1.60"/><circle cx="185.8" cy="605.5" r="1.60"/><circle cx="198.1" cy="612.5" r="1.60"/><circle cx="186.5" cy="611.7" r="1.60"/><circle cx="184.6" cy="596.0" r="1.60"/><circle cx="179.9" cy="617.5" r="1.60"/><circle cx="200.0" cy="602.7" r="1.60"/><circle cx="193.9" cy="640.4" r="1.60"/><circle cx="191.3" cy="597.3" r="1.60"/><circle cx="174.7" cy="625.5" r="1.60"/><circle cx="173.1" cy="570.5" r="1.60"/><circle cx="178.9" cy="549.5" r="1.60"/><circle cx="191.6" cy="615.6" r="1.60"/><circle cx="196.2" cy="642.0" r="1.60"/><circle cx="178.1" cy="558.0" r="1.60"/><circle cx="177.4" cy="601.8" r="1.60"/><circle cx="189.1" cy="598.3" r="1.60"/><circle cx="173.2" cy="585.1" r="1.60"/><circle cx="204.5" cy="640.3" r="1.60"/><circle cx="182.8" cy="636.3" r="1.60"/><circle cx="191.1" cy="635.7" r="1.60"/><circle cx="178.2" cy="552.0" r="1.60"/><circle cx="198.9" cy="618.3" r="1.60"/><circle cx="183.5" cy="592.9" r="1.60"/><circle cx="187.1" cy="649.6" r="1.60"/><circle cx="188.9" cy="610.8" r="1.60"/><circle cx="183.6" cy="584.1" r="1.60"/><circle cx="189.0" cy="574.0" r="1.60"/><circle cx="179.0" cy="618.9" r="1.60"/><circle cx="195.8" cy="570.7" r="1.60"/><circle cx="189.3" cy="578.6" r="1.60"/><circle cx="183.4" cy="607.8" r="1.60"/><circle cx="204.9" cy="593.8" r="1.60"/><circle cx="186.2" cy="603.1" r="1.60"/><circle cx="177.3" cy="596.8" r="1.60"/><circle cx="182.4" cy="595.0" r="1.60"/><circle cx="181.8" cy="589.7" r="1.60"/><circle cx="188.1" cy="596.7" r="1.60"/><circle cx="193.6" cy="565.5" r="1.60"/><circle cx="198.4" cy="586.6" r="1.60"/><circle cx="176.2" cy="613.9" r="1.60"/><circle cx="199.5" cy="588.2" r="1.60"/><circle cx="192.4" cy="581.2" r="1.60"/><circle cx="186.9" cy="609.6" r="1.60"/><circle cx="202.8" cy="600.4" r="1.60"/><circle cx="182.7" cy="601.3" r="1.60"/><circle cx="178.5" cy="619.5" r="1.60"/><circle cx="187.7" cy="617.7" r="1.60"/><circle cx="195.1" cy="610.3" r="1.60"/><circle cx="171.1" cy="591.0" r="1.60"/><circle cx="183.8" cy="622.6" r="1.60"/><circle cx="175.5" cy="632.9" r="1.60"/><circle cx="181.1" cy="597.7" r="1.60"/><circle cx="172.0" cy="597.0" r="1.60"/><circle cx="180.9" cy="571.6" r="1.60"/><circle cx="199.2" cy="572.9" r="1.60"/><circle cx="191.1" cy="603.0" r="1.60"/><circle cx="178.1" cy="575.9" r="1.60"/><circle cx="202.6" cy="633.5" r="1.60"/><circle cx="176.8" cy="595.0" r="1.60"/><circle cx="189.4" cy="620.8" r="1.60"/><circle cx="188.8" cy="587.0" r="1.60"/><circle cx="191.7" cy="570.6" r="1.60"/><circle cx="199.4" cy="626.2" r="1.60"/><circle cx="170.9" cy="599.0" r="1.60"/><circle cx="184.1" cy="593.5" r="1.60"/><circle cx="188.4" cy="635.1" r="1.60"/><circle cx="201.4" cy="626.6" r="1.60"/><circle cx="199.7" cy="605.8" r="1.60"/><circle cx="171.0" cy="632.9" r="1.60"/><circle cx="191.9" cy="605.6" r="1.60"/><circle cx="184.4" cy="583.4" r="1.60"/><circle cx="188.4" cy="619.3" r="1.60"/><circle cx="200.4" cy="614.7" r="1.60"/><circle cx="180.2" cy="594.0" r="1.60"/><circle cx="171.7" cy="573.6" r="1.60"/><circle cx="191.2" cy="574.6" r="1.60"/><circle cx="188.7" cy="642.1" r="1.60"/><circle cx="200.1" cy="625.6" r="1.60"/><circle cx="184.2" cy="583.7" r="1.60"/><circle cx="190.0" cy="588.7" r="1.60"/><circle cx="198.9" cy="619.8" r="1.60"/><circle cx="196.5" cy="588.4" r="1.60"/><circle cx="170.9" cy="578.6" r="1.60"/><circle cx="173.5" cy="594.0" r="1.60"/><circle cx="181.5" cy="598.1" r="1.60"/><circle cx="188.6" cy="606.1" r="1.60"/><circle cx="180.6" cy="633.4" r="1.60"/><circle cx="202.8" cy="590.5" r="1.60"/><circle cx="202.6" cy="591.2" r="1.60"/><circle cx="177.3" cy="615.5" r="1.60"/><circle cx="172.5" cy="640.6" r="1.60"/><circle cx="198.7" cy="599.2" r="1.60"/><circle cx="197.3" cy="656.4" r="1.60"/><circle cx="181.2" cy="633.0" r="1.60"/><circle cx="200.9" cy="641.2" r="1.60"/><circle cx="177.3" cy="601.7" r="1.60"/><circle cx="173.5" cy="565.0" r="1.60"/><circle cx="202.6" cy="632.0" r="1.60"/><circle cx="186.5" cy="614.3" r="1.60"/><circle cx="204.5" cy="616.4" r="1.60"/><circle cx="190.7" cy="614.1" r="1.60"/><circle cx="185.8" cy="601.1" r="1.60"/><circle cx="184.5" cy="581.1" r="1.60"/><circle cx="181.6" cy="611.6" r="1.60"/><circle cx="188.2" cy="614.4" r="1.60"/><circle cx="177.2" cy="597.1" r="1.60"/><circle cx="192.8" cy="634.2" r="1.60"/><circle cx="189.0" cy="575.1" r="1.60"/><circle cx="190.6" cy="591.1" r="1.60"/><circle cx="195.6" cy="584.5" r="1.60"/><circle cx="175.7" cy="630.5" r="1.60"/><circle cx="191.4" cy="637.7" r="1.60"/><circle cx="175.4" cy="607.1" r="1.60"/><circle cx="201.8" cy="602.6" r="1.60"/><circle cx="189.3" cy="587.7" r="1.60"/><circle cx="179.3" cy="627.5" r="1.60"/><circle cx="179.7" cy="578.0" r="1.60"/><circle cx="193.5" cy="629.9" r="1.60"/><circle cx="199.1" cy="560.1" r="1.60"/><circle cx="185.3" cy="581.9" r="1.60"/><circle cx="172.4" cy="580.0" r="1.60"/><circle cx="195.8" cy="549.6" r="1.60"/><circle cx="177.4" cy="589.4" r="1.60"/><circle cx="199.4" cy="635.0" r="1.60"/><circle cx="176.3" cy="568.3" r="1.60"/><circle cx="202.1" cy="621.9" r="1.60"/><circle cx="203.6" cy="592.1" r="1.60"/><circle cx="179.5" cy="567.5" r="1.60"/><circle cx="195.3" cy="586.5" r="1.60"/><circle cx="176.1" cy="613.1" r="1.60"/><circle cx="200.8" cy="618.4" r="1.60"/><circle cx="184.3" cy="648.5" r="1.60"/><circle cx="205.0" cy="633.5" r="1.60"/><circle cx="194.4" cy="588.0" r="1.60"/><circle cx="196.9" cy="586.5" r="1.60"/><circle cx="173.2" cy="546.4" r="1.60"/><circle cx="202.7" cy="584.2" r="1.60"/><circle cx="202.1" cy="628.4" r="1.60"/><circle cx="193.0" cy="615.7" r="1.60"/><circle cx="201.1" cy="568.6" r="1.60"/><circle cx="194.1" cy="600.3" r="1.60"/><circle cx="181.1" cy="624.8" r="1.60"/><circle cx="171.8" cy="617.9" r="1.60"/><circle cx="183.9" cy="590.8" r="1.60"/><circle cx="176.3" cy="616.1" r="1.60"/><circle cx="174.8" cy="565.1" r="1.60"/><circle cx="170.4" cy="650.0" r="1.60"/><circle cx="181.0" cy="593.8" r="1.60"/><circle cx="184.9" cy="570.7" r="1.60"/><circle cx="174.9" cy="564.5" r="1.60"/><circle cx="204.4" cy="617.4" r="1.60"/><circle cx="178.1" cy="618.0" r="1.60"/><circle cx="194.0" cy="648.3" r="1.60"/><circle cx="197.8" cy="575.5" r="1.60"/><circle cx="177.5" cy="569.1" r="1.60"/><circle cx="173.4" cy="610.5" r="1.60"/><circle cx="182.5" cy="619.0" r="1.60"/><circle cx="176.4" cy="574.5" r="1.60"/><circle cx="176.7" cy="598.1" r="1.60"/><circle cx="174.1" cy="599.0" r="1.60"/><circle cx="172.0" cy="601.8" r="1.60"/><circle cx="194.7" cy="621.0" r="1.60"/><circle cx="184.9" cy="577.9" r="1.60"/><circle cx="200.1" cy="565.4" r="1.60"/><circle cx="193.7" cy="648.1" r="1.60"/><circle cx="201.3" cy="564.6" r="1.60"/><circle cx="190.4" cy="621.7" r="1.60"/><circle cx="199.9" cy="602.1" r="1.60"/><circle cx="184.3" cy="606.2" r="1.60"/><circle cx="202.9" cy="608.8" r="1.60"/><circle cx="195.3" cy="591.7" r="1.60"/><circle cx="188.5" cy="602.3" r="1.60"/><circle cx="175.3" cy="565.6" r="1.60"/><circle cx="176.1" cy="610.6" r="1.60"/><circle cx="185.1" cy="630.2" r="1.60"/><circle cx="184.5" cy="608.9" r="1.60"/><circle cx="194.0" cy="578.8" r="1.60"/><circle cx="187.5" cy="648.7" r="1.60"/><circle cx="204.4" cy="634.9" r="1.60"/><circle cx="173.8" cy="636.5" r="1.60"/><circle cx="179.1" cy="622.3" r="1.60"/><circle cx="185.9" cy="607.2" r="1.60"/><circle cx="193.1" cy="600.7" r="1.60"/><circle cx="192.4" cy="548.7" r="1.60"/><circle cx="188.9" cy="628.5" r="1.60"/><circle cx="177.0" cy="576.0" r="1.60"/><circle cx="201.5" cy="564.0" r="1.60"/><circle cx="191.9" cy="595.4" r="1.60"/><circle cx="198.0" cy="599.9" r="1.60"/><circle cx="172.3" cy="579.5" r="1.60"/><circle cx="193.5" cy="570.7" r="1.60"/><circle cx="189.6" cy="588.7" r="1.60"/><circle cx="178.7" cy="582.5" r="1.60"/><circle cx="187.2" cy="581.9" r="1.60"/><circle cx="200.0" cy="621.3" r="1.60"/><circle cx="189.0" cy="610.5" r="1.60"/><circle cx="185.3" cy="608.3" r="1.60"/><circle cx="174.4" cy="594.9" r="1.60"/><circle cx="187.5" cy="625.7" r="1.60"/><circle cx="177.9" cy="563.2" r="1.60"/><circle cx="174.3" cy="602.5" r="1.60"/><circle cx="170.2" cy="591.7" r="1.60"/><circle cx="191.6" cy="603.9" r="1.60"/><circle cx="204.0" cy="568.4" r="1.60"/><circle cx="192.7" cy="603.8" r="1.60"/><circle cx="170.6" cy="576.6" r="1.60"/><circle cx="185.7" cy="631.1" r="1.60"/><circle cx="194.2" cy="601.5" r="1.60"/><circle cx="197.0" cy="538.5" r="1.60"/><circle cx="205.0" cy="551.0" r="1.60"/><circle cx="170.0" cy="548.0" r="1.60"/><circle cx="212.0" cy="560.0" r="1.60"/><circle cx="163.0" cy="570.0" r="1.60"/><circle cx="166.0" cy="648.0" r="1.60"/><circle cx="205.0" cy="651.0" r="1.60"/><circle cx="172.0" cy="655.5" r="1.60"/><circle cx="201.0" cy="640.0" r="1.60"/></g>
<path d="M188.50 537.50 C188.55 538.25 188.63 540.43 188.80 542.00 C188.97 543.57 188.87 545.15 189.50 546.90 C190.13 548.65 191.35 550.65 192.60 552.50 C193.85 554.35 195.73 556.33 197.00 558.00 C198.27 559.67 199.10 560.92 200.20 562.50 C201.30 564.08 202.57 565.92 203.60 567.50 C204.63 569.08 205.45 570.45 206.40 572.00 C207.35 573.55 208.23 575.22 209.30 576.80 C210.37 578.38 211.58 579.93 212.80 581.50 C214.02 583.07 215.33 584.62 216.60 586.20 C217.87 587.78 219.23 589.45 220.40 591.00 C221.57 592.55 222.70 594.00 223.60 595.50 C224.50 597.00 225.27 598.42 225.80 600.00 C226.33 601.58 226.62 603.55 226.80 605.00 C226.98 606.45 226.98 607.62 226.90 608.70 C226.82 609.78 226.62 610.57 226.30 611.50 C225.98 612.43 225.75 613.05 225.00 614.30 C224.25 615.55 223.03 617.45 221.80 619.00 C220.57 620.55 219.13 622.05 217.60 623.60 C216.07 625.15 214.32 626.73 212.60 628.30 C210.88 629.87 209.00 631.43 207.30 633.00 C205.60 634.57 203.97 636.13 202.40 637.70 C200.83 639.27 199.30 640.85 197.90 642.40 C196.50 643.95 195.15 645.45 194.00 647.00 C192.85 648.55 191.68 650.37 191.00 651.70 C190.32 653.03 190.13 653.97 189.90 655.00 C189.67 656.03 189.65 657.42 189.60 657.90 L185.60 657.90 C185.55 657.42 185.53 656.03 185.30 655.00 C185.07 653.97 184.88 653.03 184.20 651.70 C183.52 650.37 182.35 648.55 181.20 647.00 C180.05 645.45 178.70 643.95 177.30 642.40 C175.90 640.85 174.37 639.27 172.80 637.70 C171.23 636.13 169.60 634.57 167.90 633.00 C166.20 631.43 164.32 629.87 162.60 628.30 C160.88 626.73 159.13 625.15 157.60 623.60 C156.07 622.05 154.63 620.55 153.40 619.00 C152.17 617.45 150.95 615.55 150.20 614.30 C149.45 613.05 149.22 612.43 148.90 611.50 C148.58 610.57 148.38 609.78 148.30 608.70 C148.22 607.62 148.22 606.45 148.40 605.00 C148.58 603.55 148.87 601.58 149.40 600.00 C149.93 598.42 150.70 597.00 151.60 595.50 C152.50 594.00 153.63 592.55 154.80 591.00 C155.97 589.45 157.33 587.78 158.60 586.20 C159.87 584.62 161.18 583.07 162.40 581.50 C163.62 579.93 164.83 578.38 165.90 576.80 C166.97 575.22 167.85 573.55 168.80 572.00 C169.75 570.45 170.57 569.08 171.60 567.50 C172.63 565.92 173.90 564.08 175.00 562.50 C176.10 560.92 176.93 559.67 178.20 558.00 C179.47 556.33 181.35 554.35 182.60 552.50 C183.85 550.65 185.07 548.65 185.70 546.90 C186.33 545.15 186.23 543.57 186.40 542.00 C186.57 540.43 186.65 538.25 186.70 537.50 Z" fill="none" fill-opacity="1.00" stroke="#1a1a1a" stroke-width="1.05" stroke-linejoin="round"/>
<line x1="187.6" y1="537.5" x2="187.6" y2="589.0" stroke="#222" stroke-width="0.9"/><line x1="187.6" y1="618.0" x2="187.6" y2="657.9" stroke="#222" stroke-width="0.9"/><rect x="178.8" y="589.0" width="17.6" height="29.0" fill="#a9cdee" stroke="#222" stroke-width="0.9"/><line x1="178.8" y1="604.0" x2="196.4" y2="604.0" stroke="#222" stroke-width="1.3"/><path d="M184.4 604.0 l3.2 -3.3 l3.2 3.3 l-3.2 3.3 Z" fill="#111"/>
<rect x="49.0" y="502.6" width="190.7" height="187.7" fill="none" stroke="#2a2a2a" stroke-width="1.25"/>
<line x1="45.8" y1="674.3" x2="49.0" y2="674.3" stroke="#333" stroke-width="0.9"/>
<text x="42.80" y="676.72" font-size="7.00" text-anchor="end" fill="#444" font-weight="normal" >0.0</text>
<line x1="45.8" y1="634.3" x2="49.0" y2="634.3" stroke="#333" stroke-width="0.9"/>
<text x="42.80" y="636.72" font-size="7.00" text-anchor="end" fill="#444" font-weight="normal" >0.5</text>
<line x1="45.8" y1="594.3" x2="49.0" y2="594.3" stroke="#333" stroke-width="0.9"/>
<text x="42.80" y="596.72" font-size="7.00" text-anchor="end" fill="#444" font-weight="normal" >1.0</text>
<line x1="45.8" y1="554.3" x2="49.0" y2="554.3" stroke="#333" stroke-width="0.9"/>
<text x="42.80" y="556.72" font-size="7.00" text-anchor="end" fill="#444" font-weight="normal" >1.5</text>
<line x1="45.8" y1="514.3" x2="49.0" y2="514.3" stroke="#333" stroke-width="0.9"/>
<text x="42.80" y="516.72" font-size="7.00" text-anchor="end" fill="#444" font-weight="normal" >2.0</text>
<line x1="100.8" y1="690.3" x2="100.8" y2="693.1" stroke="#333" stroke-width="0.9"/>
<line x1="187.6" y1="690.3" x2="187.6" y2="693.1" stroke="#333" stroke-width="0.9"/>
<text x="144.40" y="511.94" font-size="6.50" text-anchor="middle" fill="#333" font-weight="normal" textLength="7.60" lengthAdjust="spacingAndGlyphs" >***</text>
<text x="101.00" y="703.90" font-size="6.40" text-anchor="middle" fill="#3c3c3c" font-weight="normal" textLength="40.00" lengthAdjust="spacingAndGlyphs" >Homozygous</text>
<text x="101.00" y="712.60" font-size="6.40" text-anchor="middle" fill="#3c3c3c" font-weight="normal" textLength="30.00" lengthAdjust="spacingAndGlyphs" >dominant</text>
<text x="187.50" y="703.90" font-size="6.40" text-anchor="middle" fill="#3c3c3c" font-weight="normal" textLength="40.00" lengthAdjust="spacingAndGlyphs" >Homozygous</text>
<text x="187.50" y="712.60" font-size="6.40" text-anchor="middle" fill="#3c3c3c" font-weight="normal" textLength="28.50" lengthAdjust="spacingAndGlyphs" >recessive</text>
<text transform="translate(23.40 597.10) rotate(-90)" x="0" y="2.99" font-size="8.30" text-anchor="middle" fill="#444" font-weight="normal" textLength="59.20" lengthAdjust="spacingAndGlyphs">Adjusted_delta24</text>
<text x="261.20" y="472.96" font-size="12.10" text-anchor="middle" fill="#000" font-weight="bold" >D</text>
<text x="385.00" y="487.15" font-size="8.20" text-anchor="middle" fill="#3a3a3a" font-weight="normal" textLength="78.50" lengthAdjust="spacingAndGlyphs" >Bilirubin increments</text>
<text x="385.00" y="497.35" font-size="8.20" text-anchor="middle" fill="#3a3a3a" font-weight="normal" textLength="106.30" lengthAdjust="spacingAndGlyphs" >for RBC units with SLC7A5</text>
<path d="M343.00 602.00 C343.35 602.33 343.85 603.00 345.10 604.00 C346.35 605.00 348.70 606.67 350.50 608.00 C352.30 609.33 354.23 610.63 355.90 612.00 C357.57 613.37 359.23 614.87 360.50 616.20 C361.77 617.53 362.63 618.67 363.50 620.00 C364.37 621.33 364.98 622.48 365.70 624.20 C366.42 625.92 367.63 628.27 367.80 630.30 C367.97 632.33 367.15 634.78 366.70 636.40 C366.25 638.02 365.80 638.67 365.10 640.00 C364.40 641.33 363.43 642.98 362.50 644.40 C361.57 645.82 360.50 647.15 359.50 648.50 C358.50 649.85 357.53 651.17 356.50 652.50 C355.47 653.83 354.30 655.15 353.30 656.50 C352.30 657.85 351.33 659.27 350.50 660.60 C349.67 661.93 348.97 663.15 348.30 664.50 C347.63 665.85 347.07 667.37 346.50 668.70 C345.93 670.03 345.40 671.17 344.90 672.50 C344.40 673.83 343.90 675.45 343.50 676.70 C343.10 677.95 342.75 678.98 342.50 680.00 C342.25 681.02 342.08 682.33 342.00 682.80 L339.00 682.80 C338.92 682.33 338.75 681.02 338.50 680.00 C338.25 678.98 337.90 677.95 337.50 676.70 C337.10 675.45 336.60 673.83 336.10 672.50 C335.60 671.17 335.07 670.03 334.50 668.70 C333.93 667.37 333.37 665.85 332.70 664.50 C332.03 663.15 331.33 661.93 330.50 660.60 C329.67 659.27 328.70 657.85 327.70 656.50 C326.70 655.15 325.53 653.83 324.50 652.50 C323.47 651.17 322.50 649.85 321.50 648.50 C320.50 647.15 319.43 645.82 318.50 644.40 C317.57 642.98 316.60 641.33 315.90 640.00 C315.20 638.67 314.75 638.02 314.30 636.40 C313.85 634.78 313.03 632.33 313.20 630.30 C313.37 628.27 314.58 625.92 315.30 624.20 C316.02 622.48 316.63 621.33 317.50 620.00 C318.37 618.67 319.23 617.53 320.50 616.20 C321.77 614.87 323.43 613.37 325.10 612.00 C326.77 610.63 328.70 609.33 330.50 608.00 C332.30 606.67 334.65 605.00 335.90 604.00 C337.15 603.00 337.65 602.33 338.00 602.00 Z" fill="#e3e4f0" fill-opacity="1.00" stroke="#1a1a1a" stroke-width="1.05" stroke-linejoin="round"/>
<g fill="#c3c5dc" opacity="0.70"><circle cx="348.3" cy="618.2" r="1.90"/><circle cx="328.9" cy="634.4" r="1.90"/><circle cx="341.0" cy="654.0" r="1.90"/><circle cx="320.1" cy="621.8" r="1.90"/><circle cx="322.8" cy="639.9" r="1.90"/><circle cx="329.5" cy="621.0" r="1.90"/><circle cx="344.6" cy="682.5" r="1.90"/><circle cx="321.4" cy="641.3" r="1.90"/><circle cx="324.7" cy="635.5" r="1.90"/><circle cx="326.3" cy="628.9" r="1.90"/><circle cx="358.0" cy="615.4" r="1.90"/><circle cx="334.1" cy="638.0" r="1.90"/><circle cx="321.5" cy="619.4" r="1.90"/><circle cx="352.0" cy="621.7" r="1.90"/><circle cx="349.0" cy="674.8" r="1.90"/><circle cx="343.8" cy="650.8" r="1.90"/><circle cx="339.5" cy="615.4" r="1.90"/><circle cx="357.8" cy="620.5" r="1.90"/><circle cx="335.0" cy="630.9" r="1.90"/><circle cx="360.8" cy="629.4" r="1.90"/><circle cx="328.3" cy="606.8" r="1.90"/><circle cx="340.4" cy="680.5" r="1.90"/><circle cx="350.7" cy="637.7" r="1.90"/><circle cx="342.8" cy="641.1" r="1.90"/><circle cx="327.0" cy="618.8" r="1.90"/><circle cx="336.3" cy="667.1" r="1.90"/><circle cx="324.2" cy="625.0" r="1.90"/><circle cx="351.9" cy="654.3" r="1.90"/><circle cx="347.7" cy="645.5" r="1.90"/><circle cx="338.3" cy="672.6" r="1.90"/><circle cx="342.5" cy="673.5" r="1.90"/><circle cx="335.4" cy="634.7" r="1.90"/><circle cx="329.0" cy="660.0" r="1.90"/><circle cx="351.7" cy="653.5" r="1.90"/><circle cx="322.8" cy="656.2" r="1.90"/><circle cx="337.2" cy="624.1" r="1.90"/><circle cx="333.9" cy="611.5" r="1.90"/><circle cx="345.2" cy="678.0" r="1.90"/><circle cx="359.3" cy="623.0" r="1.90"/><circle cx="321.2" cy="647.7" r="1.90"/><circle cx="352.2" cy="657.0" r="1.90"/><circle cx="337.5" cy="640.6" r="1.90"/><circle cx="333.2" cy="657.5" r="1.90"/><circle cx="351.5" cy="623.4" r="1.90"/><circle cx="359.1" cy="644.9" r="1.90"/><circle cx="346.4" cy="640.4" r="1.90"/><circle cx="330.5" cy="639.4" r="1.90"/><circle cx="349.7" cy="672.1" r="1.90"/><circle cx="323.9" cy="612.4" r="1.90"/><circle cx="325.8" cy="632.9" r="1.90"/><circle cx="325.2" cy="643.5" r="1.90"/><circle cx="340.2" cy="626.2" r="1.90"/><circle cx="327.5" cy="617.9" r="1.90"/><circle cx="342.6" cy="646.5" r="1.90"/><circle cx="355.8" cy="647.3" r="1.90"/><circle cx="320.3" cy="652.5" r="1.90"/><circle cx="351.3" cy="610.1" r="1.90"/><circle cx="330.4" cy="647.2" r="1.90"/><circle cx="321.7" cy="625.9" r="1.90"/><circle cx="356.9" cy="625.8" r="1.90"/><circle cx="342.5" cy="636.0" r="1.90"/><circle cx="344.6" cy="613.5" r="1.90"/><circle cx="359.7" cy="648.3" r="1.90"/><circle cx="341.6" cy="646.1" r="1.90"/><circle cx="353.3" cy="611.1" r="1.90"/><circle cx="333.0" cy="628.6" r="1.90"/><circle cx="323.1" cy="613.5" r="1.90"/><circle cx="351.2" cy="654.4" r="1.90"/><circle cx="320.8" cy="641.7" r="1.90"/><circle cx="341.2" cy="632.4" r="1.90"/><circle cx="329.2" cy="630.0" r="1.90"/><circle cx="330.1" cy="632.2" r="1.90"/><circle cx="349.7" cy="654.4" r="1.90"/><circle cx="335.8" cy="622.0" r="1.90"/><circle cx="359.5" cy="641.5" r="1.90"/><circle cx="340.2" cy="634.3" r="1.90"/><circle cx="349.6" cy="662.2" r="1.90"/><circle cx="347.4" cy="650.4" r="1.90"/><circle cx="348.0" cy="645.7" r="1.90"/><circle cx="337.2" cy="665.6" r="1.90"/><circle cx="359.5" cy="655.6" r="1.90"/><circle cx="336.3" cy="603.3" r="1.90"/><circle cx="326.0" cy="630.1" r="1.90"/><circle cx="332.4" cy="612.5" r="1.90"/><circle cx="339.0" cy="648.5" r="1.90"/><circle cx="345.2" cy="671.6" r="1.90"/><circle cx="346.3" cy="627.2" r="1.90"/><circle cx="359.0" cy="622.8" r="1.90"/><circle cx="354.7" cy="622.6" r="1.90"/><circle cx="328.2" cy="645.1" r="1.90"/><circle cx="335.5" cy="624.5" r="1.90"/><circle cx="337.9" cy="633.6" r="1.90"/><circle cx="327.1" cy="624.4" r="1.90"/><circle cx="327.7" cy="624.6" r="1.90"/><circle cx="350.6" cy="608.0" r="1.90"/><circle cx="320.8" cy="646.5" r="1.90"/><circle cx="344.2" cy="608.2" r="1.90"/><circle cx="320.3" cy="622.1" r="1.90"/><circle cx="332.7" cy="612.9" r="1.90"/><circle cx="336.4" cy="662.1" r="1.90"/><circle cx="353.7" cy="652.5" r="1.90"/><circle cx="329.0" cy="608.9" r="1.90"/><circle cx="329.2" cy="638.4" r="1.90"/><circle cx="357.0" cy="657.5" r="1.90"/><circle cx="342.7" cy="605.0" r="1.90"/><circle cx="348.2" cy="663.3" r="1.90"/><circle cx="322.4" cy="619.4" r="1.90"/><circle cx="345.4" cy="641.0" r="1.90"/><circle cx="333.9" cy="652.7" r="1.90"/><circle cx="332.2" cy="628.2" r="1.90"/><circle cx="326.6" cy="661.5" r="1.90"/><circle cx="347.8" cy="635.6" r="1.90"/><circle cx="322.4" cy="622.9" r="1.90"/><circle cx="347.9" cy="635.2" r="1.90"/><circle cx="324.3" cy="618.0" r="1.90"/><circle cx="336.7" cy="637.2" r="1.90"/><circle cx="341.5" cy="647.5" r="1.90"/><circle cx="328.8" cy="654.9" r="1.90"/><circle cx="341.8" cy="628.2" r="1.90"/><circle cx="349.1" cy="618.5" r="1.90"/><circle cx="354.9" cy="617.9" r="1.90"/><circle cx="345.9" cy="663.7" r="1.90"/><circle cx="357.0" cy="651.5" r="1.90"/><circle cx="354.7" cy="663.9" r="1.90"/><circle cx="351.7" cy="669.4" r="1.90"/><circle cx="336.9" cy="604.6" r="1.90"/><circle cx="351.0" cy="641.2" r="1.90"/><circle cx="358.2" cy="617.5" r="1.90"/><circle cx="330.7" cy="661.6" r="1.90"/><circle cx="351.8" cy="638.3" r="1.90"/><circle cx="335.9" cy="660.5" r="1.90"/><circle cx="327.3" cy="630.5" r="1.90"/><circle cx="334.9" cy="654.1" r="1.90"/><circle cx="338.2" cy="606.6" r="1.90"/><circle cx="345.5" cy="606.2" r="1.90"/><circle cx="358.0" cy="614.0" r="1.90"/><circle cx="340.9" cy="662.0" r="1.90"/><circle cx="337.4" cy="622.2" r="1.90"/><circle cx="350.8" cy="651.2" r="1.90"/><circle cx="337.6" cy="622.9" r="1.90"/><circle cx="330.9" cy="634.5" r="1.90"/><circle cx="321.5" cy="633.4" r="1.90"/><circle cx="352.9" cy="639.8" r="1.90"/><circle cx="360.7" cy="647.9" r="1.90"/><circle cx="320.2" cy="630.2" r="1.90"/><circle cx="343.6" cy="640.1" r="1.90"/><circle cx="329.3" cy="619.8" r="1.90"/><circle cx="339.8" cy="653.5" r="1.90"/><circle cx="353.9" cy="629.0" r="1.90"/><circle cx="336.0" cy="633.7" r="1.90"/><circle cx="348.4" cy="640.9" r="1.90"/><circle cx="335.4" cy="649.2" r="1.90"/><circle cx="352.5" cy="652.0" r="1.90"/><circle cx="354.8" cy="620.5" r="1.90"/><circle cx="332.6" cy="612.2" r="1.90"/><circle cx="354.1" cy="616.2" r="1.90"/><circle cx="332.1" cy="644.7" r="1.90"/><circle cx="340.4" cy="620.8" r="1.90"/><circle cx="348.1" cy="620.8" r="1.90"/><circle cx="335.1" cy="642.6" r="1.90"/><circle cx="322.4" cy="616.7" r="1.90"/><circle cx="325.1" cy="631.5" r="1.90"/><circle cx="320.9" cy="643.8" r="1.90"/><circle cx="338.2" cy="640.0" r="1.90"/><circle cx="337.7" cy="673.2" r="1.90"/><circle cx="335.0" cy="642.3" r="1.90"/><circle cx="346.1" cy="649.9" r="1.90"/><circle cx="329.2" cy="636.3" r="1.90"/><circle cx="344.4" cy="605.4" r="1.90"/><circle cx="344.1" cy="621.1" r="1.90"/><circle cx="352.0" cy="601.5" r="1.90"/><circle cx="359.0" cy="606.0" r="1.90"/><circle cx="326.0" cy="607.0" r="1.90"/><circle cx="321.0" cy="612.0" r="1.90"/><circle cx="363.0" cy="617.0" r="1.90"/><circle cx="330.0" cy="676.0" r="1.90"/><circle cx="349.0" cy="679.0" r="1.90"/><circle cx="353.0" cy="671.0" r="1.90"/><circle cx="327.0" cy="668.0" r="1.90"/><circle cx="345.0" cy="686.0" r="1.90"/></g>
<path d="M343.00 602.00 C343.35 602.33 343.85 603.00 345.10 604.00 C346.35 605.00 348.70 606.67 350.50 608.00 C352.30 609.33 354.23 610.63 355.90 612.00 C357.57 613.37 359.23 614.87 360.50 616.20 C361.77 617.53 362.63 618.67 363.50 620.00 C364.37 621.33 364.98 622.48 365.70 624.20 C366.42 625.92 367.63 628.27 367.80 630.30 C367.97 632.33 367.15 634.78 366.70 636.40 C366.25 638.02 365.80 638.67 365.10 640.00 C364.40 641.33 363.43 642.98 362.50 644.40 C361.57 645.82 360.50 647.15 359.50 648.50 C358.50 649.85 357.53 651.17 356.50 652.50 C355.47 653.83 354.30 655.15 353.30 656.50 C352.30 657.85 351.33 659.27 350.50 660.60 C349.67 661.93 348.97 663.15 348.30 664.50 C347.63 665.85 347.07 667.37 346.50 668.70 C345.93 670.03 345.40 671.17 344.90 672.50 C344.40 673.83 343.90 675.45 343.50 676.70 C343.10 677.95 342.75 678.98 342.50 680.00 C342.25 681.02 342.08 682.33 342.00 682.80 L339.00 682.80 C338.92 682.33 338.75 681.02 338.50 680.00 C338.25 678.98 337.90 677.95 337.50 676.70 C337.10 675.45 336.60 673.83 336.10 672.50 C335.60 671.17 335.07 670.03 334.50 668.70 C333.93 667.37 333.37 665.85 332.70 664.50 C332.03 663.15 331.33 661.93 330.50 660.60 C329.67 659.27 328.70 657.85 327.70 656.50 C326.70 655.15 325.53 653.83 324.50 652.50 C323.47 651.17 322.50 649.85 321.50 648.50 C320.50 647.15 319.43 645.82 318.50 644.40 C317.57 642.98 316.60 641.33 315.90 640.00 C315.20 638.67 314.75 638.02 314.30 636.40 C313.85 634.78 313.03 632.33 313.20 630.30 C313.37 628.27 314.58 625.92 315.30 624.20 C316.02 622.48 316.63 621.33 317.50 620.00 C318.37 618.67 319.23 617.53 320.50 616.20 C321.77 614.87 323.43 613.37 325.10 612.00 C326.77 610.63 328.70 609.33 330.50 608.00 C332.30 606.67 334.65 605.00 335.90 604.00 C337.15 603.00 337.65 602.33 338.00 602.00 Z" fill="none" fill-opacity="1.00" stroke="#1a1a1a" stroke-width="1.05" stroke-linejoin="round"/>
<line x1="340.5" y1="602.0" x2="340.5" y2="624.2" stroke="#222" stroke-width="0.9"/><line x1="340.5" y1="648.5" x2="340.5" y2="682.8" stroke="#222" stroke-width="0.9"/><rect x="331.4" y="624.2" width="18.2" height="24.3" fill="none" stroke="#222" stroke-width="0.9"/><line x1="331.4" y1="635.0" x2="349.6" y2="635.0" stroke="#222" stroke-width="1.3"/><path d="M337.3 635.0 l3.2 -3.3 l3.2 3.3 l-3.2 3.3 Z" fill="#111"/>
<path d="M433.20 511.00 C433.07 511.50 432.73 512.92 432.40 514.00 C432.07 515.08 431.60 516.33 431.20 517.50 C430.80 518.67 430.23 518.08 430.00 521.00 C429.77 523.92 429.85 530.50 429.85 535.00 C429.85 539.50 429.84 545.00 430.00 548.00 C430.16 551.00 430.37 551.50 430.80 553.00 C431.23 554.50 432.10 555.57 432.60 557.00 C433.10 558.43 433.53 560.10 433.80 561.60 C434.07 563.10 433.97 564.32 434.20 566.00 C434.43 567.68 434.35 570.12 435.20 571.70 C436.05 573.28 437.20 574.15 439.30 575.50 C441.40 576.85 445.13 578.30 447.80 579.80 C450.47 581.30 452.83 582.80 455.30 584.50 C457.77 586.20 460.52 588.33 462.60 590.00 C464.68 591.67 466.53 593.03 467.80 594.50 C469.07 595.97 470.95 597.55 470.20 598.80 C469.45 600.05 466.23 600.80 463.30 602.00 C460.37 603.20 455.68 604.50 452.60 606.00 C449.52 607.50 446.87 609.33 444.80 611.00 C442.73 612.67 441.60 614.17 440.20 616.00 C438.80 617.83 437.47 619.95 436.40 622.00 C435.33 624.05 434.50 626.47 433.80 628.30 C433.10 630.13 432.60 631.65 432.20 633.00 C431.80 634.35 431.50 635.40 431.40 636.40 C431.30 637.40 431.37 638.13 431.60 639.00 C431.83 639.87 432.60 641.17 432.80 641.60 L426.80 641.60 C427.00 641.17 427.77 639.87 428.00 639.00 C428.23 638.13 428.30 637.40 428.20 636.40 C428.10 635.40 427.80 634.35 427.40 633.00 C427.00 631.65 426.50 630.13 425.80 628.30 C425.10 626.47 424.27 624.05 423.20 622.00 C422.13 619.95 420.80 617.83 419.40 616.00 C418.00 614.17 416.87 612.67 414.80 611.00 C412.73 609.33 410.08 607.50 407.00 606.00 C403.92 604.50 399.23 603.20 396.30 602.00 C393.37 600.80 390.15 600.05 389.40 598.80 C388.65 597.55 390.53 595.97 391.80 594.50 C393.07 593.03 394.92 591.67 397.00 590.00 C399.08 588.33 401.83 586.20 404.30 584.50 C406.77 582.80 409.13 581.30 411.80 579.80 C414.47 578.30 418.20 576.85 420.30 575.50 C422.40 574.15 423.55 573.28 424.40 571.70 C425.25 570.12 425.17 567.68 425.40 566.00 C425.63 564.32 425.53 563.10 425.80 561.60 C426.07 560.10 426.50 558.43 427.00 557.00 C427.50 555.57 428.37 554.50 428.80 553.00 C429.23 551.50 429.44 551.00 429.60 548.00 C429.76 545.00 429.75 539.50 429.75 535.00 C429.75 530.50 429.83 523.92 429.60 521.00 C429.38 518.08 428.80 518.67 428.40 517.50 C428.00 516.33 427.53 515.08 427.20 514.00 C426.87 512.92 426.53 511.50 426.40 511.00 Z" fill="#c3dcf4" fill-opacity="1.00" stroke="#1a1a1a" stroke-width="1.05" stroke-linejoin="round"/>
<g fill="#a9cdee" opacity="0.70"><circle cx="424.9" cy="623.4" r="1.90"/><circle cx="427.4" cy="640.5" r="1.90"/><circle cx="424.2" cy="601.0" r="1.90"/><circle cx="446.3" cy="584.8" r="1.90"/><circle cx="445.4" cy="598.7" r="1.90"/><circle cx="434.0" cy="617.5" r="1.90"/><circle cx="432.3" cy="612.8" r="1.90"/><circle cx="442.4" cy="583.1" r="1.90"/><circle cx="434.7" cy="620.6" r="1.90"/><circle cx="436.9" cy="597.6" r="1.90"/><circle cx="446.2" cy="586.3" r="1.90"/><circle cx="446.2" cy="606.2" r="1.90"/><circle cx="441.5" cy="580.2" r="1.90"/><circle cx="413.6" cy="582.5" r="1.90"/><circle cx="433.9" cy="561.0" r="1.90"/><circle cx="426.5" cy="596.2" r="1.90"/><circle cx="425.7" cy="616.8" r="1.90"/><circle cx="422.5" cy="598.1" r="1.90"/><circle cx="427.4" cy="597.2" r="1.90"/><circle cx="415.0" cy="597.1" r="1.90"/><circle cx="427.3" cy="590.4" r="1.90"/><circle cx="438.4" cy="619.0" r="1.90"/><circle cx="415.3" cy="592.5" r="1.90"/><circle cx="431.5" cy="581.8" r="1.90"/><circle cx="424.7" cy="589.1" r="1.90"/><circle cx="430.2" cy="562.9" r="1.90"/><circle cx="419.1" cy="600.7" r="1.90"/><circle cx="428.8" cy="567.4" r="1.90"/><circle cx="429.0" cy="617.9" r="1.90"/><circle cx="430.7" cy="595.6" r="1.90"/><circle cx="431.1" cy="636.5" r="1.90"/><circle cx="435.0" cy="603.3" r="1.90"/><circle cx="441.3" cy="606.1" r="1.90"/><circle cx="421.9" cy="621.0" r="1.90"/><circle cx="424.1" cy="599.6" r="1.90"/><circle cx="427.4" cy="601.7" r="1.90"/><circle cx="434.7" cy="563.8" r="1.90"/><circle cx="421.0" cy="577.7" r="1.90"/><circle cx="419.9" cy="611.2" r="1.90"/><circle cx="429.1" cy="575.6" r="1.90"/><circle cx="443.5" cy="510.8" r="1.90"/><circle cx="413.5" cy="565.5" r="1.90"/><circle cx="415.0" cy="576.0" r="1.90"/><circle cx="447.0" cy="572.0" r="1.90"/><circle cx="423.0" cy="642.0" r="1.90"/><circle cx="414.0" cy="614.0" r="1.90"/><circle cx="404.0" cy="590.0" r="1.90"/><circle cx="457.0" cy="606.0" r="1.90"/><circle cx="450.0" cy="584.0" r="1.90"/></g>
<path d="M433.20 511.00 C433.07 511.50 432.73 512.92 432.40 514.00 C432.07 515.08 431.60 516.33 431.20 517.50 C430.80 518.67 430.23 518.08 430.00 521.00 C429.77 523.92 429.85 530.50 429.85 535.00 C429.85 539.50 429.84 545.00 430.00 548.00 C430.16 551.00 430.37 551.50 430.80 553.00 C431.23 554.50 432.10 555.57 432.60 557.00 C433.10 558.43 433.53 560.10 433.80 561.60 C434.07 563.10 433.97 564.32 434.20 566.00 C434.43 567.68 434.35 570.12 435.20 571.70 C436.05 573.28 437.20 574.15 439.30 575.50 C441.40 576.85 445.13 578.30 447.80 579.80 C450.47 581.30 452.83 582.80 455.30 584.50 C457.77 586.20 460.52 588.33 462.60 590.00 C464.68 591.67 466.53 593.03 467.80 594.50 C469.07 595.97 470.95 597.55 470.20 598.80 C469.45 600.05 466.23 600.80 463.30 602.00 C460.37 603.20 455.68 604.50 452.60 606.00 C449.52 607.50 446.87 609.33 444.80 611.00 C442.73 612.67 441.60 614.17 440.20 616.00 C438.80 617.83 437.47 619.95 436.40 622.00 C435.33 624.05 434.50 626.47 433.80 628.30 C433.10 630.13 432.60 631.65 432.20 633.00 C431.80 634.35 431.50 635.40 431.40 636.40 C431.30 637.40 431.37 638.13 431.60 639.00 C431.83 639.87 432.60 641.17 432.80 641.60 L426.80 641.60 C427.00 641.17 427.77 639.87 428.00 639.00 C428.23 638.13 428.30 637.40 428.20 636.40 C428.10 635.40 427.80 634.35 427.40 633.00 C427.00 631.65 426.50 630.13 425.80 628.30 C425.10 626.47 424.27 624.05 423.20 622.00 C422.13 619.95 420.80 617.83 419.40 616.00 C418.00 614.17 416.87 612.67 414.80 611.00 C412.73 609.33 410.08 607.50 407.00 606.00 C403.92 604.50 399.23 603.20 396.30 602.00 C393.37 600.80 390.15 600.05 389.40 598.80 C388.65 597.55 390.53 595.97 391.80 594.50 C393.07 593.03 394.92 591.67 397.00 590.00 C399.08 588.33 401.83 586.20 404.30 584.50 C406.77 582.80 409.13 581.30 411.80 579.80 C414.47 578.30 418.20 576.85 420.30 575.50 C422.40 574.15 423.55 573.28 424.40 571.70 C425.25 570.12 425.17 567.68 425.40 566.00 C425.63 564.32 425.53 563.10 425.80 561.60 C426.07 560.10 426.50 558.43 427.00 557.00 C427.50 555.57 428.37 554.50 428.80 553.00 C429.23 551.50 429.44 551.00 429.60 548.00 C429.76 545.00 429.75 539.50 429.75 535.00 C429.75 530.50 429.83 523.92 429.60 521.00 C429.38 518.08 428.80 518.67 428.40 517.50 C428.00 516.33 427.53 515.08 427.20 514.00 C426.87 512.92 426.53 511.50 426.40 511.00 Z" fill="none" fill-opacity="1.00" stroke="#1a1a1a" stroke-width="1.05" stroke-linejoin="round"/>
<line x1="429.8" y1="579.0" x2="429.8" y2="588.7" stroke="#222" stroke-width="0.9"/><line x1="429.8" y1="603.2" x2="429.8" y2="623.4" stroke="#222" stroke-width="0.9"/><rect x="420.6" y="588.7" width="18.4" height="14.5" fill="#a6cbee" stroke="#222" stroke-width="0.9"/><line x1="420.6" y1="597.2" x2="439.0" y2="597.2" stroke="#222" stroke-width="1.3"/><path d="M426.6 597.2 l3.2 -3.3 l3.2 3.3 l-3.2 3.3 Z" fill="#111"/>
<rect x="286.5" y="503.0" width="196.9" height="187.2" fill="none" stroke="#2a2a2a" stroke-width="1.25"/>
<line x1="283.3" y1="662.2" x2="286.5" y2="662.2" stroke="#333" stroke-width="0.9"/>
<text x="280.30" y="664.62" font-size="7.00" text-anchor="end" fill="#444" font-weight="normal" >0.0</text>
<line x1="283.3" y1="619.4" x2="286.5" y2="619.4" stroke="#333" stroke-width="0.9"/>
<text x="280.30" y="621.82" font-size="7.00" text-anchor="end" fill="#444" font-weight="normal" >0.2</text>
<line x1="283.3" y1="576.6" x2="286.5" y2="576.6" stroke="#333" stroke-width="0.9"/>
<text x="280.30" y="579.02" font-size="7.00" text-anchor="end" fill="#444" font-weight="normal" >0.4</text>
<line x1="283.3" y1="533.8" x2="286.5" y2="533.8" stroke="#333" stroke-width="0.9"/>
<text x="280.30" y="536.22" font-size="7.00" text-anchor="end" fill="#444" font-weight="normal" >0.6</text>
<line x1="339.2" y1="690.2" x2="339.2" y2="693.0" stroke="#333" stroke-width="0.9"/>
<line x1="425.7" y1="690.2" x2="425.7" y2="693.0" stroke="#333" stroke-width="0.9"/>
<text x="390.00" y="525.14" font-size="6.50" text-anchor="middle" fill="#333" font-weight="normal" textLength="10.20" lengthAdjust="spacingAndGlyphs" >****</text>
<text x="339.20" y="703.90" font-size="6.40" text-anchor="middle" fill="#3c3c3c" font-weight="normal" textLength="40.00" lengthAdjust="spacingAndGlyphs" >Homozygous</text>
<text x="339.20" y="712.60" font-size="6.40" text-anchor="middle" fill="#3c3c3c" font-weight="normal" textLength="30.00" lengthAdjust="spacingAndGlyphs" >dominant</text>
<text x="425.70" y="703.90" font-size="6.40" text-anchor="middle" fill="#3c3c3c" font-weight="normal" textLength="40.00" lengthAdjust="spacingAndGlyphs" >Homozygous</text>
<text x="425.70" y="712.60" font-size="6.40" text-anchor="middle" fill="#3c3c3c" font-weight="normal" textLength="28.50" lengthAdjust="spacingAndGlyphs" >recessive</text>
<text transform="translate(262.60 595.50) rotate(-90)" x="0" y="2.99" font-size="8.30" text-anchor="middle" fill="#444" font-weight="normal" textLength="61.60" lengthAdjust="spacingAndGlyphs">Deltaind_predicted</text>
<rect x="0.5" y="0.5" width="519" height="720" fill="none" stroke="#4a4a4a" stroke-width="1"/>
</svg>
</body></html>
